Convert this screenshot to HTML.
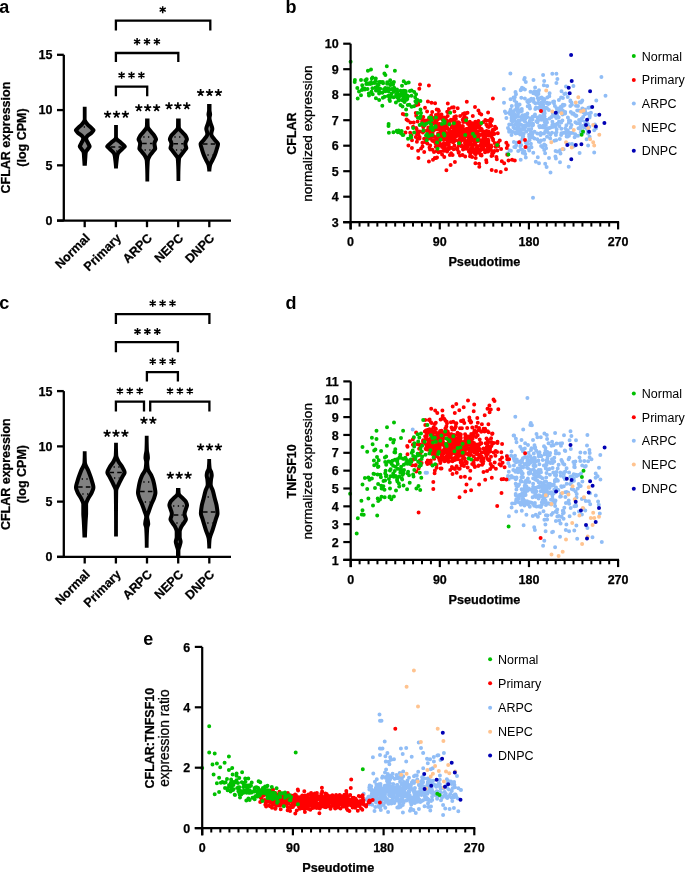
<!DOCTYPE html>
<html><head><meta charset="utf-8"><style>html,body{margin:0;padding:0;background:#fff;}svg{display:block;will-change:transform;}</style></head>
<body><svg width="685" height="872" viewBox="0 0 685 872" font-family="'Liberation Sans', sans-serif">
<rect width="685" height="872" fill="#fff"/>
<text x="-0.80" y="13.00" font-size="18" font-weight="bold" text-anchor="start" fill="#000">a</text>
<text x="285.40" y="12.90" font-size="18" font-weight="bold" text-anchor="start" fill="#000">b</text>
<text x="-0.70" y="308.60" font-size="18" font-weight="bold" text-anchor="start" fill="#000">c</text>
<text x="285.60" y="308.90" font-size="18" font-weight="bold" text-anchor="start" fill="#000">d</text>
<text x="143.20" y="644.90" font-size="18" font-weight="bold" text-anchor="start" fill="#000">e</text>
<line x1="63.80" y1="54.80" x2="63.80" y2="220.60" stroke="#000" stroke-width="2.3" stroke-linecap="butt"/>
<line x1="57.00" y1="220.60" x2="63.80" y2="220.60" stroke="#000" stroke-width="2.3" stroke-linecap="butt"/>
<text x="52.50" y="225.00" font-size="12.5" font-weight="bold" text-anchor="end" fill="#000" stroke="#000" stroke-width="0.25">0</text>
<line x1="57.00" y1="165.33" x2="63.80" y2="165.33" stroke="#000" stroke-width="2.3" stroke-linecap="butt"/>
<text x="52.50" y="169.73" font-size="12.5" font-weight="bold" text-anchor="end" fill="#000" stroke="#000" stroke-width="0.25">5</text>
<line x1="57.00" y1="110.07" x2="63.80" y2="110.07" stroke="#000" stroke-width="2.3" stroke-linecap="butt"/>
<text x="52.50" y="114.47" font-size="12.5" font-weight="bold" text-anchor="end" fill="#000" stroke="#000" stroke-width="0.25">10</text>
<line x1="57.00" y1="54.80" x2="63.80" y2="54.80" stroke="#000" stroke-width="2.3" stroke-linecap="butt"/>
<text x="52.50" y="59.20" font-size="12.5" font-weight="bold" text-anchor="end" fill="#000" stroke="#000" stroke-width="0.25">15</text>
<line x1="57.00" y1="220.60" x2="231.00" y2="220.60" stroke="#000" stroke-width="2.3" stroke-linecap="butt"/>
<line x1="84.70" y1="220.60" x2="84.70" y2="227.20" stroke="#000" stroke-width="2.3" stroke-linecap="butt"/>
<text x="90.60" y="238.80" font-size="12.5" font-weight="bold" text-anchor="end" fill="#000" transform="rotate(-45 90.60000000000001 238.79999999999998)" stroke="#000" stroke-width="0.25">Normal</text>
<line x1="115.90" y1="220.60" x2="115.90" y2="227.20" stroke="#000" stroke-width="2.3" stroke-linecap="butt"/>
<text x="121.80" y="238.80" font-size="12.5" font-weight="bold" text-anchor="end" fill="#000" transform="rotate(-45 121.80000000000001 238.79999999999998)" stroke="#000" stroke-width="0.25">Primary</text>
<line x1="147.00" y1="220.60" x2="147.00" y2="227.20" stroke="#000" stroke-width="2.3" stroke-linecap="butt"/>
<text x="152.90" y="238.80" font-size="12.5" font-weight="bold" text-anchor="end" fill="#000" transform="rotate(-45 152.9 238.79999999999998)" stroke="#000" stroke-width="0.25">ARPC</text>
<line x1="178.20" y1="220.60" x2="178.20" y2="227.20" stroke="#000" stroke-width="2.3" stroke-linecap="butt"/>
<text x="184.10" y="238.80" font-size="12.5" font-weight="bold" text-anchor="end" fill="#000" transform="rotate(-45 184.1 238.79999999999998)" stroke="#000" stroke-width="0.25">NEPC</text>
<line x1="209.30" y1="220.60" x2="209.30" y2="227.20" stroke="#000" stroke-width="2.3" stroke-linecap="butt"/>
<text x="215.20" y="238.80" font-size="12.5" font-weight="bold" text-anchor="end" fill="#000" transform="rotate(-45 215.20000000000002 238.79999999999998)" stroke="#000" stroke-width="0.25">DNPC</text>
<text x="10.20" y="137.60" font-size="12.5" font-weight="bold" text-anchor="middle" fill="#000" transform="rotate(-90 10.2 137.6)" stroke="#000" stroke-width="0.25">CFLAR expression</text>
<text x="26.20" y="137.60" font-size="12.5" font-weight="bold" text-anchor="middle" fill="#000" transform="rotate(-90 26.2 137.6)" stroke="#000" stroke-width="0.25">(log CPM)</text>
<path d="M115.90,30.40V20.60H210.30V30.40" stroke="#000" stroke-width="2.3" fill="none" stroke-linejoin="miter" stroke-linecap="butt"/>
<path d="M115.90,62.00V53.00H178.30V62.00" stroke="#000" stroke-width="2.3" fill="none" stroke-linejoin="miter" stroke-linecap="butt"/>
<path d="M115.90,96.20V86.60H147.20V96.20" stroke="#000" stroke-width="2.3" fill="none" stroke-linejoin="miter" stroke-linecap="butt"/>
<path d="M162.70,6.15V13.25M159.63,7.92L165.77,11.47M159.63,11.47L165.77,7.92" stroke="#000" stroke-width="1.5" fill="none"/>
<path d="M137.10,38.05V45.15M134.03,39.83L140.17,43.38M134.03,43.38L140.17,39.83M147.00,38.05V45.15M143.93,39.83L150.07,43.38M143.93,43.38L150.07,39.83M156.90,38.05V45.15M153.83,39.83L159.97,43.38M153.83,43.38L159.97,39.83" stroke="#000" stroke-width="1.5" fill="none"/>
<path d="M121.60,71.75V78.85M118.53,73.52L124.67,77.08M118.53,77.08L124.67,73.52M131.50,71.75V78.85M128.43,73.52L134.57,77.08M128.43,77.08L134.57,73.52M141.40,71.75V78.85M138.33,73.52L144.47,77.08M138.33,77.08L144.47,73.52" stroke="#000" stroke-width="1.5" fill="none"/>
<path d="M107.60,114.50L107.60,110.80M107.60,114.50L111.12,113.36M107.60,114.50L109.77,117.49M107.60,114.50L105.43,117.49M107.60,114.50L104.08,113.36M116.50,114.50L116.50,110.80M116.50,114.50L120.02,113.36M116.50,114.50L118.67,117.49M116.50,114.50L114.33,117.49M116.50,114.50L112.98,113.36M125.40,114.50L125.40,110.80M125.40,114.50L128.92,113.36M125.40,114.50L127.57,117.49M125.40,114.50L123.23,117.49M125.40,114.50L121.88,113.36" stroke="#000" stroke-width="1.7" fill="none" stroke-linecap="butt"/>
<path d="M138.80,107.90L138.80,104.20M138.80,107.90L142.32,106.76M138.80,107.90L140.97,110.89M138.80,107.90L136.63,110.89M138.80,107.90L135.28,106.76M147.70,107.90L147.70,104.20M147.70,107.90L151.22,106.76M147.70,107.90L149.87,110.89M147.70,107.90L145.53,110.89M147.70,107.90L144.18,106.76M156.60,107.90L156.60,104.20M156.60,107.90L160.12,106.76M156.60,107.90L158.77,110.89M156.60,107.90L154.43,110.89M156.60,107.90L153.08,106.76" stroke="#000" stroke-width="1.7" fill="none" stroke-linecap="butt"/>
<path d="M169.00,106.00L169.00,102.30M169.00,106.00L172.52,104.86M169.00,106.00L171.17,108.99M169.00,106.00L166.83,108.99M169.00,106.00L165.48,104.86M177.90,106.00L177.90,102.30M177.90,106.00L181.42,104.86M177.90,106.00L180.07,108.99M177.90,106.00L175.73,108.99M177.90,106.00L174.38,104.86M186.80,106.00L186.80,102.30M186.80,106.00L190.32,104.86M186.80,106.00L188.97,108.99M186.80,106.00L184.63,108.99M186.80,106.00L183.28,104.86" stroke="#000" stroke-width="1.7" fill="none" stroke-linecap="butt"/>
<path d="M200.60,92.80L200.60,89.10M200.60,92.80L204.12,91.66M200.60,92.80L202.77,95.79M200.60,92.80L198.43,95.79M200.60,92.80L197.08,91.66M209.50,92.80L209.50,89.10M209.50,92.80L213.02,91.66M209.50,92.80L211.67,95.79M209.50,92.80L207.33,95.79M209.50,92.80L205.98,91.66M218.40,92.80L218.40,89.10M218.40,92.80L221.92,91.66M218.40,92.80L220.57,95.79M218.40,92.80L216.23,95.79M218.40,92.80L214.88,91.66" stroke="#000" stroke-width="1.7" fill="none" stroke-linecap="butt"/>
<path d="M86.60,106.80L86.60,107.05L86.60,107.30L86.60,107.55L86.60,107.80L86.60,108.05L86.60,108.30L86.60,108.55L86.60,108.80L86.60,109.05L86.60,109.30L86.60,109.55L86.60,109.80L86.60,110.05L86.60,110.30L86.60,110.55L86.60,110.80L86.60,111.05L86.60,111.30L86.60,111.55L86.60,111.80L86.60,112.05L86.60,112.30L86.60,112.55L86.60,112.80L86.60,113.05L86.60,113.30L86.60,113.55L86.60,113.80L86.60,114.05L86.60,114.30L86.60,114.55L86.60,114.80L86.60,115.05L86.60,115.30L86.60,115.55L86.60,115.80L86.60,116.05L86.60,116.30L86.60,116.55L86.60,116.80L86.60,117.05L86.60,117.30L86.60,117.55L86.60,117.80L86.60,118.05L86.60,118.30L86.60,118.55L86.60,118.80L86.60,119.05L86.62,119.30L86.67,119.55L86.74,119.80L86.84,120.05L86.96,120.30L87.09,120.55L87.24,120.80L87.41,121.05L87.58,121.30L87.77,121.55L87.96,121.80L88.15,122.05L88.35,122.30L88.55,122.55L88.75,122.80L88.94,123.05L89.15,123.30L89.38,123.55L89.64,123.80L89.91,124.05L90.20,124.30L90.50,124.55L90.80,124.80L91.11,125.05L91.41,125.30L91.70,125.55L91.99,125.80L92.26,126.05L92.51,126.30L92.74,126.55L92.98,126.80L93.22,127.05L93.48,127.30L93.73,127.55L93.98,127.80L94.23,128.05L94.47,128.30L94.69,128.55L94.89,128.80L95.08,129.05L95.23,129.30L95.36,129.55L95.44,129.80L95.49,130.05L95.50,130.30L95.47,130.55L95.41,130.80L95.32,131.05L95.21,131.30L95.07,131.55L94.92,131.80L94.75,132.05L94.57,132.30L94.38,132.55L94.18,132.80L93.97,133.05L93.76,133.30L93.56,133.55L93.36,133.80L93.16,134.05L92.94,134.30L92.67,134.55L92.38,134.80L92.06,135.05L91.71,135.30L91.35,135.55L90.99,135.80L90.62,136.05L90.26,136.30L89.90,136.55L89.57,136.80L89.25,137.05L88.97,137.30L88.72,137.55L88.51,137.80L88.35,138.05L88.25,138.30L88.20,138.55L88.21,138.80L88.25,139.05L88.32,139.30L88.40,139.55L88.51,139.80L88.63,140.05L88.77,140.30L88.91,140.55L89.06,140.80L89.20,141.05L89.35,141.30L89.48,141.55L89.61,141.80L89.72,142.05L89.84,142.30L89.96,142.55L90.09,142.80L90.22,143.05L90.36,143.30L90.49,143.55L90.63,143.80L90.76,144.05L90.90,144.30L91.02,144.55L91.14,144.80L91.25,145.05L91.34,145.30L91.43,145.55L91.50,145.80L91.55,146.05L91.58,146.30L91.60,146.55L91.59,146.80L91.54,147.05L91.46,147.30L91.35,147.55L91.22,147.80L91.07,148.05L90.91,148.30L90.73,148.55L90.55,148.80L90.36,149.05L90.18,149.30L90.00,149.55L89.83,149.80L89.67,150.05L89.50,150.30L89.31,150.55L89.11,150.80L88.90,151.05L88.69,151.30L88.49,151.55L88.29,151.80L88.12,152.05L87.96,152.30L87.84,152.55L87.74,152.80L87.69,153.05L87.66,153.30L87.62,153.55L87.59,153.80L87.57,154.05L87.54,154.30L87.52,154.55L87.50,154.80L87.48,155.05L87.46,155.30L87.45,155.55L87.43,155.80L87.42,156.05L87.40,156.30L87.39,156.55L87.37,156.80L87.36,157.05L87.35,157.30L87.33,157.55L87.31,157.80L87.30,158.05L87.28,158.30L87.26,158.55L87.24,158.80L87.22,159.05L87.21,159.30L87.19,159.55L87.17,159.80L87.16,160.05L87.14,160.30L87.12,160.55L87.10,160.80L87.09,161.05L87.07,161.30L87.05,161.55L87.04,161.80L87.02,162.05L87.00,162.30L86.99,162.55L86.97,162.80L86.96,163.05L86.94,163.30L86.93,163.55L86.91,163.80L86.90,164.05L86.88,164.30L86.87,164.55L86.85,164.80L86.84,165.05L86.82,165.30L86.81,165.55L86.80,165.70L82.60,165.70L82.59,165.55L82.58,165.30L82.56,165.05L82.55,164.80L82.53,164.55L82.52,164.30L82.50,164.05L82.49,163.80L82.47,163.55L82.46,163.30L82.44,163.05L82.43,162.80L82.41,162.55L82.40,162.30L82.38,162.05L82.36,161.80L82.35,161.55L82.33,161.30L82.31,161.05L82.30,160.80L82.28,160.55L82.26,160.30L82.24,160.05L82.23,159.80L82.21,159.55L82.19,159.30L82.18,159.05L82.16,158.80L82.14,158.55L82.12,158.30L82.10,158.05L82.09,157.80L82.07,157.55L82.05,157.30L82.04,157.05L82.03,156.80L82.01,156.55L82.00,156.30L81.98,156.05L81.97,155.80L81.95,155.55L81.94,155.30L81.92,155.05L81.90,154.80L81.88,154.55L81.86,154.30L81.83,154.05L81.81,153.80L81.78,153.55L81.74,153.30L81.71,153.05L81.66,152.80L81.56,152.55L81.44,152.30L81.28,152.05L81.11,151.80L80.91,151.55L80.71,151.30L80.50,151.05L80.29,150.80L80.09,150.55L79.90,150.30L79.73,150.05L79.57,149.80L79.40,149.55L79.22,149.30L79.04,149.05L78.85,148.80L78.67,148.55L78.49,148.30L78.33,148.05L78.18,147.80L78.05,147.55L77.94,147.30L77.86,147.05L77.81,146.80L77.80,146.55L77.82,146.30L77.85,146.05L77.90,145.80L77.97,145.55L78.06,145.30L78.15,145.05L78.26,144.80L78.38,144.55L78.50,144.30L78.64,144.05L78.77,143.80L78.91,143.55L79.04,143.30L79.18,143.05L79.31,142.80L79.44,142.55L79.56,142.30L79.68,142.05L79.79,141.80L79.92,141.55L80.05,141.30L80.20,141.05L80.34,140.80L80.49,140.55L80.63,140.30L80.77,140.05L80.89,139.80L81.00,139.55L81.08,139.30L81.15,139.05L81.19,138.80L81.20,138.55L81.15,138.30L81.05,138.05L80.89,137.80L80.68,137.55L80.43,137.30L80.15,137.05L79.83,136.80L79.50,136.55L79.14,136.30L78.78,136.05L78.41,135.80L78.05,135.55L77.69,135.30L77.34,135.05L77.02,134.80L76.73,134.55L76.46,134.30L76.24,134.05L76.04,133.80L75.84,133.55L75.64,133.30L75.43,133.05L75.22,132.80L75.02,132.55L74.83,132.30L74.65,132.05L74.48,131.80L74.33,131.55L74.19,131.30L74.08,131.05L73.99,130.80L73.93,130.55L73.90,130.30L73.91,130.05L73.96,129.80L74.04,129.55L74.17,129.30L74.32,129.05L74.51,128.80L74.71,128.55L74.93,128.30L75.17,128.05L75.42,127.80L75.67,127.55L75.92,127.30L76.18,127.05L76.42,126.80L76.66,126.55L76.89,126.30L77.14,126.05L77.41,125.80L77.70,125.55L77.99,125.30L78.29,125.05L78.60,124.80L78.90,124.55L79.20,124.30L79.49,124.05L79.76,123.80L80.02,123.55L80.25,123.30L80.46,123.05L80.65,122.80L80.85,122.55L81.05,122.30L81.25,122.05L81.44,121.80L81.63,121.55L81.82,121.30L81.99,121.05L82.16,120.80L82.31,120.55L82.44,120.30L82.56,120.05L82.66,119.80L82.73,119.55L82.78,119.30L82.80,119.05L82.80,118.80L82.80,118.55L82.80,118.30L82.80,118.05L82.80,117.80L82.80,117.55L82.80,117.30L82.80,117.05L82.80,116.80L82.80,116.55L82.80,116.30L82.80,116.05L82.80,115.80L82.80,115.55L82.80,115.30L82.80,115.05L82.80,114.80L82.80,114.55L82.80,114.30L82.80,114.05L82.80,113.80L82.80,113.55L82.80,113.30L82.80,113.05L82.80,112.80L82.80,112.55L82.80,112.30L82.80,112.05L82.80,111.80L82.80,111.55L82.80,111.30L82.80,111.05L82.80,110.80L82.80,110.55L82.80,110.30L82.80,110.05L82.80,109.80L82.80,109.55L82.80,109.30L82.80,109.05L82.80,108.80L82.80,108.55L82.80,108.30L82.80,108.05L82.80,107.80L82.80,107.55L82.80,107.30L82.80,107.05L82.80,106.80Z" fill="#000"/>
<path d="M84.84,124.30L85.03,124.55L85.23,124.80L85.43,125.05L85.62,125.30L85.82,125.55L86.03,125.80L86.24,126.05L86.48,126.30L86.73,126.55L86.99,126.80L87.27,127.05L87.56,127.30L87.85,127.55L88.16,127.80L88.46,128.05L88.76,128.30L89.06,128.55L89.34,128.80L89.61,129.05L89.84,129.30L90.07,129.55L90.32,129.80L90.57,130.05L90.82,130.30L90.85,130.55L90.64,130.80L90.44,131.05L90.23,131.30L90.03,131.55L89.72,131.80L89.38,132.05L89.02,132.30L88.66,132.55L88.29,132.80L87.93,133.05L87.57,133.30L87.24,133.55L86.92,133.80L86.61,134.05L86.32,134.30L86.06,134.55L85.82,134.80L85.60,135.05L85.39,135.30L85.21,135.55L85.05,135.80L84.89,136.05L84.76,136.30L84.64,136.30L84.51,136.05L84.35,135.80L84.19,135.55L84.01,135.30L83.80,135.05L83.58,134.80L83.34,134.55L83.08,134.30L82.79,134.05L82.48,133.80L82.16,133.55L81.83,133.30L81.47,133.05L81.11,132.80L80.74,132.55L80.38,132.30L80.02,132.05L79.68,131.80L79.37,131.55L79.17,131.30L78.96,131.05L78.76,130.80L78.55,130.55L78.58,130.30L78.83,130.05L79.08,129.80L79.33,129.55L79.56,129.30L79.79,129.05L80.06,128.80L80.34,128.55L80.64,128.30L80.94,128.05L81.24,127.80L81.55,127.55L81.84,127.30L82.13,127.05L82.41,126.80L82.67,126.55L82.92,126.30L83.16,126.05L83.37,125.80L83.58,125.55L83.78,125.30L83.97,125.05L84.17,124.80L84.37,124.55L84.56,124.30Z" fill="#818181"/>
<path d="M84.80,141.30L84.91,141.55L85.04,141.80L85.17,142.05L85.30,142.30L85.45,142.55L85.59,142.80L85.74,143.05L85.88,143.30L86.01,143.55L86.12,143.80L86.24,144.05L86.36,144.30L86.49,144.55L86.62,144.80L86.75,145.05L86.89,145.30L87.03,145.55L87.17,145.80L87.30,146.05L87.42,146.30L87.24,146.55L87.05,146.80L86.87,147.05L86.69,147.30L86.52,147.55L86.36,147.80L86.19,148.05L85.99,148.30L85.78,148.55L85.57,148.80L85.37,149.05L85.17,149.30L84.99,149.55L84.81,149.80L84.59,149.80L84.41,149.55L84.23,149.30L84.03,149.05L83.83,148.80L83.62,148.55L83.41,148.30L83.21,148.05L83.04,147.80L82.88,147.55L82.71,147.30L82.53,147.05L82.35,146.80L82.16,146.55L81.98,146.30L82.10,146.05L82.23,145.80L82.37,145.55L82.51,145.30L82.65,145.05L82.78,144.80L82.91,144.55L83.04,144.30L83.16,144.05L83.28,143.80L83.39,143.55L83.52,143.30L83.66,143.05L83.81,142.80L83.95,142.55L84.10,142.30L84.23,142.05L84.36,141.80L84.49,141.55L84.60,141.30Z" fill="#818181"/>
<line x1="82.19" y1="127" x2="87.21" y2="127" stroke="#000" stroke-width="1.3" stroke-dasharray="1.3 3.4" stroke-dashoffset="-1.5"/>
<path d="M117.90,125.00L117.90,125.25L117.90,125.50L117.90,125.75L117.90,126.00L117.90,126.25L117.90,126.50L117.90,126.75L117.90,127.00L117.90,127.25L117.90,127.50L117.90,127.75L117.90,128.00L117.90,128.25L117.90,128.50L117.90,128.75L117.90,129.00L117.90,129.25L117.90,129.50L117.90,129.75L117.90,130.00L117.90,130.25L117.90,130.50L117.90,130.75L117.90,131.00L117.90,131.25L117.90,131.50L117.90,131.75L117.90,132.00L117.90,132.25L117.90,132.50L117.90,132.75L117.90,133.00L117.90,133.25L117.90,133.50L117.90,133.75L117.90,134.00L117.90,134.25L117.90,134.50L117.90,134.75L117.90,135.00L117.90,135.25L117.90,135.50L117.90,135.75L117.90,136.00L117.90,136.25L117.90,136.50L117.90,136.75L117.90,137.00L117.93,137.25L118.02,137.50L118.17,137.75L118.36,138.00L118.60,138.25L118.87,138.50L119.16,138.75L119.48,139.00L119.81,139.25L120.15,139.50L120.49,139.75L120.83,140.00L121.16,140.25L121.46,140.50L121.75,140.75L122.00,141.00L122.24,141.25L122.50,141.50L122.76,141.75L123.04,142.00L123.32,142.25L123.60,142.50L123.89,142.75L124.17,143.00L124.46,143.25L124.73,143.50L125.00,143.75L125.26,144.00L125.51,144.25L125.74,144.50L125.96,144.75L126.15,145.00L126.33,145.25L126.48,145.50L126.60,145.75L126.70,146.00L126.77,146.25L126.80,146.50L126.79,146.75L126.73,147.00L126.62,147.25L126.47,147.50L126.28,147.75L126.06,148.00L125.82,148.25L125.56,148.50L125.29,148.75L125.01,149.00L124.74,149.25L124.48,149.50L124.23,149.75L124.00,150.00L123.78,150.25L123.54,150.50L123.29,150.75L123.03,151.00L122.76,151.25L122.48,151.50L122.21,151.75L121.93,152.00L121.65,152.25L121.38,152.50L121.12,152.75L120.87,153.00L120.63,153.25L120.40,153.50L120.19,153.75L120.00,154.00L119.84,154.25L119.70,154.50L119.58,154.75L119.50,155.00L119.43,155.25L119.37,155.50L119.32,155.75L119.26,156.00L119.21,156.25L119.17,156.50L119.12,156.75L119.08,157.00L119.04,157.25L119.01,157.50L118.97,157.75L118.94,158.00L118.91,158.25L118.88,158.50L118.85,158.75L118.82,159.00L118.79,159.25L118.76,159.50L118.73,159.75L118.70,160.00L118.67,160.25L118.64,160.50L118.61,160.75L118.58,161.00L118.55,161.25L118.52,161.50L118.49,161.75L118.47,162.00L118.44,162.25L118.41,162.50L118.38,162.75L118.36,163.00L118.33,163.25L118.30,163.50L118.28,163.75L118.25,164.00L118.23,164.25L118.21,164.50L118.18,164.75L118.16,165.00L118.14,165.25L118.12,165.50L118.09,165.75L118.07,166.00L118.05,166.25L118.03,166.50L118.02,166.75L118.00,167.00L117.98,167.25L117.96,167.50L117.95,167.75L117.93,168.00L117.92,168.25L117.91,168.50L117.90,168.60L114.10,168.60L114.09,168.50L114.08,168.25L114.07,168.00L114.05,167.75L114.04,167.50L114.02,167.25L114.00,167.00L113.98,166.75L113.97,166.50L113.95,166.25L113.93,166.00L113.91,165.75L113.88,165.50L113.86,165.25L113.84,165.00L113.82,164.75L113.79,164.50L113.77,164.25L113.75,164.00L113.72,163.75L113.70,163.50L113.67,163.25L113.64,163.00L113.62,162.75L113.59,162.50L113.56,162.25L113.53,162.00L113.51,161.75L113.48,161.50L113.45,161.25L113.42,161.00L113.39,160.75L113.36,160.50L113.33,160.25L113.30,160.00L113.27,159.75L113.24,159.50L113.21,159.25L113.18,159.00L113.15,158.75L113.12,158.50L113.09,158.25L113.06,158.00L113.03,157.75L112.99,157.50L112.96,157.25L112.92,157.00L112.88,156.75L112.83,156.50L112.79,156.25L112.74,156.00L112.68,155.75L112.63,155.50L112.57,155.25L112.50,155.00L112.42,154.75L112.30,154.50L112.16,154.25L112.00,154.00L111.81,153.75L111.60,153.50L111.37,153.25L111.13,153.00L110.88,152.75L110.62,152.50L110.35,152.25L110.07,152.00L109.79,151.75L109.52,151.50L109.24,151.25L108.97,151.00L108.71,150.75L108.46,150.50L108.22,150.25L108.00,150.00L107.77,149.75L107.52,149.50L107.26,149.25L106.99,149.00L106.71,148.75L106.44,148.50L106.18,148.25L105.94,148.00L105.72,147.75L105.53,147.50L105.38,147.25L105.27,147.00L105.21,146.75L105.20,146.50L105.23,146.25L105.30,146.00L105.40,145.75L105.52,145.50L105.67,145.25L105.85,145.00L106.04,144.75L106.26,144.50L106.49,144.25L106.74,144.00L107.00,143.75L107.27,143.50L107.54,143.25L107.83,143.00L108.11,142.75L108.40,142.50L108.68,142.25L108.96,142.00L109.24,141.75L109.50,141.50L109.76,141.25L110.00,141.00L110.25,140.75L110.54,140.50L110.84,140.25L111.17,140.00L111.51,139.75L111.85,139.50L112.19,139.25L112.52,139.00L112.84,138.75L113.13,138.50L113.40,138.25L113.64,138.00L113.83,137.75L113.98,137.50L114.07,137.25L114.10,137.00L114.10,136.75L114.10,136.50L114.10,136.25L114.10,136.00L114.10,135.75L114.10,135.50L114.10,135.25L114.10,135.00L114.10,134.75L114.10,134.50L114.10,134.25L114.10,134.00L114.10,133.75L114.10,133.50L114.10,133.25L114.10,133.00L114.10,132.75L114.10,132.50L114.10,132.25L114.10,132.00L114.10,131.75L114.10,131.50L114.10,131.25L114.10,131.00L114.10,130.75L114.10,130.50L114.10,130.25L114.10,130.00L114.10,129.75L114.10,129.50L114.10,129.25L114.10,129.00L114.10,128.75L114.10,128.50L114.10,128.25L114.10,128.00L114.10,127.75L114.10,127.50L114.10,127.25L114.10,127.00L114.10,126.75L114.10,126.50L114.10,126.25L114.10,126.00L114.10,125.75L114.10,125.50L114.10,125.25L114.10,125.00Z" fill="#000"/>
<path d="M116.22,141.50L116.52,141.75L116.83,142.00L117.15,142.25L117.48,142.50L117.82,142.75L118.16,143.00L118.50,143.25L118.82,143.50L119.10,143.75L119.34,144.00L119.59,144.25L119.85,144.50L120.12,144.75L120.39,145.00L120.67,145.25L120.96,145.50L121.24,145.75L121.53,146.00L121.81,146.25L121.83,146.50L121.57,146.75L121.32,147.00L121.10,147.25L120.87,147.50L120.63,147.75L120.38,148.00L120.11,148.25L119.84,148.50L119.56,148.75L119.28,149.00L119.01,149.25L118.74,149.50L118.48,149.75L118.22,150.00L117.96,150.25L117.72,150.50L117.50,150.75L117.28,151.00L117.07,151.25L116.88,151.50L116.70,151.75L116.53,152.00L116.37,152.25L116.23,152.50L116.10,152.75L115.90,152.75L115.77,152.50L115.63,152.25L115.47,152.00L115.30,151.75L115.12,151.50L114.93,151.25L114.72,151.00L114.50,150.75L114.28,150.50L114.04,150.25L113.78,150.00L113.52,149.75L113.26,149.50L112.99,149.25L112.72,149.00L112.44,148.75L112.16,148.50L111.89,148.25L111.62,148.00L111.37,147.75L111.13,147.50L110.90,147.25L110.68,147.00L110.43,146.75L110.17,146.50L110.19,146.25L110.47,146.00L110.76,145.75L111.04,145.50L111.33,145.25L111.61,145.00L111.88,144.75L112.15,144.50L112.41,144.25L112.66,144.00L112.90,143.75L113.18,143.50L113.50,143.25L113.84,143.00L114.18,142.75L114.52,142.50L114.85,142.25L115.17,142.00L115.48,141.75L115.78,141.50Z" fill="#818181"/>
<line x1="110.68" y1="147" x2="121.32" y2="147" stroke="#000" stroke-width="1.4" stroke-dasharray="4.6 3.2"/>
<line x1="115.17" y1="142" x2="116.83" y2="142" stroke="#000" stroke-width="1.3" stroke-dasharray="1.3 3.4" stroke-dashoffset="-1.5"/>
<line x1="114.72" y1="151" x2="117.28" y2="151" stroke="#000" stroke-width="1.3" stroke-dasharray="1.3 3.4" stroke-dashoffset="-1.5"/>
<path d="M149.50,118.40L149.50,118.65L149.50,118.90L149.50,119.15L149.50,119.40L149.50,119.65L149.51,119.90L149.51,120.15L149.51,120.40L149.52,120.65L149.52,120.90L149.52,121.15L149.53,121.40L149.53,121.65L149.54,121.90L149.55,122.15L149.55,122.40L149.56,122.65L149.57,122.90L149.57,123.15L149.58,123.40L149.59,123.65L149.60,123.90L149.61,124.15L149.62,124.40L149.63,124.65L149.64,124.90L149.66,125.15L149.67,125.40L149.68,125.65L149.69,125.90L149.71,126.15L149.77,126.40L149.85,126.65L149.95,126.90L150.09,127.15L150.24,127.40L150.41,127.65L150.59,127.90L150.79,128.15L150.99,128.40L151.20,128.65L151.42,128.90L151.63,129.15L151.84,129.40L152.04,129.65L152.23,129.90L152.41,130.15L152.60,130.40L152.80,130.65L153.01,130.90L153.22,131.15L153.44,131.40L153.66,131.65L153.88,131.90L154.11,132.15L154.33,132.40L154.56,132.65L154.78,132.90L154.99,133.15L155.20,133.40L155.40,133.65L155.59,133.90L155.78,134.15L155.95,134.40L156.10,134.65L156.25,134.90L156.38,135.15L156.51,135.40L156.64,135.65L156.78,135.90L156.91,136.15L157.04,136.40L157.17,136.65L157.29,136.90L157.41,137.15L157.52,137.40L157.62,137.65L157.72,137.90L157.80,138.15L157.87,138.40L157.92,138.65L157.97,138.90L157.99,139.15L158.00,139.40L157.98,139.65L157.94,139.90L157.87,140.15L157.78,140.40L157.67,140.65L157.54,140.90L157.41,141.15L157.28,141.40L157.14,141.65L157.01,141.90L156.88,142.15L156.77,142.40L156.67,142.65L156.59,142.90L156.53,143.15L156.50,143.40L156.50,143.65L156.51,143.90L156.53,144.15L156.56,144.40L156.59,144.65L156.63,144.90L156.67,145.15L156.72,145.40L156.77,145.65L156.82,145.90L156.87,146.15L156.92,146.40L156.97,146.65L157.02,146.90L157.06,147.15L157.10,147.40L157.14,147.65L157.16,147.90L157.18,148.15L157.20,148.40L157.20,148.65L157.17,148.90L157.12,149.15L157.03,149.40L156.92,149.65L156.78,149.90L156.62,150.15L156.45,150.40L156.26,150.65L156.05,150.90L155.84,151.15L155.63,151.40L155.41,151.65L155.19,151.90L154.97,152.15L154.76,152.40L154.56,152.65L154.37,152.90L154.19,153.15L154.01,153.40L153.81,153.65L153.61,153.90L153.41,154.15L153.20,154.40L152.99,154.65L152.78,154.90L152.58,155.15L152.37,155.40L152.18,155.65L151.99,155.90L151.81,156.15L151.65,156.40L151.49,156.65L151.35,156.90L151.22,157.15L151.10,157.40L150.97,157.65L150.85,157.90L150.72,158.15L150.60,158.40L150.49,158.65L150.38,158.90L150.27,159.15L150.17,159.40L150.09,159.65L150.01,159.90L149.94,160.15L149.88,160.40L149.84,160.65L149.81,160.90L149.79,161.15L149.77,161.40L149.76,161.65L149.74,161.90L149.73,162.15L149.71,162.40L149.70,162.65L149.68,162.90L149.67,163.15L149.65,163.40L149.64,163.65L149.62,163.90L149.61,164.15L149.60,164.40L149.58,164.65L149.57,164.90L149.56,165.15L149.55,165.40L149.53,165.65L149.52,165.90L149.51,166.15L149.50,166.40L149.49,166.65L149.48,166.90L149.47,167.15L149.46,167.40L149.45,167.65L149.44,167.90L149.43,168.15L149.42,168.40L149.41,168.65L149.40,168.90L149.39,169.15L149.38,169.40L149.38,169.65L149.37,169.90L149.36,170.15L149.35,170.40L149.34,170.65L149.34,170.90L149.33,171.15L149.32,171.40L149.32,171.65L149.31,171.90L149.30,172.15L149.30,172.40L149.29,172.65L149.29,172.90L149.28,173.15L149.28,173.40L149.27,173.65L149.27,173.90L149.26,174.15L149.26,174.40L149.25,174.65L149.25,174.90L149.25,175.15L149.24,175.40L149.24,175.65L149.24,175.90L149.23,176.15L149.23,176.40L149.23,176.65L149.22,176.90L149.22,177.15L149.22,177.40L149.22,177.65L149.21,177.90L149.21,178.15L149.21,178.40L149.21,178.65L149.21,178.90L149.21,179.15L149.20,179.40L149.20,179.65L149.20,179.90L149.20,180.15L149.20,180.40L149.20,180.65L149.20,180.90L149.20,181.15L149.20,181.40L149.20,181.50L145.40,181.50L145.40,181.40L145.40,181.15L145.40,180.90L145.40,180.65L145.40,180.40L145.40,180.15L145.40,179.90L145.40,179.65L145.40,179.40L145.39,179.15L145.39,178.90L145.39,178.65L145.39,178.40L145.39,178.15L145.39,177.90L145.38,177.65L145.38,177.40L145.38,177.15L145.38,176.90L145.37,176.65L145.37,176.40L145.37,176.15L145.36,175.90L145.36,175.65L145.36,175.40L145.35,175.15L145.35,174.90L145.35,174.65L145.34,174.40L145.34,174.15L145.33,173.90L145.33,173.65L145.32,173.40L145.32,173.15L145.31,172.90L145.31,172.65L145.30,172.40L145.30,172.15L145.29,171.90L145.28,171.65L145.28,171.40L145.27,171.15L145.26,170.90L145.26,170.65L145.25,170.40L145.24,170.15L145.23,169.90L145.22,169.65L145.22,169.40L145.21,169.15L145.20,168.90L145.19,168.65L145.18,168.40L145.17,168.15L145.16,167.90L145.15,167.65L145.14,167.40L145.13,167.15L145.12,166.90L145.11,166.65L145.10,166.40L145.09,166.15L145.08,165.90L145.07,165.65L145.05,165.40L145.04,165.15L145.03,164.90L145.02,164.65L145.00,164.40L144.99,164.15L144.98,163.90L144.96,163.65L144.95,163.40L144.93,163.15L144.92,162.90L144.90,162.65L144.89,162.40L144.87,162.15L144.86,161.90L144.84,161.65L144.83,161.40L144.81,161.15L144.79,160.90L144.76,160.65L144.72,160.40L144.66,160.15L144.59,159.90L144.51,159.65L144.43,159.40L144.33,159.15L144.22,158.90L144.11,158.65L144.00,158.40L143.88,158.15L143.75,157.90L143.63,157.65L143.50,157.40L143.38,157.15L143.25,156.90L143.11,156.65L142.95,156.40L142.79,156.15L142.61,155.90L142.42,155.65L142.23,155.40L142.02,155.15L141.82,154.90L141.61,154.65L141.40,154.40L141.19,154.15L140.99,153.90L140.79,153.65L140.59,153.40L140.41,153.15L140.23,152.90L140.04,152.65L139.84,152.40L139.63,152.15L139.41,151.90L139.19,151.65L138.97,151.40L138.76,151.15L138.55,150.90L138.34,150.65L138.15,150.40L137.98,150.15L137.82,149.90L137.68,149.65L137.57,149.40L137.48,149.15L137.43,148.90L137.40,148.65L137.40,148.40L137.42,148.15L137.44,147.90L137.46,147.65L137.50,147.40L137.54,147.15L137.58,146.90L137.63,146.65L137.68,146.40L137.73,146.15L137.78,145.90L137.83,145.65L137.88,145.40L137.93,145.15L137.97,144.90L138.01,144.65L138.04,144.40L138.07,144.15L138.09,143.90L138.10,143.65L138.10,143.40L138.07,143.15L138.01,142.90L137.93,142.65L137.83,142.40L137.72,142.15L137.59,141.90L137.46,141.65L137.32,141.40L137.19,141.15L137.06,140.90L136.93,140.65L136.82,140.40L136.73,140.15L136.66,139.90L136.62,139.65L136.60,139.40L136.61,139.15L136.63,138.90L136.68,138.65L136.73,138.40L136.80,138.15L136.88,137.90L136.98,137.65L137.08,137.40L137.19,137.15L137.31,136.90L137.43,136.65L137.56,136.40L137.69,136.15L137.82,135.90L137.96,135.65L138.09,135.40L138.22,135.15L138.35,134.90L138.50,134.65L138.65,134.40L138.82,134.15L139.01,133.90L139.20,133.65L139.40,133.40L139.61,133.15L139.82,132.90L140.04,132.65L140.27,132.40L140.49,132.15L140.72,131.90L140.94,131.65L141.16,131.40L141.38,131.15L141.59,130.90L141.80,130.65L142.00,130.40L142.19,130.15L142.37,129.90L142.56,129.65L142.76,129.40L142.97,129.15L143.18,128.90L143.40,128.65L143.61,128.40L143.81,128.15L144.01,127.90L144.19,127.65L144.36,127.40L144.51,127.15L144.65,126.90L144.75,126.65L144.83,126.40L144.89,126.15L144.91,125.90L144.92,125.65L144.93,125.40L144.94,125.15L144.96,124.90L144.97,124.65L144.98,124.40L144.99,124.15L145.00,123.90L145.01,123.65L145.02,123.40L145.03,123.15L145.03,122.90L145.04,122.65L145.05,122.40L145.05,122.15L145.06,121.90L145.07,121.65L145.07,121.40L145.08,121.15L145.08,120.90L145.08,120.65L145.09,120.40L145.09,120.15L145.09,119.90L145.10,119.65L145.10,119.40L145.10,119.15L145.10,118.90L145.10,118.65L145.10,118.40Z" fill="#000"/>
<path d="M147.47,130.40L147.67,130.65L147.87,130.90L148.08,131.15L148.29,131.40L148.51,131.65L148.71,131.90L148.91,132.15L149.10,132.40L149.29,132.65L149.48,132.90L149.68,133.15L149.88,133.40L150.10,133.65L150.31,133.90L150.53,134.15L150.76,134.40L150.98,134.65L151.20,134.90L151.43,135.15L151.65,135.40L151.87,135.65L152.08,135.90L152.28,136.15L152.47,136.40L152.64,136.65L152.78,136.90L152.91,137.15L153.05,137.40L153.18,137.65L153.31,137.90L153.45,138.15L153.57,138.40L153.70,138.65L153.81,138.90L153.92,139.15L153.81,139.40L153.68,139.65L153.54,139.90L153.41,140.15L153.28,140.40L153.17,140.65L153.06,140.90L152.96,141.15L152.87,141.40L152.79,141.65L152.71,141.90L152.66,142.15L152.60,142.40L152.56,142.65L152.53,142.90L152.51,143.15L152.50,143.40L152.50,143.65L152.51,143.90L152.52,144.15L152.54,144.40L152.56,144.65L152.59,144.90L152.62,145.15L152.66,145.40L152.70,145.65L152.74,145.90L152.79,146.15L152.84,146.40L152.89,146.65L152.94,146.90L152.99,147.15L153.04,147.40L153.09,147.65L153.13,147.90L153.13,148.15L152.93,148.40L152.72,148.65L152.50,148.90L152.28,149.15L152.07,149.40L151.85,149.65L151.64,149.90L151.44,150.15L151.25,150.40L151.06,150.65L150.88,150.90L150.69,151.15L150.49,151.40L150.28,151.65L150.08,151.90L149.87,152.15L149.66,152.40L149.45,152.65L149.25,152.90L149.06,153.15L148.87,153.40L148.68,153.65L148.51,153.90L148.34,154.15L148.18,154.40L148.03,154.65L147.89,154.90L147.75,155.15L147.63,155.40L147.50,155.65L147.38,155.90L147.22,155.90L147.10,155.65L146.97,155.40L146.85,155.15L146.71,154.90L146.57,154.65L146.42,154.40L146.26,154.15L146.09,153.90L145.92,153.65L145.73,153.40L145.54,153.15L145.35,152.90L145.15,152.65L144.94,152.40L144.73,152.15L144.52,151.90L144.32,151.65L144.11,151.40L143.91,151.15L143.72,150.90L143.54,150.65L143.35,150.40L143.16,150.15L142.96,149.90L142.75,149.65L142.53,149.40L142.32,149.15L142.10,148.90L141.88,148.65L141.67,148.40L141.47,148.15L141.47,147.90L141.51,147.65L141.56,147.40L141.61,147.15L141.66,146.90L141.71,146.65L141.76,146.40L141.81,146.15L141.86,145.90L141.90,145.65L141.94,145.40L141.98,145.15L142.01,144.90L142.04,144.65L142.06,144.40L142.08,144.15L142.09,143.90L142.10,143.65L142.10,143.40L142.09,143.15L142.07,142.90L142.04,142.65L142.00,142.40L141.94,142.15L141.89,141.90L141.81,141.65L141.73,141.40L141.64,141.15L141.54,140.90L141.43,140.65L141.32,140.40L141.19,140.15L141.06,139.90L140.92,139.65L140.79,139.40L140.68,139.15L140.79,138.90L140.90,138.65L141.03,138.40L141.15,138.15L141.29,137.90L141.42,137.65L141.55,137.40L141.69,137.15L141.82,136.90L141.96,136.65L142.13,136.40L142.32,136.15L142.52,135.90L142.73,135.65L142.95,135.40L143.17,135.15L143.40,134.90L143.62,134.65L143.84,134.40L144.07,134.15L144.29,133.90L144.50,133.65L144.72,133.40L144.92,133.15L145.12,132.90L145.31,132.65L145.50,132.40L145.69,132.15L145.89,131.90L146.09,131.65L146.31,131.40L146.52,131.15L146.73,130.90L146.93,130.65L147.13,130.40Z" fill="#818181"/>
<line x1="142.10" y1="143.5" x2="152.50" y2="143.5" stroke="#000" stroke-width="1.4" stroke-dasharray="4.6 3.2"/>
<line x1="141.77" y1="137" x2="152.83" y2="137" stroke="#000" stroke-width="1.3" stroke-dasharray="1.3 3.4" stroke-dashoffset="-1.5"/>
<line x1="143.04" y1="150" x2="151.56" y2="150" stroke="#000" stroke-width="1.3" stroke-dasharray="1.3 3.4" stroke-dashoffset="-1.5"/>
<path d="M180.70,118.50L180.70,118.75L180.70,119.00L180.70,119.25L180.70,119.50L180.70,119.75L180.70,120.00L180.70,120.25L180.70,120.50L180.71,120.75L180.71,121.00L180.71,121.25L180.71,121.50L180.71,121.75L180.71,122.00L180.72,122.25L180.72,122.50L180.72,122.75L180.72,123.00L180.73,123.25L180.73,123.50L180.73,123.75L180.74,124.00L180.74,124.25L180.75,124.50L180.75,124.75L180.76,125.00L180.76,125.25L180.77,125.50L180.77,125.75L180.78,126.00L180.78,126.25L180.79,126.50L180.79,126.75L180.80,127.00L180.83,127.25L180.90,127.50L181.01,127.75L181.15,128.00L181.31,128.25L181.51,128.50L181.72,128.75L181.95,129.00L182.20,129.25L182.45,129.50L182.70,129.75L182.96,130.00L183.21,130.25L183.45,130.50L183.68,130.75L183.90,131.00L184.11,131.25L184.34,131.50L184.57,131.75L184.82,132.00L185.06,132.25L185.32,132.50L185.57,132.75L185.81,133.00L186.06,133.25L186.29,133.50L186.52,133.75L186.73,134.00L186.93,134.25L187.11,134.50L187.26,134.75L187.40,135.00L187.52,135.25L187.65,135.50L187.77,135.75L187.89,136.00L188.01,136.25L188.13,136.50L188.24,136.75L188.34,137.00L188.44,137.25L188.53,137.50L188.62,137.75L188.69,138.00L188.76,138.25L188.81,138.50L188.85,138.75L188.88,139.00L188.90,139.25L188.90,139.50L188.87,139.75L188.82,140.00L188.75,140.25L188.67,140.50L188.56,140.75L188.45,141.00L188.33,141.25L188.20,141.50L188.07,141.75L187.95,142.00L187.83,142.25L187.72,142.50L187.62,142.75L187.53,143.00L187.46,143.25L187.42,143.50L187.40,143.75L187.41,144.00L187.43,144.25L187.46,144.50L187.51,144.75L187.56,145.00L187.63,145.25L187.70,145.50L187.77,145.75L187.85,146.00L187.93,146.25L188.00,146.50L188.07,146.75L188.14,147.00L188.19,147.25L188.24,147.50L188.27,147.75L188.29,148.00L188.30,148.25L188.27,148.50L188.21,148.75L188.12,149.00L188.00,149.25L187.85,149.50L187.68,149.75L187.50,150.00L187.31,150.25L187.10,150.50L186.89,150.75L186.68,151.00L186.47,151.25L186.27,151.50L186.08,151.75L185.90,152.00L185.73,152.25L185.55,152.50L185.36,152.75L185.17,153.00L184.98,153.25L184.79,153.50L184.59,153.75L184.40,154.00L184.20,154.25L184.01,154.50L183.82,154.75L183.63,155.00L183.44,155.25L183.25,155.50L183.07,155.75L182.90,156.00L182.72,156.25L182.53,156.50L182.33,156.75L182.12,157.00L181.92,157.25L181.72,157.50L181.54,157.75L181.38,158.00L181.23,158.25L181.12,158.50L181.04,158.75L181.00,159.00L180.98,159.25L180.96,159.50L180.94,159.75L180.92,160.00L180.91,160.25L180.89,160.50L180.87,160.75L180.85,161.00L180.84,161.25L180.82,161.50L180.80,161.75L180.79,162.00L180.77,162.25L180.76,162.50L180.74,162.75L180.73,163.00L180.71,163.25L180.70,163.50L180.69,163.75L180.67,164.00L180.66,164.25L180.65,164.50L180.63,164.75L180.62,165.00L180.61,165.25L180.60,165.50L180.59,165.75L180.58,166.00L180.56,166.25L180.55,166.50L180.54,166.75L180.53,167.00L180.52,167.25L180.51,167.50L180.51,167.75L180.50,168.00L180.49,168.25L180.48,168.50L180.47,168.75L180.46,169.00L180.45,169.25L180.45,169.50L180.44,169.75L180.43,170.00L180.43,170.25L180.42,170.50L180.41,170.75L180.41,171.00L180.40,171.25L180.39,171.50L180.39,171.75L180.38,172.00L180.38,172.25L180.37,172.50L180.37,172.75L180.36,173.00L180.36,173.25L180.36,173.50L180.35,173.75L180.35,174.00L180.34,174.25L180.34,174.50L180.34,174.75L180.33,175.00L180.33,175.25L180.33,175.50L180.32,175.75L180.32,176.00L180.32,176.25L180.32,176.50L180.32,176.75L180.31,177.00L180.31,177.25L180.31,177.50L180.31,177.75L180.31,178.00L180.31,178.25L180.30,178.50L180.30,178.75L180.30,179.00L180.30,179.25L180.30,179.50L180.30,179.75L180.30,180.00L180.30,180.25L180.30,180.50L180.30,180.75L180.30,180.90L176.50,180.90L176.50,180.75L176.50,180.50L176.50,180.25L176.50,180.00L176.50,179.75L176.50,179.50L176.50,179.25L176.50,179.00L176.50,178.75L176.50,178.50L176.49,178.25L176.49,178.00L176.49,177.75L176.49,177.50L176.49,177.25L176.49,177.00L176.48,176.75L176.48,176.50L176.48,176.25L176.48,176.00L176.48,175.75L176.47,175.50L176.47,175.25L176.47,175.00L176.46,174.75L176.46,174.50L176.46,174.25L176.45,174.00L176.45,173.75L176.44,173.50L176.44,173.25L176.44,173.00L176.43,172.75L176.43,172.50L176.42,172.25L176.42,172.00L176.41,171.75L176.41,171.50L176.40,171.25L176.39,171.00L176.39,170.75L176.38,170.50L176.37,170.25L176.37,170.00L176.36,169.75L176.35,169.50L176.35,169.25L176.34,169.00L176.33,168.75L176.32,168.50L176.31,168.25L176.30,168.00L176.29,167.75L176.29,167.50L176.28,167.25L176.27,167.00L176.26,166.75L176.25,166.50L176.24,166.25L176.22,166.00L176.21,165.75L176.20,165.50L176.19,165.25L176.18,165.00L176.17,164.75L176.15,164.50L176.14,164.25L176.13,164.00L176.11,163.75L176.10,163.50L176.09,163.25L176.07,163.00L176.06,162.75L176.04,162.50L176.03,162.25L176.01,162.00L176.00,161.75L175.98,161.50L175.96,161.25L175.95,161.00L175.93,160.75L175.91,160.50L175.89,160.25L175.88,160.00L175.86,159.75L175.84,159.50L175.82,159.25L175.80,159.00L175.76,158.75L175.68,158.50L175.57,158.25L175.42,158.00L175.26,157.75L175.08,157.50L174.88,157.25L174.68,157.00L174.47,156.75L174.27,156.50L174.08,156.25L173.90,156.00L173.73,155.75L173.55,155.50L173.36,155.25L173.17,155.00L172.98,154.75L172.79,154.50L172.60,154.25L172.40,154.00L172.21,153.75L172.01,153.50L171.82,153.25L171.63,153.00L171.44,152.75L171.25,152.50L171.07,152.25L170.90,152.00L170.72,151.75L170.53,151.50L170.33,151.25L170.12,151.00L169.91,150.75L169.70,150.50L169.49,150.25L169.30,150.00L169.12,149.75L168.95,149.50L168.80,149.25L168.68,149.00L168.59,148.75L168.53,148.50L168.50,148.25L168.51,148.00L168.53,147.75L168.56,147.50L168.61,147.25L168.66,147.00L168.73,146.75L168.80,146.50L168.87,146.25L168.95,146.00L169.03,145.75L169.10,145.50L169.17,145.25L169.24,145.00L169.29,144.75L169.34,144.50L169.37,144.25L169.39,144.00L169.40,143.75L169.38,143.50L169.34,143.25L169.27,143.00L169.18,142.75L169.08,142.50L168.97,142.25L168.85,142.00L168.73,141.75L168.60,141.50L168.47,141.25L168.35,141.00L168.24,140.75L168.13,140.50L168.05,140.25L167.98,140.00L167.93,139.75L167.90,139.50L167.90,139.25L167.92,139.00L167.95,138.75L167.99,138.50L168.04,138.25L168.11,138.00L168.18,137.75L168.27,137.50L168.36,137.25L168.46,137.00L168.56,136.75L168.67,136.50L168.79,136.25L168.91,136.00L169.03,135.75L169.15,135.50L169.28,135.25L169.40,135.00L169.54,134.75L169.69,134.50L169.87,134.25L170.07,134.00L170.28,133.75L170.51,133.50L170.74,133.25L170.99,133.00L171.23,132.75L171.48,132.50L171.74,132.25L171.98,132.00L172.23,131.75L172.46,131.50L172.69,131.25L172.90,131.00L173.12,130.75L173.35,130.50L173.59,130.25L173.84,130.00L174.10,129.75L174.35,129.50L174.60,129.25L174.85,129.00L175.08,128.75L175.29,128.50L175.49,128.25L175.65,128.00L175.79,127.75L175.90,127.50L175.97,127.25L176.00,127.00L176.01,126.75L176.01,126.50L176.02,126.25L176.02,126.00L176.03,125.75L176.03,125.50L176.04,125.25L176.04,125.00L176.05,124.75L176.05,124.50L176.06,124.25L176.06,124.00L176.07,123.75L176.07,123.50L176.07,123.25L176.08,123.00L176.08,122.75L176.08,122.50L176.08,122.25L176.09,122.00L176.09,121.75L176.09,121.50L176.09,121.25L176.09,121.00L176.09,120.75L176.10,120.50L176.10,120.25L176.10,120.00L176.10,119.75L176.10,119.50L176.10,119.25L176.10,119.00L176.10,118.75L176.10,118.50Z" fill="#000"/>
<path d="M178.60,131.25L178.82,131.50L179.05,131.75L179.29,132.00L179.54,132.25L179.80,132.50L180.05,132.75L180.31,133.00L180.55,133.25L180.78,133.50L180.99,133.75L181.21,134.00L181.43,134.25L181.67,134.50L181.91,134.75L182.16,135.00L182.41,135.25L182.66,135.50L182.91,135.75L183.15,136.00L183.39,136.25L183.61,136.50L183.80,136.75L183.93,137.00L184.05,137.25L184.17,137.50L184.30,137.75L184.41,138.00L184.53,138.25L184.63,138.50L184.73,138.75L184.82,139.00L184.85,139.25L184.73,139.50L184.60,139.75L184.48,140.00L184.35,140.25L184.23,140.50L184.12,140.75L184.01,141.00L183.91,141.25L183.82,141.50L183.73,141.75L183.66,142.00L183.59,142.25L183.54,142.50L183.49,142.75L183.45,143.00L183.43,143.25L183.41,143.50L183.40,143.75L183.41,144.00L183.41,144.25L183.43,144.50L183.46,144.75L183.49,145.00L183.53,145.25L183.58,145.50L183.63,145.75L183.69,146.00L183.76,146.25L183.83,146.50L183.90,146.75L183.97,147.00L184.05,147.25L184.13,147.50L184.18,147.75L183.98,148.00L183.77,148.25L183.56,148.50L183.35,148.75L183.15,149.00L182.96,149.25L182.77,149.50L182.59,149.75L182.42,150.00L182.24,150.25L182.05,150.50L181.86,150.75L181.67,151.00L181.47,151.25L181.28,151.50L181.08,151.75L180.89,152.00L180.69,152.25L180.50,152.50L180.31,152.75L180.13,153.00L179.95,153.25L179.77,153.50L179.59,153.75L179.40,154.00L179.20,154.25L179.00,154.50L178.80,154.75L178.60,155.00L178.20,155.00L178.00,154.75L177.80,154.50L177.60,154.25L177.40,154.00L177.21,153.75L177.03,153.50L176.85,153.25L176.67,153.00L176.49,152.75L176.30,152.50L176.11,152.25L175.91,152.00L175.72,151.75L175.52,151.50L175.33,151.25L175.13,151.00L174.94,150.75L174.75,150.50L174.56,150.25L174.38,150.00L174.21,149.75L174.03,149.50L173.84,149.25L173.65,149.00L173.45,148.75L173.24,148.50L173.03,148.25L172.82,148.00L172.62,147.75L172.67,147.50L172.75,147.25L172.83,147.00L172.90,146.75L172.97,146.50L173.04,146.25L173.11,146.00L173.17,145.75L173.22,145.50L173.27,145.25L173.31,145.00L173.34,144.75L173.37,144.50L173.39,144.25L173.39,144.00L173.40,143.75L173.39,143.50L173.37,143.25L173.35,143.00L173.31,142.75L173.26,142.50L173.21,142.25L173.14,142.00L173.07,141.75L172.98,141.50L172.89,141.25L172.79,141.00L172.68,140.75L172.57,140.50L172.45,140.25L172.32,140.00L172.20,139.75L172.07,139.50L171.95,139.25L171.98,139.00L172.07,138.75L172.17,138.50L172.27,138.25L172.39,138.00L172.50,137.75L172.63,137.50L172.75,137.25L172.87,137.00L173.00,136.75L173.19,136.50L173.41,136.25L173.65,136.00L173.89,135.75L174.14,135.50L174.39,135.25L174.64,135.00L174.89,134.75L175.13,134.50L175.37,134.25L175.59,134.00L175.81,133.75L176.02,133.50L176.25,133.25L176.49,133.00L176.75,132.75L177.00,132.50L177.26,132.25L177.51,132.00L177.75,131.75L177.98,131.50L178.20,131.25Z" fill="#818181"/>
<line x1="173.40" y1="143.8" x2="183.40" y2="143.8" stroke="#000" stroke-width="1.4" stroke-dasharray="4.6 3.2"/>
<line x1="172.87" y1="137" x2="183.93" y2="137" stroke="#000" stroke-width="1.3" stroke-dasharray="1.3 3.4" stroke-dashoffset="-1.5"/>
<line x1="174.38" y1="150" x2="182.42" y2="150" stroke="#000" stroke-width="1.3" stroke-dasharray="1.3 3.4" stroke-dashoffset="-1.5"/>
<path d="M211.50,104.10L211.50,104.35L211.50,104.60L211.50,104.85L211.50,105.10L211.50,105.35L211.50,105.60L211.50,105.85L211.50,106.10L211.50,106.35L211.50,106.60L211.50,106.85L211.50,107.10L211.50,107.35L211.50,107.60L211.50,107.85L211.50,108.10L211.50,108.35L211.50,108.60L211.50,108.85L211.50,109.10L211.50,109.35L211.50,109.60L211.50,109.85L211.50,110.10L211.51,110.35L211.53,110.60L211.55,110.85L211.59,111.10L211.62,111.35L211.67,111.60L211.71,111.85L211.76,112.10L211.81,112.35L211.86,112.60L211.91,112.85L211.95,113.10L211.99,113.35L212.03,113.60L212.06,113.85L212.08,114.10L212.09,114.35L212.10,114.60L212.09,114.85L212.06,115.10L212.03,115.35L211.97,115.60L211.92,115.85L211.85,116.10L211.79,116.35L211.72,116.60L211.66,116.85L211.60,117.10L211.56,117.35L211.52,117.60L211.50,117.85L211.50,118.10L211.51,118.35L211.53,118.60L211.56,118.85L211.60,119.10L211.64,119.35L211.69,119.60L211.75,119.85L211.81,120.10L211.87,120.35L211.94,120.60L212.00,120.85L212.07,121.10L212.14,121.35L212.20,121.60L212.26,121.85L212.32,122.10L212.39,122.35L212.46,122.60L212.53,122.85L212.61,123.10L212.70,123.35L212.79,123.60L212.88,123.85L212.97,124.10L213.07,124.35L213.16,124.60L213.26,124.85L213.35,125.10L213.45,125.35L213.54,125.60L213.63,125.85L213.72,126.10L213.80,126.35L213.88,126.60L213.96,126.85L214.02,127.10L214.09,127.35L214.14,127.60L214.19,127.85L214.23,128.10L214.26,128.35L214.29,128.60L214.30,128.85L214.30,129.10L214.29,129.35L214.26,129.60L214.22,129.85L214.18,130.10L214.12,130.35L214.06,130.60L213.99,130.85L213.92,131.10L213.84,131.35L213.77,131.60L213.70,131.85L213.62,132.10L213.55,132.35L213.49,132.60L213.43,132.85L213.39,133.10L213.35,133.35L213.32,133.60L213.30,133.85L213.30,134.10L213.34,134.35L213.40,134.60L213.50,134.85L213.62,135.10L213.76,135.35L213.93,135.60L214.11,135.85L214.30,136.10L214.50,136.35L214.71,136.60L214.91,136.85L215.12,137.10L215.32,137.35L215.52,137.60L215.70,137.85L215.87,138.10L216.05,138.35L216.24,138.60L216.44,138.85L216.65,139.10L216.88,139.35L217.10,139.60L217.33,139.85L217.57,140.10L217.80,140.35L218.03,140.60L218.26,140.85L218.48,141.10L218.70,141.35L218.90,141.60L219.09,141.85L219.27,142.10L219.44,142.35L219.59,142.60L219.71,142.85L219.82,143.10L219.90,143.35L219.96,143.60L219.99,143.85L220.00,144.10L219.99,144.35L219.98,144.60L219.95,144.85L219.92,145.10L219.88,145.35L219.84,145.60L219.79,145.85L219.74,146.10L219.68,146.35L219.61,146.60L219.55,146.85L219.48,147.10L219.40,147.35L219.33,147.60L219.25,147.85L219.18,148.10L219.10,148.35L219.02,148.60L218.94,148.85L218.86,149.10L218.79,149.35L218.71,149.60L218.64,149.85L218.57,150.10L218.50,150.35L218.43,150.60L218.36,150.85L218.29,151.10L218.21,151.35L218.13,151.60L218.06,151.85L217.98,152.10L217.90,152.35L217.82,152.60L217.74,152.85L217.65,153.10L217.57,153.35L217.48,153.60L217.39,153.85L217.31,154.10L217.22,154.35L217.13,154.60L217.04,154.85L216.94,155.10L216.85,155.35L216.75,155.60L216.66,155.85L216.56,156.10L216.46,156.35L216.36,156.60L216.25,156.85L216.14,157.10L216.03,157.35L215.92,157.60L215.80,157.85L215.68,158.10L215.57,158.35L215.45,158.60L215.33,158.85L215.21,159.10L215.09,159.35L214.96,159.60L214.84,159.85L214.72,160.10L214.60,160.35L214.49,160.60L214.37,160.85L214.25,161.10L214.13,161.35L214.01,161.60L213.88,161.85L213.74,162.10L213.60,162.35L213.47,162.60L213.33,162.85L213.19,163.10L213.05,163.35L212.92,163.60L212.79,163.85L212.66,164.10L212.54,164.35L212.42,164.60L212.31,164.85L212.22,165.10L212.12,165.35L212.04,165.60L211.98,165.85L211.92,166.10L211.87,166.35L211.83,166.60L211.79,166.85L211.74,167.10L211.70,167.35L211.66,167.60L211.62,167.85L211.59,168.10L211.55,168.35L211.52,168.60L211.48,168.85L211.45,169.10L211.43,169.35L211.40,169.60L211.38,169.85L211.36,170.10L211.34,170.35L211.33,170.60L211.32,170.85L211.31,171.10L211.30,171.35L211.30,171.60L207.30,171.60L207.30,171.35L207.29,171.10L207.28,170.85L207.27,170.60L207.26,170.35L207.24,170.10L207.22,169.85L207.20,169.60L207.17,169.35L207.15,169.10L207.12,168.85L207.08,168.60L207.05,168.35L207.01,168.10L206.98,167.85L206.94,167.60L206.90,167.35L206.86,167.10L206.81,166.85L206.77,166.60L206.73,166.35L206.68,166.10L206.62,165.85L206.56,165.60L206.48,165.35L206.38,165.10L206.29,164.85L206.18,164.60L206.06,164.35L205.94,164.10L205.81,163.85L205.68,163.60L205.55,163.35L205.41,163.10L205.27,162.85L205.13,162.60L205.00,162.35L204.86,162.10L204.72,161.85L204.59,161.60L204.47,161.35L204.35,161.10L204.23,160.85L204.11,160.60L204.00,160.35L203.88,160.10L203.76,159.85L203.64,159.60L203.51,159.35L203.39,159.10L203.27,158.85L203.15,158.60L203.03,158.35L202.92,158.10L202.80,157.85L202.68,157.60L202.57,157.35L202.46,157.10L202.35,156.85L202.24,156.60L202.14,156.35L202.04,156.10L201.94,155.85L201.85,155.60L201.75,155.35L201.66,155.10L201.56,154.85L201.47,154.60L201.38,154.35L201.29,154.10L201.21,153.85L201.12,153.60L201.03,153.35L200.95,153.10L200.86,152.85L200.78,152.60L200.70,152.35L200.62,152.10L200.54,151.85L200.47,151.60L200.39,151.35L200.31,151.10L200.24,150.85L200.17,150.60L200.10,150.35L200.03,150.10L199.96,149.85L199.89,149.60L199.81,149.35L199.74,149.10L199.66,148.85L199.58,148.60L199.50,148.35L199.42,148.10L199.35,147.85L199.27,147.60L199.20,147.35L199.12,147.10L199.05,146.85L198.99,146.60L198.92,146.35L198.86,146.10L198.81,145.85L198.76,145.60L198.72,145.35L198.68,145.10L198.65,144.85L198.62,144.60L198.61,144.35L198.60,144.10L198.61,143.85L198.64,143.60L198.70,143.35L198.78,143.10L198.89,142.85L199.01,142.60L199.16,142.35L199.33,142.10L199.51,141.85L199.70,141.60L199.90,141.35L200.12,141.10L200.34,140.85L200.57,140.60L200.80,140.35L201.03,140.10L201.27,139.85L201.50,139.60L201.72,139.35L201.95,139.10L202.16,138.85L202.36,138.60L202.55,138.35L202.73,138.10L202.90,137.85L203.08,137.60L203.28,137.35L203.48,137.10L203.69,136.85L203.89,136.60L204.10,136.35L204.30,136.10L204.49,135.85L204.67,135.60L204.84,135.35L204.98,135.10L205.10,134.85L205.20,134.60L205.26,134.35L205.30,134.10L205.30,133.85L205.28,133.60L205.25,133.35L205.21,133.10L205.17,132.85L205.11,132.60L205.05,132.35L204.98,132.10L204.90,131.85L204.83,131.60L204.76,131.35L204.68,131.10L204.61,130.85L204.54,130.60L204.48,130.35L204.42,130.10L204.38,129.85L204.34,129.60L204.31,129.35L204.30,129.10L204.30,128.85L204.31,128.60L204.34,128.35L204.37,128.10L204.41,127.85L204.46,127.60L204.51,127.35L204.58,127.10L204.64,126.85L204.72,126.60L204.80,126.35L204.88,126.10L204.97,125.85L205.06,125.60L205.15,125.35L205.25,125.10L205.34,124.85L205.44,124.60L205.53,124.35L205.63,124.10L205.72,123.85L205.81,123.60L205.90,123.35L205.99,123.10L206.07,122.85L206.14,122.60L206.21,122.35L206.28,122.10L206.34,121.85L206.40,121.60L206.46,121.35L206.53,121.10L206.60,120.85L206.66,120.60L206.73,120.35L206.79,120.10L206.85,119.85L206.91,119.60L206.96,119.35L207.00,119.10L207.04,118.85L207.07,118.60L207.09,118.35L207.10,118.10L207.10,117.85L207.08,117.60L207.04,117.35L207.00,117.10L206.94,116.85L206.88,116.60L206.81,116.35L206.75,116.10L206.68,115.85L206.63,115.60L206.57,115.35L206.54,115.10L206.51,114.85L206.50,114.60L206.51,114.35L206.52,114.10L206.54,113.85L206.57,113.60L206.61,113.35L206.65,113.10L206.69,112.85L206.74,112.60L206.79,112.35L206.84,112.10L206.89,111.85L206.93,111.60L206.98,111.35L207.01,111.10L207.05,110.85L207.07,110.60L207.09,110.35L207.10,110.10L207.10,109.85L207.10,109.60L207.10,109.35L207.10,109.10L207.10,108.85L207.10,108.60L207.10,108.35L207.10,108.10L207.10,107.85L207.10,107.60L207.10,107.35L207.10,107.10L207.10,106.85L207.10,106.60L207.10,106.35L207.10,106.10L207.10,105.85L207.10,105.60L207.10,105.35L207.10,105.10L207.10,104.85L207.10,104.60L207.10,104.35L207.10,104.10Z" fill="#000"/>
<path d="M209.36,125.85L209.45,126.10L209.55,126.35L209.64,126.60L209.74,126.85L209.83,127.10L209.92,127.35L210.00,127.60L210.08,127.85L210.15,128.10L210.21,128.35L210.26,128.60L210.29,128.85L210.29,129.10L210.25,129.35L210.19,129.60L210.12,129.85L210.05,130.10L209.97,130.35L209.90,130.60L209.82,130.85L209.75,131.10L209.68,131.35L209.62,131.60L209.56,131.85L209.51,132.10L209.46,132.35L209.42,132.60L209.38,132.85L209.22,132.85L209.18,132.60L209.14,132.35L209.09,132.10L209.04,131.85L208.98,131.60L208.92,131.35L208.85,131.10L208.78,130.85L208.70,130.60L208.63,130.35L208.55,130.10L208.48,129.85L208.41,129.60L208.35,129.35L208.31,129.10L208.31,128.85L208.34,128.60L208.39,128.35L208.45,128.10L208.52,127.85L208.60,127.60L208.68,127.35L208.77,127.10L208.86,126.85L208.96,126.60L209.05,126.35L209.15,126.10L209.24,125.85Z" fill="#818181"/>
<path d="M209.37,134.85L209.41,135.10L209.46,135.35L209.53,135.60L209.60,135.85L209.69,136.10L209.79,136.35L209.90,136.60L210.02,136.85L210.15,137.10L210.30,137.35L210.46,137.60L210.62,137.85L210.80,138.10L210.98,138.35L211.18,138.60L211.38,138.85L211.58,139.10L211.79,139.35L212.00,139.60L212.20,139.85L212.39,140.10L212.56,140.35L212.74,140.60L212.92,140.85L213.11,141.10L213.32,141.35L213.53,141.60L213.75,141.85L213.97,142.10L214.20,142.35L214.43,142.60L214.66,142.85L214.90,143.10L215.13,143.35L215.35,143.60L215.57,143.85L215.78,144.10L215.97,144.35L215.95,144.60L215.91,144.85L215.86,145.10L215.80,145.35L215.74,145.60L215.67,145.85L215.60,146.10L215.53,146.35L215.45,146.60L215.38,146.85L215.30,147.10L215.22,147.35L215.14,147.60L215.06,147.85L214.99,148.10L214.91,148.35L214.84,148.60L214.77,148.85L214.70,149.10L214.63,149.35L214.56,149.60L214.49,149.85L214.41,150.10L214.33,150.35L214.26,150.60L214.18,150.85L214.10,151.10L214.02,151.35L213.94,151.60L213.85,151.85L213.77,152.10L213.68,152.35L213.59,152.60L213.51,152.85L213.42,153.10L213.33,153.35L213.23,153.60L213.14,153.85L213.05,154.10L212.95,154.35L212.85,154.60L212.75,154.85L212.65,155.10L212.54,155.35L212.43,155.60L212.32,155.85L212.21,156.10L212.09,156.35L211.97,156.60L211.85,156.85L211.73,157.10L211.61,157.35L211.49,157.60L211.37,157.85L211.25,158.10L211.13,158.35L211.01,158.60L210.89,158.85L210.77,159.10L210.66,159.35L210.54,159.60L210.41,159.85L210.28,160.10L210.14,160.35L210.00,160.60L209.86,160.85L209.72,161.10L209.59,161.35L209.45,161.60L209.15,161.60L209.01,161.35L208.88,161.10L208.74,160.85L208.60,160.60L208.46,160.35L208.32,160.10L208.19,159.85L208.06,159.60L207.94,159.35L207.83,159.10L207.71,158.85L207.59,158.60L207.47,158.35L207.35,158.10L207.23,157.85L207.11,157.60L206.99,157.35L206.87,157.10L206.75,156.85L206.63,156.60L206.51,156.35L206.39,156.10L206.28,155.85L206.17,155.60L206.06,155.35L205.95,155.10L205.85,154.85L205.75,154.60L205.65,154.35L205.55,154.10L205.46,153.85L205.37,153.60L205.27,153.35L205.18,153.10L205.09,152.85L205.01,152.60L204.92,152.35L204.83,152.10L204.75,151.85L204.66,151.60L204.58,151.35L204.50,151.10L204.42,150.85L204.34,150.60L204.27,150.35L204.19,150.10L204.11,149.85L204.04,149.60L203.97,149.35L203.90,149.10L203.83,148.85L203.76,148.60L203.69,148.35L203.61,148.10L203.54,147.85L203.46,147.60L203.38,147.35L203.30,147.10L203.22,146.85L203.15,146.60L203.07,146.35L203.00,146.10L202.93,145.85L202.86,145.60L202.80,145.35L202.74,145.10L202.69,144.85L202.65,144.60L202.63,144.35L202.82,144.10L203.03,143.85L203.25,143.60L203.47,143.35L203.70,143.10L203.94,142.85L204.17,142.60L204.40,142.35L204.63,142.10L204.85,141.85L205.07,141.60L205.28,141.35L205.49,141.10L205.68,140.85L205.86,140.60L206.04,140.35L206.21,140.10L206.40,139.85L206.60,139.60L206.81,139.35L207.02,139.10L207.22,138.85L207.42,138.60L207.62,138.35L207.80,138.10L207.98,137.85L208.14,137.60L208.30,137.35L208.45,137.10L208.58,136.85L208.70,136.60L208.81,136.35L208.91,136.10L209.00,135.85L209.07,135.60L209.14,135.35L209.19,135.10L209.23,134.85Z" fill="#818181"/>
<line x1="202.90" y1="144" x2="215.70" y2="144" stroke="#000" stroke-width="1.4" stroke-dasharray="4.6 3.2"/>
<line x1="205.91" y1="155" x2="212.69" y2="155" stroke="#000" stroke-width="1.3" stroke-dasharray="1.3 3.4" stroke-dashoffset="-1.5"/>
<line x1="63.80" y1="391.10" x2="63.80" y2="556.90" stroke="#000" stroke-width="2.3" stroke-linecap="butt"/>
<line x1="57.00" y1="556.90" x2="63.80" y2="556.90" stroke="#000" stroke-width="2.3" stroke-linecap="butt"/>
<text x="52.50" y="561.30" font-size="12.5" font-weight="bold" text-anchor="end" fill="#000" stroke="#000" stroke-width="0.25">0</text>
<line x1="57.00" y1="501.63" x2="63.80" y2="501.63" stroke="#000" stroke-width="2.3" stroke-linecap="butt"/>
<text x="52.50" y="506.03" font-size="12.5" font-weight="bold" text-anchor="end" fill="#000" stroke="#000" stroke-width="0.25">5</text>
<line x1="57.00" y1="446.37" x2="63.80" y2="446.37" stroke="#000" stroke-width="2.3" stroke-linecap="butt"/>
<text x="52.50" y="450.77" font-size="12.5" font-weight="bold" text-anchor="end" fill="#000" stroke="#000" stroke-width="0.25">10</text>
<line x1="57.00" y1="391.10" x2="63.80" y2="391.10" stroke="#000" stroke-width="2.3" stroke-linecap="butt"/>
<text x="52.50" y="395.50" font-size="12.5" font-weight="bold" text-anchor="end" fill="#000" stroke="#000" stroke-width="0.25">15</text>
<line x1="57.00" y1="556.90" x2="231.00" y2="556.90" stroke="#000" stroke-width="2.3" stroke-linecap="butt"/>
<line x1="84.70" y1="556.90" x2="84.70" y2="563.50" stroke="#000" stroke-width="2.3" stroke-linecap="butt"/>
<text x="90.60" y="575.10" font-size="12.5" font-weight="bold" text-anchor="end" fill="#000" transform="rotate(-45 90.60000000000001 575.1)" stroke="#000" stroke-width="0.25">Normal</text>
<line x1="115.90" y1="556.90" x2="115.90" y2="563.50" stroke="#000" stroke-width="2.3" stroke-linecap="butt"/>
<text x="121.80" y="575.10" font-size="12.5" font-weight="bold" text-anchor="end" fill="#000" transform="rotate(-45 121.80000000000001 575.1)" stroke="#000" stroke-width="0.25">Primary</text>
<line x1="147.00" y1="556.90" x2="147.00" y2="563.50" stroke="#000" stroke-width="2.3" stroke-linecap="butt"/>
<text x="152.90" y="575.10" font-size="12.5" font-weight="bold" text-anchor="end" fill="#000" transform="rotate(-45 152.9 575.1)" stroke="#000" stroke-width="0.25">ARPC</text>
<line x1="178.20" y1="556.90" x2="178.20" y2="563.50" stroke="#000" stroke-width="2.3" stroke-linecap="butt"/>
<text x="184.10" y="575.10" font-size="12.5" font-weight="bold" text-anchor="end" fill="#000" transform="rotate(-45 184.1 575.1)" stroke="#000" stroke-width="0.25">NEPC</text>
<line x1="209.30" y1="556.90" x2="209.30" y2="563.50" stroke="#000" stroke-width="2.3" stroke-linecap="butt"/>
<text x="215.20" y="575.10" font-size="12.5" font-weight="bold" text-anchor="end" fill="#000" transform="rotate(-45 215.20000000000002 575.1)" stroke="#000" stroke-width="0.25">DNPC</text>
<text x="10.20" y="474.20" font-size="12.5" font-weight="bold" text-anchor="middle" fill="#000" transform="rotate(-90 10.2 474.2)" stroke="#000" stroke-width="0.25">CFLAR expression</text>
<text x="26.20" y="474.20" font-size="12.5" font-weight="bold" text-anchor="middle" fill="#000" transform="rotate(-90 26.2 474.2)" stroke="#000" stroke-width="0.25">(log CPM)</text>
<path d="M115.90,324.00V314.20H209.40V324.00" stroke="#000" stroke-width="2.3" fill="none" stroke-linejoin="miter" stroke-linecap="butt"/>
<path d="M115.90,352.20V342.20H177.90V352.20" stroke="#000" stroke-width="2.3" fill="none" stroke-linejoin="miter" stroke-linecap="butt"/>
<path d="M146.90,381.60V372.20H177.90V381.60" stroke="#000" stroke-width="2.3" fill="none" stroke-linejoin="miter" stroke-linecap="butt"/>
<path d="M115.90,411.40V401.60H144.00V411.40" stroke="#000" stroke-width="2.3" fill="none" stroke-linejoin="miter" stroke-linecap="butt"/>
<path d="M150.20,411.40V401.60H209.40V411.40" stroke="#000" stroke-width="2.3" fill="none" stroke-linejoin="miter" stroke-linecap="butt"/>
<path d="M152.70,299.75V306.85M149.63,301.53L155.77,305.07M149.63,305.07L155.77,301.53M162.60,299.75V306.85M159.53,301.53L165.67,305.07M159.53,305.07L165.67,301.53M172.50,299.75V306.85M169.43,301.53L175.57,305.07M169.43,305.07L175.57,301.53" stroke="#000" stroke-width="1.5" fill="none"/>
<path d="M137.50,327.95V335.05M134.43,329.73L140.57,333.27M134.43,333.27L140.57,329.73M147.40,327.95V335.05M144.33,329.73L150.47,333.27M144.33,333.27L150.47,329.73M157.30,327.95V335.05M154.23,329.73L160.37,333.27M154.23,333.27L160.37,329.73" stroke="#000" stroke-width="1.5" fill="none"/>
<path d="M152.70,357.85V364.95M149.63,359.62L155.77,363.17M149.63,363.17L155.77,359.62M162.60,357.85V364.95M159.53,359.62L165.67,363.17M159.53,363.17L165.67,359.62M172.50,357.85V364.95M169.43,359.62L175.57,363.17M169.43,363.17L175.57,359.62" stroke="#000" stroke-width="1.5" fill="none"/>
<path d="M119.90,387.45V394.55M116.83,389.23L122.97,392.77M116.83,392.77L122.97,389.23M129.80,387.45V394.55M126.73,389.23L132.87,392.77M126.73,392.77L132.87,389.23M139.70,387.45V394.55M136.63,389.23L142.77,392.77M136.63,392.77L142.77,389.23" stroke="#000" stroke-width="1.5" fill="none"/>
<path d="M170.00,387.45V394.55M166.93,389.23L173.07,392.77M166.93,392.77L173.07,389.23M179.90,387.45V394.55M176.83,389.23L182.97,392.77M176.83,392.77L182.97,389.23M189.80,387.45V394.55M186.73,389.23L192.87,392.77M186.73,392.77L192.87,389.23" stroke="#000" stroke-width="1.5" fill="none"/>
<path d="M143.95,420.50L143.95,416.80M143.95,420.50L147.47,419.36M143.95,420.50L146.12,423.49M143.95,420.50L141.78,423.49M143.95,420.50L140.43,419.36M152.85,420.50L152.85,416.80M152.85,420.50L156.37,419.36M152.85,420.50L155.02,423.49M152.85,420.50L150.68,423.49M152.85,420.50L149.33,419.36" stroke="#000" stroke-width="1.7" fill="none" stroke-linecap="butt"/>
<path d="M107.10,433.50L107.10,429.80M107.10,433.50L110.62,432.36M107.10,433.50L109.27,436.49M107.10,433.50L104.93,436.49M107.10,433.50L103.58,432.36M116.00,433.50L116.00,429.80M116.00,433.50L119.52,432.36M116.00,433.50L118.17,436.49M116.00,433.50L113.83,436.49M116.00,433.50L112.48,432.36M124.90,433.50L124.90,429.80M124.90,433.50L128.42,432.36M124.90,433.50L127.07,436.49M124.90,433.50L122.73,436.49M124.90,433.50L121.38,432.36" stroke="#000" stroke-width="1.7" fill="none" stroke-linecap="butt"/>
<path d="M170.30,475.50L170.30,471.80M170.30,475.50L173.82,474.36M170.30,475.50L172.47,478.49M170.30,475.50L168.13,478.49M170.30,475.50L166.78,474.36M179.20,475.50L179.20,471.80M179.20,475.50L182.72,474.36M179.20,475.50L181.37,478.49M179.20,475.50L177.03,478.49M179.20,475.50L175.68,474.36M188.10,475.50L188.10,471.80M188.10,475.50L191.62,474.36M188.10,475.50L190.27,478.49M188.10,475.50L185.93,478.49M188.10,475.50L184.58,474.36" stroke="#000" stroke-width="1.7" fill="none" stroke-linecap="butt"/>
<path d="M200.60,447.30L200.60,443.60M200.60,447.30L204.12,446.16M200.60,447.30L202.77,450.29M200.60,447.30L198.43,450.29M200.60,447.30L197.08,446.16M209.50,447.30L209.50,443.60M209.50,447.30L213.02,446.16M209.50,447.30L211.67,450.29M209.50,447.30L207.33,450.29M209.50,447.30L205.98,446.16M218.40,447.30L218.40,443.60M218.40,447.30L221.92,446.16M218.40,447.30L220.57,450.29M218.40,447.30L216.23,450.29M218.40,447.30L214.88,446.16" stroke="#000" stroke-width="1.7" fill="none" stroke-linecap="butt"/>
<path d="M86.60,451.20L86.60,451.45L86.60,451.70L86.60,451.95L86.60,452.20L86.60,452.45L86.61,452.70L86.61,452.95L86.61,453.20L86.61,453.45L86.62,453.70L86.62,453.95L86.62,454.20L86.63,454.45L86.63,454.70L86.64,454.95L86.64,455.20L86.65,455.45L86.65,455.70L86.66,455.95L86.67,456.20L86.67,456.45L86.68,456.70L86.69,456.95L86.69,457.20L86.70,457.45L86.71,457.70L86.72,457.95L86.73,458.20L86.74,458.45L86.75,458.70L86.76,458.95L86.77,459.20L86.78,459.45L86.79,459.70L86.80,459.95L86.81,460.20L86.82,460.45L86.83,460.70L86.85,460.95L86.86,461.20L86.87,461.45L86.88,461.70L86.90,461.95L86.91,462.20L86.94,462.45L86.98,462.70L87.03,462.95L87.09,463.20L87.16,463.45L87.23,463.70L87.32,463.95L87.41,464.20L87.51,464.45L87.61,464.70L87.72,464.95L87.83,465.20L87.95,465.45L88.07,465.70L88.20,465.95L88.33,466.20L88.46,466.45L88.59,466.70L88.72,466.95L88.86,467.20L88.99,467.45L89.12,467.70L89.25,467.95L89.38,468.20L89.51,468.45L89.63,468.70L89.75,468.95L89.87,469.20L89.98,469.45L90.08,469.70L90.18,469.95L90.28,470.20L90.37,470.45L90.47,470.70L90.56,470.95L90.66,471.20L90.75,471.45L90.85,471.70L90.94,471.95L91.04,472.20L91.13,472.45L91.23,472.70L91.32,472.95L91.42,473.20L91.51,473.45L91.60,473.70L91.70,473.95L91.79,474.20L91.88,474.45L91.97,474.70L92.06,474.95L92.15,475.20L92.24,475.45L92.33,475.70L92.42,475.95L92.51,476.20L92.59,476.45L92.68,476.70L92.76,476.95L92.85,477.20L92.93,477.45L93.01,477.70L93.09,477.95L93.17,478.20L93.25,478.45L93.32,478.70L93.40,478.95L93.47,479.20L93.55,479.45L93.62,479.70L93.69,479.95L93.76,480.20L93.83,480.45L93.90,480.70L93.98,480.95L94.05,481.20L94.13,481.45L94.20,481.70L94.28,481.95L94.36,482.20L94.44,482.45L94.51,482.70L94.59,482.95L94.66,483.20L94.73,483.45L94.80,483.70L94.87,483.95L94.94,484.20L95.00,484.45L95.06,484.70L95.11,484.95L95.16,485.20L95.21,485.45L95.25,485.70L95.29,485.95L95.33,486.20L95.35,486.45L95.37,486.70L95.39,486.95L95.40,487.20L95.40,487.45L95.39,487.70L95.37,487.95L95.34,488.20L95.31,488.45L95.26,488.70L95.20,488.95L95.14,489.20L95.07,489.45L94.99,489.70L94.91,489.95L94.82,490.20L94.73,490.45L94.64,490.70L94.54,490.95L94.44,491.20L94.34,491.45L94.23,491.70L94.13,491.95L94.02,492.20L93.92,492.45L93.82,492.70L93.72,492.95L93.62,493.20L93.51,493.45L93.39,493.70L93.27,493.95L93.14,494.20L93.00,494.45L92.86,494.70L92.71,494.95L92.56,495.20L92.41,495.45L92.25,495.70L92.09,495.95L91.93,496.20L91.77,496.45L91.60,496.70L91.44,496.95L91.28,497.20L91.12,497.45L90.96,497.70L90.80,497.95L90.65,498.20L90.50,498.45L90.36,498.70L90.22,498.95L90.08,499.20L89.96,499.45L89.84,499.70L89.72,499.95L89.61,500.20L89.50,500.45L89.38,500.70L89.26,500.95L89.14,501.20L89.02,501.45L88.90,501.70L88.79,501.95L88.68,502.20L88.57,502.45L88.48,502.70L88.39,502.95L88.31,503.20L88.24,503.45L88.18,503.70L88.14,503.95L88.11,504.20L88.10,504.45L88.10,504.70L88.10,504.95L88.10,505.20L88.10,505.45L88.10,505.70L88.10,505.95L88.10,506.20L88.10,506.45L88.10,506.70L88.10,506.95L88.10,507.20L88.10,507.45L88.10,507.70L88.10,507.95L88.10,508.20L88.10,508.45L88.10,508.70L88.10,508.95L88.10,509.20L88.10,509.45L88.10,509.70L88.10,509.95L88.10,510.20L88.10,510.45L88.10,510.70L88.10,510.95L88.10,511.20L88.10,511.45L88.10,511.70L88.10,511.95L88.10,512.20L88.10,512.45L88.10,512.70L88.10,512.95L88.10,513.20L88.10,513.45L88.10,513.70L88.10,513.95L88.09,514.20L88.08,514.45L88.07,514.70L88.06,514.95L88.05,515.20L88.04,515.45L88.02,515.70L88.00,515.95L87.99,516.20L87.97,516.45L87.95,516.70L87.93,516.95L87.91,517.20L87.89,517.45L87.87,517.70L87.85,517.95L87.83,518.20L87.81,518.45L87.79,518.70L87.77,518.95L87.75,519.20L87.73,519.45L87.72,519.70L87.70,519.95L87.69,520.20L87.68,520.45L87.66,520.70L87.65,520.95L87.63,521.20L87.62,521.45L87.61,521.70L87.59,521.95L87.58,522.20L87.57,522.45L87.55,522.70L87.54,522.95L87.53,523.20L87.51,523.45L87.50,523.70L87.49,523.95L87.48,524.20L87.46,524.45L87.45,524.70L87.44,524.95L87.43,525.20L87.41,525.45L87.40,525.70L87.39,525.95L87.38,526.20L87.36,526.45L87.35,526.70L87.34,526.95L87.33,527.20L87.32,527.45L87.30,527.70L87.29,527.95L87.28,528.20L87.27,528.45L87.26,528.70L87.25,528.95L87.24,529.20L87.22,529.45L87.21,529.70L87.20,529.95L87.19,530.20L87.18,530.45L87.17,530.70L87.16,530.95L87.15,531.20L87.14,531.45L87.13,531.70L87.12,531.95L87.11,532.20L87.10,532.45L87.09,532.70L87.08,532.95L87.07,533.20L87.06,533.45L87.05,533.70L87.04,533.95L87.03,534.20L87.02,534.45L87.01,534.70L87.00,534.95L86.99,535.20L86.98,535.45L86.97,535.70L86.96,535.95L86.95,536.20L86.94,536.45L86.93,536.70L86.92,536.95L86.91,537.20L86.91,537.45L86.90,537.60L82.50,537.60L82.49,537.45L82.49,537.20L82.48,536.95L82.47,536.70L82.46,536.45L82.45,536.20L82.44,535.95L82.43,535.70L82.42,535.45L82.41,535.20L82.40,534.95L82.39,534.70L82.38,534.45L82.37,534.20L82.36,533.95L82.35,533.70L82.34,533.45L82.33,533.20L82.32,532.95L82.31,532.70L82.30,532.45L82.29,532.20L82.28,531.95L82.27,531.70L82.26,531.45L82.25,531.20L82.24,530.95L82.23,530.70L82.22,530.45L82.21,530.20L82.20,529.95L82.19,529.70L82.18,529.45L82.16,529.20L82.15,528.95L82.14,528.70L82.13,528.45L82.12,528.20L82.11,527.95L82.10,527.70L82.08,527.45L82.07,527.20L82.06,526.95L82.05,526.70L82.04,526.45L82.02,526.20L82.01,525.95L82.00,525.70L81.99,525.45L81.97,525.20L81.96,524.95L81.95,524.70L81.94,524.45L81.92,524.20L81.91,523.95L81.90,523.70L81.89,523.45L81.87,523.20L81.86,522.95L81.85,522.70L81.83,522.45L81.82,522.20L81.81,521.95L81.79,521.70L81.78,521.45L81.77,521.20L81.75,520.95L81.74,520.70L81.72,520.45L81.71,520.20L81.70,519.95L81.68,519.70L81.67,519.45L81.65,519.20L81.63,518.95L81.61,518.70L81.59,518.45L81.57,518.20L81.55,517.95L81.53,517.70L81.51,517.45L81.49,517.20L81.47,516.95L81.45,516.70L81.43,516.45L81.41,516.20L81.40,515.95L81.38,515.70L81.36,515.45L81.35,515.20L81.34,514.95L81.33,514.70L81.32,514.45L81.31,514.20L81.30,513.95L81.30,513.70L81.30,513.45L81.30,513.20L81.30,512.95L81.30,512.70L81.30,512.45L81.30,512.20L81.30,511.95L81.30,511.70L81.30,511.45L81.30,511.20L81.30,510.95L81.30,510.70L81.30,510.45L81.30,510.20L81.30,509.95L81.30,509.70L81.30,509.45L81.30,509.20L81.30,508.95L81.30,508.70L81.30,508.45L81.30,508.20L81.30,507.95L81.30,507.70L81.30,507.45L81.30,507.20L81.30,506.95L81.30,506.70L81.30,506.45L81.30,506.20L81.30,505.95L81.30,505.70L81.30,505.45L81.30,505.20L81.30,504.95L81.30,504.70L81.30,504.45L81.29,504.20L81.26,503.95L81.22,503.70L81.16,503.45L81.09,503.20L81.01,502.95L80.92,502.70L80.83,502.45L80.72,502.20L80.61,501.95L80.50,501.70L80.38,501.45L80.26,501.20L80.14,500.95L80.02,500.70L79.90,500.45L79.79,500.20L79.68,499.95L79.56,499.70L79.44,499.45L79.32,499.20L79.18,498.95L79.04,498.70L78.90,498.45L78.75,498.20L78.60,497.95L78.44,497.70L78.28,497.45L78.12,497.20L77.96,496.95L77.80,496.70L77.63,496.45L77.47,496.20L77.31,495.95L77.15,495.70L76.99,495.45L76.84,495.20L76.69,494.95L76.54,494.70L76.40,494.45L76.26,494.20L76.13,493.95L76.01,493.70L75.89,493.45L75.78,493.20L75.68,492.95L75.58,492.70L75.48,492.45L75.38,492.20L75.27,491.95L75.17,491.70L75.06,491.45L74.96,491.20L74.86,490.95L74.76,490.70L74.67,490.45L74.58,490.20L74.49,489.95L74.41,489.70L74.33,489.45L74.26,489.20L74.20,488.95L74.14,488.70L74.09,488.45L74.06,488.20L74.03,487.95L74.01,487.70L74.00,487.45L74.00,487.20L74.01,486.95L74.03,486.70L74.05,486.45L74.07,486.20L74.11,485.95L74.15,485.70L74.19,485.45L74.24,485.20L74.29,484.95L74.34,484.70L74.40,484.45L74.46,484.20L74.53,483.95L74.60,483.70L74.67,483.45L74.74,483.20L74.81,482.95L74.89,482.70L74.96,482.45L75.04,482.20L75.12,481.95L75.20,481.70L75.27,481.45L75.35,481.20L75.42,480.95L75.50,480.70L75.57,480.45L75.64,480.20L75.71,479.95L75.78,479.70L75.85,479.45L75.93,479.20L76.00,478.95L76.08,478.70L76.15,478.45L76.23,478.20L76.31,477.95L76.39,477.70L76.47,477.45L76.55,477.20L76.64,476.95L76.72,476.70L76.81,476.45L76.89,476.20L76.98,475.95L77.07,475.70L77.16,475.45L77.25,475.20L77.34,474.95L77.43,474.70L77.52,474.45L77.61,474.20L77.70,473.95L77.80,473.70L77.89,473.45L77.98,473.20L78.08,472.95L78.17,472.70L78.27,472.45L78.36,472.20L78.46,471.95L78.55,471.70L78.65,471.45L78.74,471.20L78.84,470.95L78.93,470.70L79.03,470.45L79.12,470.20L79.22,469.95L79.32,469.70L79.42,469.45L79.53,469.20L79.65,468.95L79.77,468.70L79.89,468.45L80.02,468.20L80.15,467.95L80.28,467.70L80.41,467.45L80.54,467.20L80.68,466.95L80.81,466.70L80.94,466.45L81.07,466.20L81.20,465.95L81.33,465.70L81.45,465.45L81.57,465.20L81.68,464.95L81.79,464.70L81.89,464.45L81.99,464.20L82.08,463.95L82.17,463.70L82.24,463.45L82.31,463.20L82.37,462.95L82.42,462.70L82.46,462.45L82.49,462.20L82.50,461.95L82.52,461.70L82.53,461.45L82.54,461.20L82.55,460.95L82.57,460.70L82.58,460.45L82.59,460.20L82.60,459.95L82.61,459.70L82.62,459.45L82.63,459.20L82.64,458.95L82.65,458.70L82.66,458.45L82.67,458.20L82.68,457.95L82.69,457.70L82.70,457.45L82.71,457.20L82.71,456.95L82.72,456.70L82.73,456.45L82.73,456.20L82.74,455.95L82.75,455.70L82.75,455.45L82.76,455.20L82.76,454.95L82.77,454.70L82.77,454.45L82.78,454.20L82.78,453.95L82.78,453.70L82.79,453.45L82.79,453.20L82.79,452.95L82.79,452.70L82.80,452.45L82.80,452.20L82.80,451.95L82.80,451.70L82.80,451.45L82.80,451.20Z" fill="#000"/>
<path d="M84.86,468.20L84.99,468.45L85.13,468.70L85.26,468.95L85.39,469.20L85.52,469.45L85.65,469.70L85.78,469.95L85.91,470.20L86.03,470.45L86.15,470.70L86.27,470.95L86.37,471.20L86.47,471.45L86.57,471.70L86.66,471.95L86.76,472.20L86.85,472.45L86.95,472.70L87.04,472.95L87.14,473.20L87.24,473.45L87.33,473.70L87.43,473.95L87.52,474.20L87.61,474.45L87.71,474.70L87.80,474.95L87.90,475.20L87.99,475.45L88.08,475.70L88.17,475.95L88.26,476.20L88.35,476.45L88.44,476.70L88.53,476.95L88.62,477.20L88.71,477.45L88.79,477.70L88.88,477.95L88.96,478.20L89.05,478.45L89.13,478.70L89.21,478.95L89.29,479.20L89.37,479.45L89.45,479.70L89.52,479.95L89.60,480.20L89.67,480.45L89.74,480.70L89.81,480.95L89.88,481.20L89.95,481.45L90.03,481.70L90.10,481.95L90.18,482.20L90.25,482.45L90.33,482.70L90.41,482.95L90.48,483.20L90.56,483.45L90.64,483.70L90.71,483.95L90.79,484.20L90.86,484.45L90.93,484.70L91.00,484.95L91.06,485.20L91.13,485.45L91.18,485.70L91.24,485.95L91.28,486.20L91.32,486.45L91.36,486.70L91.38,486.95L91.40,487.20L91.40,487.45L91.38,487.70L91.33,487.95L91.27,488.20L91.19,488.45L91.11,488.70L91.02,488.95L90.93,489.20L90.83,489.45L90.73,489.70L90.63,489.95L90.52,490.20L90.42,490.45L90.32,490.70L90.21,490.95L90.11,491.20L90.01,491.45L89.91,491.70L89.80,491.95L89.67,492.20L89.54,492.45L89.40,492.70L89.25,492.95L89.10,493.20L88.94,493.45L88.78,493.70L88.62,493.95L88.46,494.20L88.30,494.45L88.13,494.70L87.97,494.95L87.81,495.20L87.65,495.45L87.50,495.70L87.34,495.95L87.19,496.20L87.04,496.45L86.89,496.70L86.75,496.95L86.62,497.20L86.49,497.45L86.36,497.70L86.24,497.95L86.12,498.20L86.01,498.45L85.90,498.70L85.78,498.95L85.66,499.20L85.54,499.45L85.42,499.70L85.31,499.95L85.19,500.20L85.08,500.45L84.97,500.70L84.87,500.95L84.77,501.20L84.63,501.20L84.53,500.95L84.43,500.70L84.32,500.45L84.21,500.20L84.09,499.95L83.98,499.70L83.86,499.45L83.74,499.20L83.62,498.95L83.50,498.70L83.39,498.45L83.28,498.20L83.16,497.95L83.04,497.70L82.91,497.45L82.78,497.20L82.65,496.95L82.51,496.70L82.36,496.45L82.21,496.20L82.06,495.95L81.90,495.70L81.75,495.45L81.59,495.20L81.43,494.95L81.27,494.70L81.10,494.45L80.94,494.20L80.78,493.95L80.62,493.70L80.46,493.45L80.30,493.20L80.15,492.95L80.00,492.70L79.86,492.45L79.73,492.20L79.60,491.95L79.49,491.70L79.39,491.45L79.29,491.20L79.19,490.95L79.08,490.70L78.98,490.45L78.88,490.20L78.77,489.95L78.67,489.70L78.57,489.45L78.47,489.20L78.38,488.95L78.29,488.70L78.21,488.45L78.13,488.20L78.07,487.95L78.02,487.70L78.00,487.45L78.00,487.20L78.02,486.95L78.04,486.70L78.08,486.45L78.12,486.20L78.16,485.95L78.22,485.70L78.27,485.45L78.34,485.20L78.40,484.95L78.47,484.70L78.54,484.45L78.61,484.20L78.69,483.95L78.76,483.70L78.84,483.45L78.92,483.20L78.99,482.95L79.07,482.70L79.15,482.45L79.22,482.20L79.30,481.95L79.37,481.70L79.45,481.45L79.52,481.20L79.59,480.95L79.66,480.70L79.73,480.45L79.80,480.20L79.88,479.95L79.95,479.70L80.03,479.45L80.11,479.20L80.19,478.95L80.27,478.70L80.35,478.45L80.44,478.20L80.52,477.95L80.61,477.70L80.69,477.45L80.78,477.20L80.87,476.95L80.96,476.70L81.05,476.45L81.14,476.20L81.23,475.95L81.32,475.70L81.41,475.45L81.50,475.20L81.60,474.95L81.69,474.70L81.79,474.45L81.88,474.20L81.97,473.95L82.07,473.70L82.16,473.45L82.26,473.20L82.36,472.95L82.45,472.70L82.55,472.45L82.64,472.20L82.74,471.95L82.83,471.70L82.93,471.45L83.03,471.20L83.13,470.95L83.25,470.70L83.37,470.45L83.49,470.20L83.62,469.95L83.75,469.70L83.88,469.45L84.01,469.20L84.14,468.95L84.27,468.70L84.41,468.45L84.54,468.20Z" fill="#818181"/>
<line x1="78.02" y1="487" x2="91.38" y2="487" stroke="#000" stroke-width="1.4" stroke-dasharray="4.6 3.2"/>
<line x1="80.17" y1="479" x2="89.23" y2="479" stroke="#000" stroke-width="1.3" stroke-dasharray="1.3 3.4" stroke-dashoffset="-1.5"/>
<line x1="80.81" y1="494" x2="88.59" y2="494" stroke="#000" stroke-width="1.3" stroke-dasharray="1.3 3.4" stroke-dashoffset="-1.5"/>
<path d="M117.90,442.70L117.90,442.95L117.90,443.20L117.90,443.45L117.90,443.70L117.90,443.95L117.90,444.20L117.91,444.45L117.91,444.70L117.91,444.95L117.91,445.20L117.91,445.45L117.92,445.70L117.92,445.95L117.92,446.20L117.93,446.45L117.93,446.70L117.93,446.95L117.94,447.20L117.94,447.45L117.95,447.70L117.95,447.95L117.96,448.20L117.96,448.45L117.97,448.70L117.97,448.95L117.98,449.20L117.98,449.45L117.99,449.70L118.00,449.95L118.01,450.20L118.01,450.45L118.02,450.70L118.03,450.95L118.04,451.20L118.05,451.45L118.05,451.70L118.06,451.95L118.07,452.20L118.08,452.45L118.09,452.70L118.10,452.95L118.11,453.20L118.13,453.45L118.14,453.70L118.15,453.95L118.16,454.20L118.17,454.45L118.18,454.70L118.20,454.95L118.21,455.20L118.24,455.45L118.28,455.70L118.33,455.95L118.40,456.20L118.47,456.45L118.54,456.70L118.63,456.95L118.72,457.20L118.82,457.45L118.93,457.70L119.04,457.95L119.15,458.20L119.26,458.45L119.38,458.70L119.50,458.95L119.62,459.20L119.74,459.45L119.86,459.70L119.98,459.95L120.10,460.20L120.23,460.45L120.37,460.70L120.52,460.95L120.68,461.20L120.84,461.45L121.01,461.70L121.19,461.95L121.37,462.20L121.56,462.45L121.74,462.70L121.93,462.95L122.12,463.20L122.31,463.45L122.50,463.70L122.69,463.95L122.87,464.20L123.05,464.45L123.22,464.70L123.39,464.95L123.55,465.20L123.70,465.45L123.84,465.70L123.97,465.95L124.10,466.20L124.23,466.45L124.36,466.70L124.50,466.95L124.63,467.20L124.77,467.45L124.91,467.70L125.04,467.95L125.17,468.20L125.31,468.45L125.44,468.70L125.56,468.95L125.68,469.20L125.80,469.45L125.91,469.70L126.02,469.95L126.12,470.20L126.21,470.45L126.29,470.70L126.37,470.95L126.43,471.20L126.49,471.45L126.53,471.70L126.57,471.95L126.59,472.20L126.60,472.45L126.59,472.70L126.57,472.95L126.52,473.20L126.46,473.45L126.38,473.70L126.29,473.95L126.18,474.20L126.07,474.45L125.94,474.70L125.81,474.95L125.66,475.20L125.51,475.45L125.36,475.70L125.21,475.95L125.05,476.20L124.89,476.45L124.74,476.70L124.58,476.95L124.43,477.20L124.29,477.45L124.15,477.70L124.02,477.95L123.90,478.20L123.78,478.45L123.65,478.70L123.53,478.95L123.40,479.20L123.27,479.45L123.14,479.70L123.01,479.95L122.88,480.20L122.75,480.45L122.62,480.70L122.49,480.95L122.36,481.20L122.23,481.45L122.10,481.70L121.97,481.95L121.84,482.20L121.71,482.45L121.59,482.70L121.46,482.95L121.34,483.20L121.22,483.45L121.09,483.70L120.98,483.95L120.86,484.20L120.74,484.45L120.63,484.70L120.52,484.95L120.41,485.20L120.30,485.45L120.18,485.70L120.06,485.95L119.93,486.20L119.81,486.45L119.68,486.70L119.55,486.95L119.43,487.20L119.30,487.45L119.18,487.70L119.06,487.95L118.95,488.20L118.84,488.45L118.73,488.70L118.64,488.95L118.55,489.20L118.47,489.45L118.40,489.70L118.33,489.95L118.28,490.20L118.24,490.45L118.22,490.70L118.20,490.95L118.20,491.20L118.19,491.45L118.19,491.70L118.18,491.95L118.18,492.20L118.18,492.45L118.17,492.70L118.17,492.95L118.16,493.20L118.16,493.45L118.16,493.70L118.15,493.95L118.15,494.20L118.14,494.45L118.14,494.70L118.14,494.95L118.13,495.20L118.13,495.45L118.13,495.70L118.12,495.95L118.12,496.20L118.12,496.45L118.11,496.70L118.11,496.95L118.11,497.20L118.10,497.45L118.10,497.70L118.10,497.95L118.09,498.20L118.09,498.45L118.09,498.70L118.08,498.95L118.08,499.20L118.08,499.45L118.07,499.70L118.07,499.95L118.07,500.20L118.06,500.45L118.06,500.70L118.06,500.95L118.06,501.20L118.05,501.45L118.05,501.70L118.05,501.95L118.05,502.20L118.04,502.45L118.04,502.70L118.04,502.95L118.03,503.20L118.03,503.45L118.03,503.70L118.03,503.95L118.02,504.20L118.02,504.45L118.02,504.70L118.02,504.95L118.02,505.20L118.01,505.45L118.01,505.70L118.01,505.95L118.01,506.20L118.00,506.45L118.00,506.70L118.00,506.95L118.00,507.20L118.00,507.45L117.99,507.70L117.99,507.95L117.99,508.20L117.99,508.45L117.99,508.70L117.98,508.95L117.98,509.20L117.98,509.45L117.98,509.70L117.98,509.95L117.97,510.20L117.97,510.45L117.97,510.70L117.97,510.95L117.97,511.20L117.97,511.45L117.96,511.70L117.96,511.95L117.96,512.20L117.96,512.45L117.96,512.70L117.96,512.95L117.96,513.20L117.95,513.45L117.95,513.70L117.95,513.95L117.95,514.20L117.95,514.45L117.95,514.70L117.95,514.95L117.94,515.20L117.94,515.45L117.94,515.70L117.94,515.95L117.94,516.20L117.94,516.45L117.94,516.70L117.94,516.95L117.94,517.20L117.93,517.45L117.93,517.70L117.93,517.95L117.93,518.20L117.93,518.45L117.93,518.70L117.93,518.95L117.93,519.20L117.93,519.45L117.93,519.70L117.92,519.95L117.92,520.20L117.92,520.45L117.92,520.70L117.92,520.95L117.92,521.20L117.92,521.45L117.92,521.70L117.92,521.95L117.92,522.20L117.92,522.45L117.92,522.70L117.92,522.95L117.91,523.20L117.91,523.45L117.91,523.70L117.91,523.95L117.91,524.20L117.91,524.45L117.91,524.70L117.91,524.95L117.91,525.20L117.91,525.45L117.91,525.70L117.91,525.95L117.91,526.20L117.91,526.45L117.91,526.70L117.91,526.95L117.91,527.20L117.91,527.45L117.91,527.70L117.91,527.95L117.91,528.20L117.90,528.45L117.90,528.70L117.90,528.95L117.90,529.20L117.90,529.45L117.90,529.70L117.90,529.95L117.90,530.20L117.90,530.45L117.90,530.70L117.90,530.95L117.90,531.20L117.90,531.45L117.90,531.70L117.90,531.95L117.90,532.20L117.90,532.45L117.90,532.70L117.90,532.95L117.90,533.20L117.90,533.45L117.90,533.70L117.90,533.95L117.90,534.20L117.90,534.45L117.90,534.70L117.90,534.95L117.90,535.20L117.90,535.45L117.90,535.70L117.90,535.95L117.90,536.20L117.90,536.45L117.90,536.60L114.10,536.60L114.10,536.45L114.10,536.20L114.10,535.95L114.10,535.70L114.10,535.45L114.10,535.20L114.10,534.95L114.10,534.70L114.10,534.45L114.10,534.20L114.10,533.95L114.10,533.70L114.10,533.45L114.10,533.20L114.10,532.95L114.10,532.70L114.10,532.45L114.10,532.20L114.10,531.95L114.10,531.70L114.10,531.45L114.10,531.20L114.10,530.95L114.10,530.70L114.10,530.45L114.10,530.20L114.10,529.95L114.10,529.70L114.10,529.45L114.10,529.20L114.10,528.95L114.10,528.70L114.10,528.45L114.09,528.20L114.09,527.95L114.09,527.70L114.09,527.45L114.09,527.20L114.09,526.95L114.09,526.70L114.09,526.45L114.09,526.20L114.09,525.95L114.09,525.70L114.09,525.45L114.09,525.20L114.09,524.95L114.09,524.70L114.09,524.45L114.09,524.20L114.09,523.95L114.09,523.70L114.09,523.45L114.09,523.20L114.08,522.95L114.08,522.70L114.08,522.45L114.08,522.20L114.08,521.95L114.08,521.70L114.08,521.45L114.08,521.20L114.08,520.95L114.08,520.70L114.08,520.45L114.08,520.20L114.08,519.95L114.07,519.70L114.07,519.45L114.07,519.20L114.07,518.95L114.07,518.70L114.07,518.45L114.07,518.20L114.07,517.95L114.07,517.70L114.07,517.45L114.06,517.20L114.06,516.95L114.06,516.70L114.06,516.45L114.06,516.20L114.06,515.95L114.06,515.70L114.06,515.45L114.06,515.20L114.05,514.95L114.05,514.70L114.05,514.45L114.05,514.20L114.05,513.95L114.05,513.70L114.05,513.45L114.04,513.20L114.04,512.95L114.04,512.70L114.04,512.45L114.04,512.20L114.04,511.95L114.04,511.70L114.03,511.45L114.03,511.20L114.03,510.95L114.03,510.70L114.03,510.45L114.03,510.20L114.02,509.95L114.02,509.70L114.02,509.45L114.02,509.20L114.02,508.95L114.01,508.70L114.01,508.45L114.01,508.20L114.01,507.95L114.01,507.70L114.00,507.45L114.00,507.20L114.00,506.95L114.00,506.70L114.00,506.45L113.99,506.20L113.99,505.95L113.99,505.70L113.99,505.45L113.98,505.20L113.98,504.95L113.98,504.70L113.98,504.45L113.98,504.20L113.97,503.95L113.97,503.70L113.97,503.45L113.97,503.20L113.96,502.95L113.96,502.70L113.96,502.45L113.95,502.20L113.95,501.95L113.95,501.70L113.95,501.45L113.94,501.20L113.94,500.95L113.94,500.70L113.94,500.45L113.93,500.20L113.93,499.95L113.93,499.70L113.92,499.45L113.92,499.20L113.92,498.95L113.91,498.70L113.91,498.45L113.91,498.20L113.90,497.95L113.90,497.70L113.90,497.45L113.89,497.20L113.89,496.95L113.89,496.70L113.88,496.45L113.88,496.20L113.88,495.95L113.87,495.70L113.87,495.45L113.87,495.20L113.86,494.95L113.86,494.70L113.86,494.45L113.85,494.20L113.85,493.95L113.84,493.70L113.84,493.45L113.84,493.20L113.83,492.95L113.83,492.70L113.82,492.45L113.82,492.20L113.82,491.95L113.81,491.70L113.81,491.45L113.80,491.20L113.80,490.95L113.78,490.70L113.76,490.45L113.72,490.20L113.67,489.95L113.60,489.70L113.53,489.45L113.45,489.20L113.36,488.95L113.27,488.70L113.16,488.45L113.05,488.20L112.94,487.95L112.82,487.70L112.70,487.45L112.57,487.20L112.45,486.95L112.32,486.70L112.19,486.45L112.07,486.20L111.94,485.95L111.82,485.70L111.70,485.45L111.59,485.20L111.48,484.95L111.37,484.70L111.26,484.45L111.14,484.20L111.02,483.95L110.91,483.70L110.78,483.45L110.66,483.20L110.54,482.95L110.41,482.70L110.29,482.45L110.16,482.20L110.03,481.95L109.90,481.70L109.77,481.45L109.64,481.20L109.51,480.95L109.38,480.70L109.25,480.45L109.12,480.20L108.99,479.95L108.86,479.70L108.73,479.45L108.60,479.20L108.47,478.95L108.35,478.70L108.22,478.45L108.10,478.20L107.98,477.95L107.85,477.70L107.71,477.45L107.57,477.20L107.42,476.95L107.26,476.70L107.11,476.45L106.95,476.20L106.79,475.95L106.64,475.70L106.49,475.45L106.34,475.20L106.19,474.95L106.06,474.70L105.93,474.45L105.82,474.20L105.71,473.95L105.62,473.70L105.54,473.45L105.48,473.20L105.43,472.95L105.41,472.70L105.40,472.45L105.41,472.20L105.43,471.95L105.47,471.70L105.51,471.45L105.57,471.20L105.63,470.95L105.71,470.70L105.79,470.45L105.88,470.20L105.98,469.95L106.09,469.70L106.20,469.45L106.32,469.20L106.44,468.95L106.56,468.70L106.69,468.45L106.83,468.20L106.96,467.95L107.09,467.70L107.23,467.45L107.37,467.20L107.50,466.95L107.64,466.70L107.77,466.45L107.90,466.20L108.03,465.95L108.16,465.70L108.30,465.45L108.45,465.20L108.61,464.95L108.78,464.70L108.95,464.45L109.13,464.20L109.31,463.95L109.50,463.70L109.69,463.45L109.88,463.20L110.07,462.95L110.26,462.70L110.44,462.45L110.63,462.20L110.81,461.95L110.99,461.70L111.16,461.45L111.32,461.20L111.48,460.95L111.63,460.70L111.77,460.45L111.90,460.20L112.02,459.95L112.14,459.70L112.26,459.45L112.38,459.20L112.50,458.95L112.62,458.70L112.74,458.45L112.85,458.20L112.96,457.95L113.07,457.70L113.18,457.45L113.28,457.20L113.37,456.95L113.46,456.70L113.53,456.45L113.60,456.20L113.67,455.95L113.72,455.70L113.76,455.45L113.79,455.20L113.80,454.95L113.82,454.70L113.83,454.45L113.84,454.20L113.85,453.95L113.86,453.70L113.87,453.45L113.89,453.20L113.90,452.95L113.91,452.70L113.92,452.45L113.93,452.20L113.94,451.95L113.95,451.70L113.95,451.45L113.96,451.20L113.97,450.95L113.98,450.70L113.99,450.45L113.99,450.20L114.00,449.95L114.01,449.70L114.02,449.45L114.02,449.20L114.03,448.95L114.03,448.70L114.04,448.45L114.04,448.20L114.05,447.95L114.05,447.70L114.06,447.45L114.06,447.20L114.07,446.95L114.07,446.70L114.07,446.45L114.08,446.20L114.08,445.95L114.08,445.70L114.09,445.45L114.09,445.20L114.09,444.95L114.09,444.70L114.09,444.45L114.10,444.20L114.10,443.95L114.10,443.70L114.10,443.45L114.10,443.20L114.10,442.95L114.10,442.70Z" fill="#000"/>
<path d="M116.14,461.20L116.26,461.45L116.38,461.70L116.50,461.95L116.63,462.20L116.76,462.45L116.90,462.70L117.05,462.95L117.21,463.20L117.37,463.45L117.53,463.70L117.71,463.95L117.88,464.20L118.06,464.45L118.25,464.70L118.43,464.95L118.62,465.20L118.81,465.45L119.00,465.70L119.19,465.95L119.38,466.20L119.56,466.45L119.74,466.70L119.91,466.95L120.08,467.20L120.23,467.45L120.38,467.70L120.50,467.95L120.63,468.20L120.77,468.45L120.90,468.70L121.03,468.95L121.17,469.20L121.31,469.45L121.44,469.70L121.58,469.95L121.71,470.20L121.84,470.45L121.97,470.70L122.09,470.95L122.20,471.20L122.31,471.45L122.41,471.70L122.49,471.95L122.56,472.20L122.58,472.45L122.47,472.70L122.34,472.95L122.20,473.20L122.05,473.45L121.90,473.70L121.74,473.95L121.58,474.20L121.43,474.45L121.27,474.70L121.12,474.95L120.97,475.20L120.82,475.45L120.69,475.70L120.56,475.95L120.43,476.20L120.31,476.45L120.18,476.70L120.06,476.95L119.93,477.20L119.80,477.45L119.68,477.70L119.55,477.95L119.42,478.20L119.29,478.45L119.16,478.70L119.02,478.95L118.89,479.20L118.76,479.45L118.63,479.70L118.50,479.95L118.37,480.20L118.24,480.45L118.12,480.70L117.99,480.95L117.87,481.20L117.74,481.45L117.62,481.70L117.50,481.95L117.38,482.20L117.26,482.45L117.15,482.70L117.03,482.95L116.92,483.20L116.81,483.45L116.70,483.70L116.58,483.95L116.46,484.20L116.34,484.45L116.21,484.70L116.08,484.95L115.92,484.95L115.79,484.70L115.66,484.45L115.54,484.20L115.42,483.95L115.30,483.70L115.19,483.45L115.08,483.20L114.97,482.95L114.85,482.70L114.74,482.45L114.62,482.20L114.50,481.95L114.38,481.70L114.26,481.45L114.13,481.20L114.01,480.95L113.88,480.70L113.76,480.45L113.63,480.20L113.50,479.95L113.37,479.70L113.24,479.45L113.11,479.20L112.98,478.95L112.84,478.70L112.71,478.45L112.58,478.20L112.45,477.95L112.32,477.70L112.20,477.45L112.07,477.20L111.94,476.95L111.82,476.70L111.69,476.45L111.57,476.20L111.44,475.95L111.31,475.70L111.18,475.45L111.03,475.20L110.88,474.95L110.73,474.70L110.57,474.45L110.42,474.20L110.26,473.95L110.10,473.70L109.95,473.45L109.80,473.20L109.66,472.95L109.53,472.70L109.42,472.45L109.44,472.20L109.51,471.95L109.59,471.70L109.69,471.45L109.80,471.20L109.91,470.95L110.03,470.70L110.16,470.45L110.29,470.20L110.42,469.95L110.56,469.70L110.69,469.45L110.83,469.20L110.97,468.95L111.10,468.70L111.23,468.45L111.37,468.20L111.50,467.95L111.62,467.70L111.77,467.45L111.92,467.20L112.09,466.95L112.26,466.70L112.44,466.45L112.62,466.20L112.81,465.95L113.00,465.70L113.19,465.45L113.38,465.20L113.57,464.95L113.75,464.70L113.94,464.45L114.12,464.20L114.29,463.95L114.47,463.70L114.63,463.45L114.79,463.20L114.95,462.95L115.10,462.70L115.24,462.45L115.37,462.20L115.50,461.95L115.62,461.70L115.74,461.45L115.86,461.20Z" fill="#818181"/>
<line x1="109.44" y1="472.5" x2="122.56" y2="472.5" stroke="#000" stroke-width="1.4" stroke-dasharray="4.6 3.2"/>
<line x1="112.05" y1="467" x2="119.95" y2="467" stroke="#000" stroke-width="1.3" stroke-dasharray="1.3 3.4" stroke-dashoffset="-1.5"/>
<line x1="112.48" y1="478" x2="119.52" y2="478" stroke="#000" stroke-width="1.3" stroke-dasharray="1.3 3.4" stroke-dashoffset="-1.5"/>
<path d="M148.60,435.70L148.60,435.95L148.60,436.20L148.60,436.45L148.60,436.70L148.60,436.95L148.60,437.20L148.60,437.45L148.61,437.70L148.61,437.95L148.61,438.20L148.61,438.45L148.61,438.70L148.62,438.95L148.62,439.20L148.62,439.45L148.62,439.70L148.63,439.95L148.63,440.20L148.63,440.45L148.64,440.70L148.64,440.95L148.64,441.20L148.65,441.45L148.65,441.70L148.66,441.95L148.66,442.20L148.67,442.45L148.67,442.70L148.68,442.95L148.68,443.20L148.69,443.45L148.69,443.70L148.70,443.95L148.71,444.20L148.71,444.45L148.72,444.70L148.72,444.95L148.73,445.20L148.74,445.45L148.75,445.70L148.75,445.95L148.76,446.20L148.77,446.45L148.78,446.70L148.79,446.95L148.79,447.20L148.80,447.45L148.81,447.70L148.82,447.95L148.83,448.20L148.84,448.45L148.85,448.70L148.86,448.95L148.87,449.20L148.88,449.45L148.89,449.70L148.90,449.95L148.91,450.20L148.93,450.45L148.96,450.70L148.99,450.95L149.03,451.20L149.07,451.45L149.11,451.70L149.16,451.95L149.21,452.20L149.26,452.45L149.31,452.70L149.36,452.95L149.41,453.20L149.46,453.45L149.51,453.70L149.56,453.95L149.60,454.20L149.64,454.45L149.67,454.70L149.70,454.95L149.72,455.20L149.74,455.45L149.77,455.70L149.79,455.95L149.81,456.20L149.83,456.45L149.85,456.70L149.87,456.95L149.88,457.20L149.89,457.45L149.90,457.70L149.90,457.95L149.89,458.20L149.88,458.45L149.84,458.70L149.80,458.95L149.75,459.20L149.69,459.45L149.63,459.70L149.56,459.95L149.50,460.20L149.43,460.45L149.37,460.70L149.32,460.95L149.27,461.20L149.24,461.45L149.21,461.70L149.20,461.95L149.20,462.20L149.20,462.45L149.21,462.70L149.22,462.95L149.22,463.20L149.24,463.45L149.25,463.70L149.26,463.95L149.28,464.20L149.30,464.45L149.32,464.70L149.34,464.95L149.36,465.20L149.39,465.45L149.41,465.70L149.44,465.95L149.47,466.20L149.50,466.45L149.53,466.70L149.56,466.95L149.59,467.20L149.62,467.45L149.66,467.70L149.69,467.95L149.73,468.20L149.79,468.45L149.86,468.70L149.94,468.95L150.03,469.20L150.14,469.45L150.26,469.70L150.38,469.95L150.51,470.20L150.65,470.45L150.80,470.70L150.95,470.95L151.11,471.20L151.27,471.45L151.43,471.70L151.59,471.95L151.76,472.20L151.92,472.45L152.08,472.70L152.24,472.95L152.40,473.20L152.55,473.45L152.69,473.70L152.83,473.95L152.96,474.20L153.09,474.45L153.20,474.70L153.31,474.95L153.42,475.20L153.52,475.45L153.63,475.70L153.74,475.95L153.84,476.20L153.94,476.45L154.05,476.70L154.15,476.95L154.25,477.20L154.34,477.45L154.44,477.70L154.53,477.95L154.62,478.20L154.71,478.45L154.80,478.70L154.88,478.95L154.96,479.20L155.04,479.45L155.11,479.70L155.19,479.95L155.25,480.20L155.32,480.45L155.39,480.70L155.45,480.95L155.52,481.20L155.58,481.45L155.64,481.70L155.70,481.95L155.76,482.20L155.82,482.45L155.88,482.70L155.94,482.95L155.99,483.20L156.04,483.45L156.10,483.70L156.15,483.95L156.20,484.20L156.25,484.45L156.30,484.70L156.35,484.95L156.39,485.20L156.44,485.45L156.48,485.70L156.53,485.95L156.57,486.20L156.61,486.45L156.65,486.70L156.69,486.95L156.73,487.20L156.77,487.45L156.81,487.70L156.86,487.95L156.90,488.20L156.94,488.45L156.98,488.70L157.03,488.95L157.07,489.20L157.11,489.45L157.14,489.70L157.18,489.95L157.22,490.20L157.25,490.45L157.28,490.70L157.31,490.95L157.33,491.20L157.35,491.45L157.37,491.70L157.38,491.95L157.39,492.20L157.40,492.45L157.40,492.70L157.39,492.95L157.38,493.20L157.35,493.45L157.32,493.70L157.29,493.95L157.24,494.20L157.19,494.45L157.14,494.70L157.08,494.95L157.02,495.20L156.96,495.45L156.89,495.70L156.82,495.95L156.74,496.20L156.67,496.45L156.59,496.70L156.52,496.95L156.44,497.20L156.36,497.45L156.29,497.70L156.21,497.95L156.14,498.20L156.06,498.45L155.98,498.70L155.89,498.95L155.79,499.20L155.70,499.45L155.60,499.70L155.49,499.95L155.38,500.20L155.27,500.45L155.16,500.70L155.05,500.95L154.93,501.20L154.81,501.45L154.69,501.70L154.57,501.95L154.45,502.20L154.34,502.45L154.22,502.70L154.10,502.95L153.98,503.20L153.87,503.45L153.75,503.70L153.64,503.95L153.53,504.20L153.42,504.45L153.32,504.70L153.22,504.95L153.12,505.20L153.03,505.45L152.93,505.70L152.83,505.95L152.74,506.20L152.64,506.45L152.55,506.70L152.46,506.95L152.37,507.20L152.27,507.45L152.18,507.70L152.09,507.95L152.00,508.20L151.91,508.45L151.82,508.70L151.73,508.95L151.65,509.20L151.56,509.45L151.47,509.70L151.38,509.95L151.30,510.20L151.21,510.45L151.13,510.70L151.05,510.95L150.96,511.20L150.88,511.45L150.80,511.70L150.72,511.95L150.63,512.20L150.54,512.45L150.45,512.70L150.36,512.95L150.26,513.20L150.16,513.45L150.06,513.70L149.96,513.95L149.86,514.20L149.77,514.45L149.67,514.70L149.59,514.95L149.51,515.20L149.44,515.45L149.37,515.70L149.31,515.95L149.27,516.20L149.23,516.45L149.21,516.70L149.20,516.95L149.20,517.20L149.22,517.45L149.24,517.70L149.28,517.95L149.32,518.20L149.37,518.45L149.42,518.70L149.48,518.95L149.53,519.20L149.59,519.45L149.65,519.70L149.71,519.95L149.76,520.20L149.81,520.45L149.86,520.70L149.89,520.95L149.93,521.20L149.96,521.45L149.99,521.70L150.03,521.95L150.06,522.20L150.09,522.45L150.12,522.70L150.15,522.95L150.17,523.20L150.18,523.45L150.19,523.70L150.20,523.95L150.19,524.20L150.17,524.45L150.13,524.70L150.07,524.95L150.00,525.20L149.92,525.45L149.84,525.70L149.75,525.95L149.66,526.20L149.57,526.45L149.49,526.70L149.41,526.95L149.34,527.20L149.28,527.45L149.23,527.70L149.20,527.95L149.19,528.20L149.17,528.45L149.16,528.70L149.14,528.95L149.12,529.20L149.11,529.45L149.09,529.70L149.08,529.95L149.07,530.20L149.05,530.45L149.04,530.70L149.02,530.95L149.01,531.20L149.00,531.45L148.98,531.70L148.97,531.95L148.96,532.20L148.95,532.45L148.94,532.70L148.92,532.95L148.91,533.20L148.90,533.45L148.89,533.70L148.88,533.95L148.87,534.20L148.86,534.45L148.85,534.70L148.84,534.95L148.83,535.20L148.82,535.45L148.81,535.70L148.80,535.95L148.79,536.20L148.78,536.45L148.78,536.70L148.77,536.95L148.76,537.20L148.75,537.45L148.74,537.70L148.74,537.95L148.73,538.20L148.72,538.45L148.72,538.70L148.71,538.95L148.70,539.20L148.70,539.45L148.69,539.70L148.69,539.95L148.68,540.20L148.67,540.45L148.67,540.70L148.66,540.95L148.66,541.20L148.66,541.45L148.65,541.70L148.65,541.95L148.64,542.20L148.64,542.45L148.64,542.70L148.63,542.95L148.63,543.20L148.63,543.45L148.62,543.70L148.62,543.95L148.62,544.20L148.61,544.45L148.61,544.70L148.61,544.95L148.61,545.20L148.61,545.45L148.61,545.70L148.60,545.95L148.60,546.20L148.60,546.45L148.60,546.70L148.60,546.95L148.60,547.20L148.60,547.45L148.60,547.70L148.60,547.80L144.80,547.80L144.80,547.70L144.80,547.45L144.80,547.20L144.80,546.95L144.80,546.70L144.80,546.45L144.80,546.20L144.80,545.95L144.79,545.70L144.79,545.45L144.79,545.20L144.79,544.95L144.79,544.70L144.79,544.45L144.78,544.20L144.78,543.95L144.78,543.70L144.77,543.45L144.77,543.20L144.77,542.95L144.76,542.70L144.76,542.45L144.76,542.20L144.75,541.95L144.75,541.70L144.74,541.45L144.74,541.20L144.74,540.95L144.73,540.70L144.73,540.45L144.72,540.20L144.71,539.95L144.71,539.70L144.70,539.45L144.70,539.20L144.69,538.95L144.68,538.70L144.68,538.45L144.67,538.20L144.66,537.95L144.66,537.70L144.65,537.45L144.64,537.20L144.63,536.95L144.62,536.70L144.62,536.45L144.61,536.20L144.60,535.95L144.59,535.70L144.58,535.45L144.57,535.20L144.56,534.95L144.55,534.70L144.54,534.45L144.53,534.20L144.52,533.95L144.51,533.70L144.50,533.45L144.49,533.20L144.48,532.95L144.46,532.70L144.45,532.45L144.44,532.20L144.43,531.95L144.42,531.70L144.40,531.45L144.39,531.20L144.38,530.95L144.36,530.70L144.35,530.45L144.33,530.20L144.32,529.95L144.31,529.70L144.29,529.45L144.28,529.20L144.26,528.95L144.24,528.70L144.23,528.45L144.21,528.20L144.20,527.95L144.17,527.70L144.12,527.45L144.06,527.20L143.99,526.95L143.91,526.70L143.83,526.45L143.74,526.20L143.65,525.95L143.56,525.70L143.48,525.45L143.40,525.20L143.33,524.95L143.27,524.70L143.23,524.45L143.21,524.20L143.20,523.95L143.21,523.70L143.22,523.45L143.23,523.20L143.25,522.95L143.28,522.70L143.31,522.45L143.34,522.20L143.37,521.95L143.41,521.70L143.44,521.45L143.47,521.20L143.51,520.95L143.54,520.70L143.59,520.45L143.64,520.20L143.69,519.95L143.75,519.70L143.81,519.45L143.87,519.20L143.92,518.95L143.98,518.70L144.03,518.45L144.08,518.20L144.12,517.95L144.16,517.70L144.18,517.45L144.20,517.20L144.20,516.95L144.19,516.70L144.17,516.45L144.13,516.20L144.09,515.95L144.03,515.70L143.96,515.45L143.89,515.20L143.81,514.95L143.73,514.70L143.63,514.45L143.54,514.20L143.44,513.95L143.34,513.70L143.24,513.45L143.14,513.20L143.04,512.95L142.95,512.70L142.86,512.45L142.77,512.20L142.68,511.95L142.60,511.70L142.52,511.45L142.44,511.20L142.35,510.95L142.27,510.70L142.19,510.45L142.10,510.20L142.02,509.95L141.93,509.70L141.84,509.45L141.75,509.20L141.67,508.95L141.58,508.70L141.49,508.45L141.40,508.20L141.31,507.95L141.22,507.70L141.13,507.45L141.03,507.20L140.94,506.95L140.85,506.70L140.76,506.45L140.66,506.20L140.57,505.95L140.47,505.70L140.37,505.45L140.28,505.20L140.18,504.95L140.08,504.70L139.98,504.45L139.87,504.20L139.76,503.95L139.65,503.70L139.53,503.45L139.42,503.20L139.30,502.95L139.18,502.70L139.06,502.45L138.95,502.20L138.83,501.95L138.71,501.70L138.59,501.45L138.47,501.20L138.35,500.95L138.24,500.70L138.13,500.45L138.02,500.20L137.91,499.95L137.80,499.70L137.70,499.45L137.61,499.20L137.51,498.95L137.42,498.70L137.34,498.45L137.26,498.20L137.19,497.95L137.11,497.70L137.04,497.45L136.96,497.20L136.88,496.95L136.81,496.70L136.73,496.45L136.66,496.20L136.58,495.95L136.51,495.70L136.44,495.45L136.38,495.20L136.32,494.95L136.26,494.70L136.21,494.45L136.16,494.20L136.11,493.95L136.08,493.70L136.05,493.45L136.02,493.20L136.01,492.95L136.00,492.70L136.00,492.45L136.01,492.20L136.02,491.95L136.03,491.70L136.05,491.45L136.07,491.20L136.09,490.95L136.12,490.70L136.15,490.45L136.18,490.20L136.22,489.95L136.26,489.70L136.29,489.45L136.33,489.20L136.37,488.95L136.42,488.70L136.46,488.45L136.50,488.20L136.54,487.95L136.59,487.70L136.63,487.45L136.67,487.20L136.71,486.95L136.75,486.70L136.79,486.45L136.83,486.20L136.87,485.95L136.92,485.70L136.96,485.45L137.01,485.20L137.05,484.95L137.10,484.70L137.15,484.45L137.20,484.20L137.25,483.95L137.30,483.70L137.36,483.45L137.41,483.20L137.46,482.95L137.52,482.70L137.58,482.45L137.64,482.20L137.70,481.95L137.76,481.70L137.82,481.45L137.88,481.20L137.95,480.95L138.01,480.70L138.08,480.45L138.15,480.20L138.21,479.95L138.29,479.70L138.36,479.45L138.44,479.20L138.52,478.95L138.60,478.70L138.69,478.45L138.78,478.20L138.87,477.95L138.96,477.70L139.06,477.45L139.15,477.20L139.25,476.95L139.35,476.70L139.46,476.45L139.56,476.20L139.66,475.95L139.77,475.70L139.88,475.45L139.98,475.20L140.09,474.95L140.20,474.70L140.31,474.45L140.44,474.20L140.57,473.95L140.71,473.70L140.85,473.45L141.00,473.20L141.16,472.95L141.32,472.70L141.48,472.45L141.64,472.20L141.81,471.95L141.97,471.70L142.13,471.45L142.29,471.20L142.45,470.95L142.60,470.70L142.75,470.45L142.89,470.20L143.02,469.95L143.14,469.70L143.26,469.45L143.37,469.20L143.46,468.95L143.54,468.70L143.61,468.45L143.67,468.20L143.71,467.95L143.74,467.70L143.78,467.45L143.81,467.20L143.84,466.95L143.87,466.70L143.90,466.45L143.93,466.20L143.96,465.95L143.99,465.70L144.01,465.45L144.04,465.20L144.06,464.95L144.08,464.70L144.10,464.45L144.12,464.20L144.14,463.95L144.15,463.70L144.16,463.45L144.18,463.20L144.18,462.95L144.19,462.70L144.20,462.45L144.20,462.20L144.20,461.95L144.19,461.70L144.16,461.45L144.13,461.20L144.08,460.95L144.03,460.70L143.97,460.45L143.90,460.20L143.84,459.95L143.77,459.70L143.71,459.45L143.65,459.20L143.60,458.95L143.56,458.70L143.52,458.45L143.51,458.20L143.50,457.95L143.50,457.70L143.51,457.45L143.52,457.20L143.53,456.95L143.55,456.70L143.57,456.45L143.59,456.20L143.61,455.95L143.63,455.70L143.66,455.45L143.68,455.20L143.70,454.95L143.73,454.70L143.76,454.45L143.80,454.20L143.84,453.95L143.89,453.70L143.94,453.45L143.99,453.20L144.04,452.95L144.09,452.70L144.14,452.45L144.19,452.20L144.24,451.95L144.29,451.70L144.33,451.45L144.37,451.20L144.41,450.95L144.44,450.70L144.47,450.45L144.49,450.20L144.50,449.95L144.51,449.70L144.52,449.45L144.53,449.20L144.54,448.95L144.55,448.70L144.56,448.45L144.57,448.20L144.58,447.95L144.59,447.70L144.60,447.45L144.61,447.20L144.61,446.95L144.62,446.70L144.63,446.45L144.64,446.20L144.65,445.95L144.65,445.70L144.66,445.45L144.67,445.20L144.68,444.95L144.68,444.70L144.69,444.45L144.69,444.20L144.70,443.95L144.71,443.70L144.71,443.45L144.72,443.20L144.72,442.95L144.73,442.70L144.73,442.45L144.74,442.20L144.74,441.95L144.75,441.70L144.75,441.45L144.76,441.20L144.76,440.95L144.76,440.70L144.77,440.45L144.77,440.20L144.77,439.95L144.78,439.70L144.78,439.45L144.78,439.20L144.78,438.95L144.79,438.70L144.79,438.45L144.79,438.20L144.79,437.95L144.79,437.70L144.80,437.45L144.80,437.20L144.80,436.95L144.80,436.70L144.80,436.45L144.80,436.20L144.80,435.95L144.80,435.70Z" fill="#000"/>
<path d="M146.78,471.70L146.92,471.95L147.05,472.20L147.19,472.45L147.34,472.70L147.49,472.95L147.64,473.20L147.80,473.45L147.96,473.70L148.12,473.95L148.29,474.20L148.45,474.45L148.61,474.70L148.77,474.95L148.93,475.20L149.08,475.45L149.23,475.70L149.37,475.95L149.49,476.20L149.60,476.45L149.71,476.70L149.82,476.95L149.92,477.20L150.03,477.45L150.13,477.70L150.24,477.95L150.34,478.20L150.44,478.45L150.54,478.70L150.64,478.95L150.73,479.20L150.82,479.45L150.91,479.70L151.00,479.95L151.08,480.20L151.16,480.45L151.24,480.70L151.31,480.95L151.38,481.20L151.45,481.45L151.52,481.70L151.58,481.95L151.65,482.20L151.71,482.45L151.77,482.70L151.83,482.95L151.89,483.20L151.95,483.45L152.01,483.70L152.06,483.95L152.12,484.20L152.17,484.45L152.22,484.70L152.27,484.95L152.32,485.20L152.37,485.45L152.42,485.70L152.46,485.95L152.51,486.20L152.55,486.45L152.60,486.70L152.64,486.95L152.68,487.20L152.72,487.45L152.76,487.70L152.80,487.95L152.84,488.20L152.88,488.45L152.93,488.70L152.97,488.95L153.01,489.20L153.05,489.45L153.10,489.70L153.14,489.95L153.18,490.20L153.21,490.45L153.25,490.70L153.28,490.95L153.31,491.20L153.34,491.45L153.36,491.70L153.38,491.95L153.39,492.20L153.40,492.45L153.40,492.70L153.38,492.95L153.35,493.20L153.31,493.45L153.27,493.70L153.21,493.95L153.15,494.20L153.08,494.45L153.01,494.70L152.94,494.95L152.87,495.20L152.79,495.45L152.72,495.70L152.64,495.95L152.56,496.20L152.49,496.45L152.41,496.70L152.34,496.95L152.26,497.20L152.18,497.45L152.09,497.70L151.99,497.95L151.89,498.20L151.78,498.45L151.68,498.70L151.56,498.95L151.45,499.20L151.33,499.45L151.22,499.70L151.10,499.95L150.98,500.20L150.86,500.45L150.74,500.70L150.62,500.95L150.50,501.20L150.38,501.45L150.27,501.70L150.15,501.95L150.04,502.20L149.93,502.45L149.82,502.70L149.71,502.95L149.61,503.20L149.51,503.45L149.41,503.70L149.32,503.95L149.22,504.20L149.13,504.45L149.03,504.70L148.94,504.95L148.84,505.20L148.75,505.45L148.66,505.70L148.57,505.95L148.47,506.20L148.38,506.45L148.29,506.70L148.20,506.95L148.11,507.20L148.02,507.45L147.93,507.70L147.85,507.95L147.76,508.20L147.67,508.45L147.59,508.70L147.50,508.95L147.41,509.20L147.33,509.45L147.25,509.70L147.16,509.95L147.08,510.20L147.00,510.45L146.92,510.70L146.83,510.95L146.57,510.95L146.48,510.70L146.40,510.45L146.32,510.20L146.24,509.95L146.15,509.70L146.07,509.45L145.99,509.20L145.90,508.95L145.81,508.70L145.73,508.45L145.64,508.20L145.55,507.95L145.47,507.70L145.38,507.45L145.29,507.20L145.20,506.95L145.11,506.70L145.02,506.45L144.93,506.20L144.83,505.95L144.74,505.70L144.65,505.45L144.56,505.20L144.46,504.95L144.37,504.70L144.27,504.45L144.18,504.20L144.08,503.95L143.99,503.70L143.89,503.45L143.79,503.20L143.69,502.95L143.58,502.70L143.47,502.45L143.36,502.20L143.25,501.95L143.13,501.70L143.02,501.45L142.90,501.20L142.78,500.95L142.66,500.70L142.54,500.45L142.42,500.20L142.30,499.95L142.18,499.70L142.07,499.45L141.95,499.20L141.84,498.95L141.72,498.70L141.62,498.45L141.51,498.20L141.41,497.95L141.31,497.70L141.22,497.45L141.14,497.20L141.06,496.95L140.99,496.70L140.91,496.45L140.84,496.20L140.76,495.95L140.68,495.70L140.61,495.45L140.53,495.20L140.46,494.95L140.39,494.70L140.32,494.45L140.25,494.20L140.19,493.95L140.13,493.70L140.09,493.45L140.05,493.20L140.02,492.95L140.00,492.70L140.00,492.45L140.01,492.20L140.02,491.95L140.04,491.70L140.06,491.45L140.09,491.20L140.12,490.95L140.15,490.70L140.19,490.45L140.22,490.20L140.26,489.95L140.30,489.70L140.35,489.45L140.39,489.20L140.43,488.95L140.47,488.70L140.52,488.45L140.56,488.20L140.60,487.95L140.64,487.70L140.68,487.45L140.72,487.20L140.76,486.95L140.80,486.70L140.85,486.45L140.89,486.20L140.94,485.95L140.98,485.70L141.03,485.45L141.08,485.20L141.13,484.95L141.18,484.70L141.23,484.45L141.28,484.20L141.34,483.95L141.39,483.70L141.45,483.45L141.51,483.20L141.57,482.95L141.63,482.70L141.69,482.45L141.75,482.20L141.82,481.95L141.88,481.70L141.95,481.45L142.02,481.20L142.09,480.95L142.16,480.70L142.24,480.45L142.32,480.20L142.40,479.95L142.49,479.70L142.58,479.45L142.67,479.20L142.76,478.95L142.86,478.70L142.96,478.45L143.06,478.20L143.16,477.95L143.27,477.70L143.37,477.45L143.48,477.20L143.58,476.95L143.69,476.70L143.80,476.45L143.91,476.20L144.03,475.95L144.17,475.70L144.32,475.45L144.47,475.20L144.63,474.95L144.79,474.70L144.95,474.45L145.11,474.20L145.28,473.95L145.44,473.70L145.60,473.45L145.76,473.20L145.91,472.95L146.06,472.70L146.21,472.45L146.35,472.20L146.48,471.95L146.62,471.70Z" fill="#818181"/>
<line x1="140.06" y1="491.5" x2="153.34" y2="491.5" stroke="#000" stroke-width="1.4" stroke-dasharray="4.6 3.2"/>
<line x1="141.81" y1="482" x2="151.59" y2="482" stroke="#000" stroke-width="1.3" stroke-dasharray="1.3 3.4" stroke-dashoffset="-1.5"/>
<line x1="143.27" y1="502" x2="150.13" y2="502" stroke="#000" stroke-width="1.3" stroke-dasharray="1.3 3.4" stroke-dashoffset="-1.5"/>
<path d="M180.40,488.10L180.40,488.35L180.40,488.60L180.40,488.85L180.41,489.10L180.41,489.35L180.42,489.60L180.43,489.85L180.43,490.10L180.44,490.35L180.45,490.60L180.46,490.85L180.48,491.10L180.49,491.35L180.50,491.60L180.52,491.85L180.53,492.10L180.55,492.35L180.57,492.60L180.59,492.85L180.61,493.10L180.68,493.35L180.79,493.60L180.93,493.85L181.12,494.10L181.33,494.35L181.57,494.60L181.83,494.85L182.11,495.10L182.39,495.35L182.69,495.60L182.98,495.85L183.27,496.10L183.55,496.35L183.81,496.60L184.06,496.85L184.29,497.10L184.52,497.35L184.76,497.60L185.01,497.85L185.26,498.10L185.52,498.35L185.77,498.60L186.02,498.85L186.26,499.10L186.50,499.35L186.73,499.60L186.94,499.85L187.14,500.10L187.33,500.35L187.49,500.60L187.63,500.85L187.75,501.10L187.86,501.35L187.97,501.60L188.08,501.85L188.19,502.10L188.29,502.35L188.39,502.60L188.49,502.85L188.58,503.10L188.66,503.35L188.73,503.60L188.80,503.85L188.86,504.10L188.91,504.35L188.95,504.60L188.98,504.85L189.00,505.10L189.00,505.35L188.99,505.60L188.97,505.85L188.93,506.10L188.88,506.35L188.83,506.60L188.76,506.85L188.69,507.10L188.61,507.35L188.53,507.60L188.44,507.85L188.35,508.10L188.26,508.35L188.17,508.60L188.08,508.85L187.99,509.10L187.90,509.35L187.82,509.60L187.74,509.85L187.67,510.10L187.60,510.35L187.51,510.60L187.43,510.85L187.34,511.10L187.25,511.35L187.15,511.60L187.06,511.85L186.98,512.10L186.90,512.35L186.82,512.60L186.76,512.85L186.70,513.10L186.65,513.35L186.62,513.60L186.60,513.85L186.60,514.10L186.62,514.35L186.64,514.60L186.69,514.85L186.74,515.10L186.80,515.35L186.87,515.60L186.95,515.85L187.04,516.10L187.12,516.35L187.21,516.60L187.30,516.85L187.39,517.10L187.48,517.35L187.56,517.60L187.64,517.85L187.71,518.10L187.77,518.35L187.82,518.60L187.86,518.85L187.89,519.10L187.90,519.35L187.89,519.60L187.86,519.85L187.81,520.10L187.74,520.35L187.66,520.60L187.56,520.85L187.44,521.10L187.32,521.35L187.18,521.60L187.04,521.85L186.88,522.10L186.73,522.35L186.57,522.60L186.41,522.85L186.25,523.10L186.09,523.35L185.93,523.60L185.79,523.85L185.64,524.10L185.49,524.35L185.33,524.60L185.15,524.85L184.97,525.10L184.78,525.35L184.59,525.60L184.40,525.85L184.21,526.10L184.02,526.35L183.84,526.60L183.66,526.85L183.50,527.10L183.34,527.35L183.20,527.60L183.07,527.85L182.96,528.10L182.84,528.35L182.73,528.60L182.62,528.85L182.51,529.10L182.40,529.35L182.29,529.60L182.19,529.85L182.09,530.10L182.01,530.35L181.93,530.60L181.86,530.85L181.80,531.10L181.75,531.35L181.72,531.60L181.70,531.85L181.70,532.10L181.70,532.35L181.70,532.60L181.70,532.85L181.70,533.10L181.70,533.35L181.70,533.60L181.70,533.85L181.70,534.10L181.70,534.35L181.70,534.60L181.70,534.85L181.70,535.10L181.70,535.35L181.70,535.60L181.70,535.85L181.70,536.10L181.70,536.35L181.70,536.60L181.70,536.85L181.70,537.10L181.71,537.35L181.74,537.60L181.77,537.85L181.82,538.10L181.87,538.35L181.93,538.60L182.00,538.85L182.07,539.10L182.14,539.35L182.21,539.60L182.28,539.85L182.34,540.10L182.40,540.35L182.46,540.60L182.51,540.85L182.55,541.10L182.58,541.35L182.60,541.60L182.60,541.85L182.59,542.10L182.57,542.35L182.54,542.60L182.51,542.85L182.46,543.10L182.41,543.35L182.35,543.60L182.29,543.85L182.22,544.10L182.15,544.35L182.08,544.60L182.01,544.85L181.94,545.10L181.87,545.35L181.80,545.60L181.74,545.85L181.68,546.10L181.61,546.35L181.54,546.60L181.46,546.85L181.38,547.10L181.30,547.35L181.21,547.60L181.13,547.85L181.04,548.10L180.95,548.35L180.87,548.60L180.79,548.85L180.72,549.10L180.65,549.35L180.58,549.60L180.53,549.85L180.48,550.10L180.44,550.35L180.42,550.60L180.40,550.85L180.40,551.10L180.40,551.35L180.40,551.60L180.40,551.85L180.40,552.10L180.40,552.35L180.40,552.60L180.40,552.85L180.40,553.10L180.40,553.35L180.40,553.60L180.40,553.85L180.40,554.10L180.40,554.35L180.40,554.60L180.40,554.85L180.40,555.10L180.40,555.35L180.40,555.60L180.40,555.85L180.40,556.00L176.00,556.00L176.00,555.85L176.00,555.60L176.00,555.35L176.00,555.10L176.00,554.85L176.00,554.60L176.00,554.35L176.00,554.10L176.00,553.85L176.00,553.60L176.00,553.35L176.00,553.10L176.00,552.85L176.00,552.60L176.00,552.35L176.00,552.10L176.00,551.85L176.00,551.60L176.00,551.35L176.00,551.10L176.00,550.85L175.98,550.60L175.96,550.35L175.92,550.10L175.87,549.85L175.82,549.60L175.75,549.35L175.68,549.10L175.61,548.85L175.53,548.60L175.45,548.35L175.36,548.10L175.27,547.85L175.19,547.60L175.10,547.35L175.02,547.10L174.94,546.85L174.86,546.60L174.79,546.35L174.72,546.10L174.66,545.85L174.60,545.60L174.53,545.35L174.46,545.10L174.39,544.85L174.32,544.60L174.25,544.35L174.18,544.10L174.11,543.85L174.05,543.60L173.99,543.35L173.94,543.10L173.89,542.85L173.86,542.60L173.83,542.35L173.81,542.10L173.80,541.85L173.80,541.60L173.82,541.35L173.85,541.10L173.89,540.85L173.94,540.60L174.00,540.35L174.06,540.10L174.12,539.85L174.19,539.60L174.26,539.35L174.33,539.10L174.40,538.85L174.47,538.60L174.53,538.35L174.58,538.10L174.63,537.85L174.66,537.60L174.69,537.35L174.70,537.10L174.70,536.85L174.70,536.60L174.70,536.35L174.70,536.10L174.70,535.85L174.70,535.60L174.70,535.35L174.70,535.10L174.70,534.85L174.70,534.60L174.70,534.35L174.70,534.10L174.70,533.85L174.70,533.60L174.70,533.35L174.70,533.10L174.70,532.85L174.70,532.60L174.70,532.35L174.70,532.10L174.70,531.85L174.68,531.60L174.65,531.35L174.60,531.10L174.54,530.85L174.47,530.60L174.39,530.35L174.31,530.10L174.21,529.85L174.11,529.60L174.00,529.35L173.89,529.10L173.78,528.85L173.67,528.60L173.56,528.35L173.44,528.10L173.33,527.85L173.20,527.60L173.06,527.35L172.90,527.10L172.74,526.85L172.56,526.60L172.38,526.35L172.19,526.10L172.00,525.85L171.81,525.60L171.62,525.35L171.43,525.10L171.25,524.85L171.07,524.60L170.91,524.35L170.76,524.10L170.61,523.85L170.47,523.60L170.31,523.35L170.15,523.10L169.99,522.85L169.83,522.60L169.67,522.35L169.52,522.10L169.36,521.85L169.22,521.60L169.08,521.35L168.96,521.10L168.84,520.85L168.74,520.60L168.66,520.35L168.59,520.10L168.54,519.85L168.51,519.60L168.50,519.35L168.51,519.10L168.54,518.85L168.58,518.60L168.63,518.35L168.69,518.10L168.76,517.85L168.84,517.60L168.92,517.35L169.01,517.10L169.10,516.85L169.19,516.60L169.28,516.35L169.36,516.10L169.45,515.85L169.53,515.60L169.60,515.35L169.66,515.10L169.71,514.85L169.76,514.60L169.78,514.35L169.80,514.10L169.80,513.85L169.78,513.60L169.75,513.35L169.70,513.10L169.64,512.85L169.58,512.60L169.50,512.35L169.42,512.10L169.34,511.85L169.25,511.60L169.15,511.35L169.06,511.10L168.97,510.85L168.89,510.60L168.80,510.35L168.73,510.10L168.66,509.85L168.58,509.60L168.50,509.35L168.41,509.10L168.32,508.85L168.23,508.60L168.14,508.35L168.05,508.10L167.96,507.85L167.87,507.60L167.79,507.35L167.71,507.10L167.64,506.85L167.57,506.60L167.52,506.35L167.47,506.10L167.43,505.85L167.41,505.60L167.40,505.35L167.40,505.10L167.42,504.85L167.45,504.60L167.49,504.35L167.54,504.10L167.60,503.85L167.67,503.60L167.74,503.35L167.82,503.10L167.91,502.85L168.01,502.60L168.11,502.35L168.21,502.10L168.32,501.85L168.43,501.60L168.54,501.35L168.65,501.10L168.77,500.85L168.91,500.60L169.07,500.35L169.26,500.10L169.46,499.85L169.67,499.60L169.90,499.35L170.14,499.10L170.38,498.85L170.63,498.60L170.88,498.35L171.14,498.10L171.39,497.85L171.64,497.60L171.88,497.35L172.11,497.10L172.34,496.85L172.59,496.60L172.85,496.35L173.13,496.10L173.42,495.85L173.71,495.60L174.01,495.35L174.29,495.10L174.57,494.85L174.83,494.60L175.07,494.35L175.28,494.10L175.47,493.85L175.61,493.60L175.72,493.35L175.79,493.10L175.81,492.85L175.83,492.60L175.85,492.35L175.87,492.10L175.88,491.85L175.90,491.60L175.91,491.35L175.92,491.10L175.94,490.85L175.95,490.60L175.96,490.35L175.97,490.10L175.97,489.85L175.98,489.60L175.99,489.35L175.99,489.10L176.00,488.85L176.00,488.60L176.00,488.35L176.00,488.10Z" fill="#000"/>
<path d="M178.43,497.10L178.67,497.35L178.93,497.60L179.19,497.85L179.46,498.10L179.75,498.35L180.04,498.60L180.33,498.85L180.62,499.10L180.90,499.35L181.16,499.60L181.38,499.85L181.62,500.10L181.86,500.35L182.11,500.60L182.36,500.85L182.61,501.10L182.86,501.35L183.12,501.60L183.36,501.85L183.60,502.10L183.82,502.35L184.02,502.60L184.15,502.85L184.26,503.10L184.37,503.35L184.48,503.60L184.58,503.85L184.68,504.10L184.78,504.35L184.86,504.60L184.93,504.85L184.98,505.10L185.00,505.35L184.96,505.60L184.89,505.85L184.81,506.10L184.73,506.35L184.64,506.60L184.55,506.85L184.46,507.10L184.37,507.35L184.28,507.60L184.19,507.85L184.10,508.10L184.02,508.35L183.94,508.60L183.87,508.85L183.80,509.10L183.71,509.35L183.63,509.60L183.54,509.85L183.45,510.10L183.35,510.35L183.26,510.60L183.18,510.85L183.10,511.10L183.02,511.35L182.95,511.60L182.88,511.85L182.83,512.10L182.77,512.35L182.72,512.60L182.68,512.85L182.65,513.10L182.63,513.35L182.61,513.60L182.60,513.85L182.60,514.10L182.61,514.35L182.62,514.60L182.65,514.85L182.68,515.10L182.72,515.35L182.76,515.60L182.81,515.85L182.87,516.10L182.93,516.35L183.00,516.60L183.08,516.85L183.15,517.10L183.24,517.35L183.32,517.60L183.41,517.85L183.50,518.10L183.59,518.35L183.68,518.60L183.76,518.85L183.84,519.10L183.85,519.35L183.72,519.60L183.57,519.85L183.42,520.10L183.26,520.35L183.10,520.60L182.94,520.85L182.78,521.10L182.62,521.35L182.47,521.60L182.32,521.85L182.18,522.10L182.02,522.35L181.84,522.60L181.66,522.85L181.47,523.10L181.28,523.35L181.09,523.60L180.90,523.85L180.72,524.10L180.53,524.35L180.36,524.60L180.19,524.85L180.03,525.10L179.88,525.35L179.73,525.60L179.60,525.85L179.47,526.10L179.36,526.35L179.25,526.60L179.13,526.85L179.02,527.10L178.91,527.35L178.80,527.60L178.69,527.85L178.58,528.10L178.48,528.35L178.39,528.60L178.29,528.85L178.11,528.85L178.01,528.60L177.92,528.35L177.82,528.10L177.71,527.85L177.60,527.60L177.49,527.35L177.38,527.10L177.27,526.85L177.15,526.60L177.04,526.35L176.93,526.10L176.80,525.85L176.67,525.60L176.52,525.35L176.37,525.10L176.21,524.85L176.04,524.60L175.87,524.35L175.68,524.10L175.50,523.85L175.31,523.60L175.12,523.35L174.93,523.10L174.74,522.85L174.56,522.60L174.38,522.35L174.22,522.10L174.08,521.85L173.93,521.60L173.78,521.35L173.62,521.10L173.46,520.85L173.30,520.60L173.14,520.35L172.98,520.10L172.83,519.85L172.68,519.60L172.55,519.35L172.56,519.10L172.64,518.85L172.72,518.60L172.81,518.35L172.90,518.10L172.99,517.85L173.08,517.60L173.16,517.35L173.25,517.10L173.32,516.85L173.40,516.60L173.47,516.35L173.53,516.10L173.59,515.85L173.64,515.60L173.68,515.35L173.72,515.10L173.75,514.85L173.78,514.60L173.79,514.35L173.80,514.10L173.80,513.85L173.79,513.60L173.77,513.35L173.75,513.10L173.72,512.85L173.68,512.60L173.63,512.35L173.57,512.10L173.52,511.85L173.45,511.60L173.38,511.35L173.30,511.10L173.22,510.85L173.14,510.60L173.05,510.35L172.95,510.10L172.86,509.85L172.77,509.60L172.69,509.35L172.60,509.10L172.53,508.85L172.46,508.60L172.38,508.35L172.30,508.10L172.21,507.85L172.12,507.60L172.03,507.35L171.94,507.10L171.85,506.85L171.76,506.60L171.67,506.35L171.59,506.10L171.51,505.85L171.44,505.60L171.40,505.35L171.42,505.10L171.47,504.85L171.54,504.60L171.62,504.35L171.72,504.10L171.82,503.85L171.92,503.60L172.03,503.35L172.14,503.10L172.25,502.85L172.38,502.60L172.58,502.35L172.80,502.10L173.04,501.85L173.28,501.60L173.54,501.35L173.79,501.10L174.04,500.85L174.29,500.60L174.54,500.35L174.78,500.10L175.02,499.85L175.24,499.60L175.50,499.35L175.78,499.10L176.07,498.85L176.36,498.60L176.65,498.35L176.94,498.10L177.21,497.85L177.47,497.60L177.73,497.35L177.97,497.10Z" fill="#818181"/>
<path d="M178.26,540.35L178.33,540.60L178.40,540.85L178.47,541.10L178.53,541.35L178.58,541.60L178.60,541.85L178.57,542.10L178.53,542.35L178.48,542.60L178.41,542.85L178.35,543.10L178.28,543.35L178.12,543.35L178.05,543.10L177.99,542.85L177.92,542.60L177.87,542.35L177.83,542.10L177.80,541.85L177.82,541.60L177.87,541.35L177.93,541.10L178.00,540.85L178.07,540.60L178.14,540.35Z" fill="#818181"/>
<line x1="173.74" y1="515" x2="182.66" y2="515" stroke="#000" stroke-width="1.4" stroke-dasharray="4.6 3.2"/>
<line x1="171.56" y1="506" x2="184.84" y2="506" stroke="#000" stroke-width="1.3" stroke-dasharray="1.3 3.4" stroke-dashoffset="-1.5"/>
<line x1="174.85" y1="523" x2="181.55" y2="523" stroke="#000" stroke-width="1.3" stroke-dasharray="1.3 3.4" stroke-dashoffset="-1.5"/>
<path d="M522.5 138.7h0M540.7 133.0h0M519.9 123.9h0M579.2 128.0h0M594.9 124.5h0M561.1 135.0h0M570.3 106.1h0M529.7 107.0h0M516.2 105.3h0M559.0 121.6h0M565.1 113.2h0M555.9 135.0h0M520.5 141.4h0M509.1 130.0h0M544.5 110.8h0M518.9 125.5h0M527.5 143.7h0M538.9 119.9h0M524.9 115.0h0M581.6 118.7h0M529.1 134.7h0M545.0 119.6h0M589.3 126.8h0M553.9 125.5h0M533.0 123.8h0M561.2 108.2h0M521.5 89.3h0M516.0 94.2h0M510.7 109.5h0M553.6 126.8h0M552.8 125.3h0M553.9 124.6h0M554.1 101.4h0M546.6 167.1h0M583.1 117.0h0M537.8 157.2h0M517.3 122.8h0M524.9 98.4h0M534.4 138.4h0M549.0 158.0h0M531.3 98.7h0M536.2 94.7h0M527.4 113.6h0M558.9 100.0h0M570.4 133.3h0M530.1 101.0h0M565.7 93.6h0M521.8 111.0h0M589.8 116.0h0M531.2 99.0h0M553.1 101.7h0M548.2 132.7h0M514.6 97.4h0M546.9 107.9h0M511.6 118.2h0M539.5 98.2h0M543.2 104.9h0M584.9 109.4h0M520.9 132.1h0M511.8 106.1h0M550.2 138.5h0M528.4 124.9h0M544.2 149.9h0M525.2 154.0h0M555.6 113.0h0M517.4 124.3h0M541.4 119.7h0M562.9 110.8h0M576.0 115.9h0M529.5 138.7h0M544.0 119.5h0M585.1 121.8h0M518.2 132.3h0M568.8 122.6h0M559.3 126.1h0M587.7 130.4h0M539.7 127.3h0M537.5 117.4h0M543.8 85.3h0M531.5 137.1h0M512.7 112.1h0M545.5 145.4h0M533.3 93.3h0M540.9 127.1h0M556.4 118.0h0M533.5 99.0h0M519.6 104.6h0M568.9 144.0h0M583.5 112.4h0M524.0 126.9h0M548.9 109.9h0M532.5 119.4h0M556.6 108.3h0M512.4 116.1h0M579.6 123.5h0M571.5 102.6h0M518.2 151.1h0M551.4 127.3h0M529.6 139.9h0M522.5 125.4h0M570.7 127.5h0M561.2 122.6h0M546.2 128.8h0M549.6 128.0h0M573.2 146.5h0M530.3 123.1h0M540.0 115.9h0M523.7 133.7h0M537.3 133.4h0M520.2 134.6h0M530.5 91.8h0M551.5 117.1h0M526.5 115.6h0M552.3 125.1h0M565.4 128.2h0M550.4 134.7h0M538.4 94.0h0M533.3 152.8h0M513.9 116.5h0M562.4 120.6h0M585.5 124.6h0M524.4 151.5h0M556.1 140.2h0M548.2 103.9h0M567.0 131.4h0M554.9 105.9h0M521.7 110.5h0M518.0 112.1h0M530.0 108.5h0M521.1 145.0h0M548.2 128.2h0M515.0 110.0h0M554.3 140.8h0M564.3 94.0h0M511.0 131.0h0M575.4 122.2h0M567.8 136.6h0M511.2 114.4h0M544.0 133.4h0M509.2 124.6h0M538.9 141.8h0M514.5 100.4h0M546.1 148.2h0M514.2 113.9h0M515.1 118.1h0M588.8 113.7h0M566.6 136.5h0M554.0 103.3h0M564.5 105.1h0M522.8 119.8h0M516.0 117.0h0M529.1 125.4h0M561.9 110.0h0M561.4 133.3h0M558.0 111.3h0M535.0 114.6h0M541.1 145.9h0M560.0 162.2h0M547.0 122.4h0M523.2 125.7h0M538.5 99.8h0M581.9 120.2h0M586.6 128.2h0M514.3 146.9h0M517.0 124.4h0M512.7 132.1h0M540.9 140.6h0M576.8 123.2h0M541.6 102.6h0M529.8 120.8h0M574.6 137.3h0M524.4 116.7h0M544.1 139.7h0M575.1 145.5h0M573.5 113.4h0M517.8 132.9h0M528.1 102.2h0M534.4 116.3h0M563.0 133.0h0M555.2 116.6h0M543.2 98.5h0M532.5 125.6h0M527.1 142.2h0M546.6 131.6h0M566.1 133.2h0M530.9 143.8h0M526.9 146.5h0M505.7 113.1h0M516.4 102.4h0M517.7 129.4h0M536.0 107.6h0M563.3 105.8h0M534.2 91.6h0M518.7 126.2h0M520.0 129.2h0M585.0 114.3h0M549.6 118.6h0M527.6 117.1h0M570.4 100.6h0M584.0 127.4h0M543.9 117.1h0M537.3 139.2h0M533.1 125.0h0M532.3 134.4h0M572.6 132.7h0M557.5 123.7h0M578.5 128.3h0M510.0 113.9h0M517.8 108.0h0M542.3 147.0h0M547.0 103.6h0M535.8 161.8h0M541.8 116.8h0M577.2 110.5h0M545.1 131.8h0M525.6 127.0h0M540.5 135.0h0M527.7 106.3h0M550.5 172.5h0M547.0 136.7h0M557.1 151.5h0M589.6 117.4h0M540.4 98.3h0M510.6 99.3h0M540.2 109.5h0M541.1 116.8h0M564.8 132.4h0M580.8 102.6h0M519.6 111.3h0M575.2 134.2h0M520.3 146.2h0M547.2 130.9h0M504.0 102.7h0M570.4 101.3h0M534.7 92.8h0M522.9 137.0h0M583.8 126.4h0M514.9 97.0h0M530.9 118.3h0M538.2 107.9h0M525.7 147.0h0M531.3 129.0h0M570.3 121.0h0M521.7 129.2h0M544.6 127.8h0M522.7 152.7h0M549.6 93.2h0M524.9 120.0h0M528.7 149.1h0M542.4 102.2h0M525.0 121.4h0M559.1 108.6h0M523.4 126.1h0M569.6 132.8h0M556.5 132.3h0M517.6 116.2h0M542.0 107.3h0M513.4 112.6h0M520.2 110.6h0M528.6 100.3h0M557.1 115.3h0M549.5 103.3h0M542.8 101.4h0M520.9 116.9h0M527.7 123.6h0M555.2 126.8h0M539.9 142.1h0M529.2 150.4h0M513.6 97.4h0M511.5 120.7h0M580.3 129.1h0M534.9 92.8h0M576.0 105.7h0M524.5 120.9h0M547.2 102.8h0M525.2 125.5h0M574.8 114.9h0M523.3 88.5h0M543.8 101.8h0M587.8 123.9h0M559.1 108.3h0M544.5 99.6h0M531.7 123.4h0M542.7 127.3h0M503.8 89.0h0M517.7 127.1h0M526.6 145.8h0M511.6 117.3h0M524.2 79.4h0M535.3 109.1h0M571.9 104.7h0M579.6 153.1h0M508.0 128.1h0M537.8 98.1h0M555.0 125.0h0M561.1 97.4h0M519.5 111.8h0M504.9 111.6h0M524.9 89.6h0M528.7 129.5h0M521.2 129.0h0M523.2 118.4h0M553.1 114.5h0M523.2 151.5h0M521.3 97.7h0M526.1 116.1h0M537.5 122.2h0M521.8 108.9h0M540.2 125.9h0M582.3 100.5h0M567.9 117.4h0M561.0 106.5h0M583.2 132.4h0M579.9 123.5h0M544.4 112.1h0M555.7 133.3h0M531.0 131.9h0M543.3 119.5h0M579.8 102.3h0M541.1 105.5h0M535.3 103.2h0M552.8 113.1h0M538.1 103.1h0M515.5 92.0h0M532.6 116.8h0M518.0 112.4h0M578.9 110.6h0M560.1 150.2h0M536.4 121.3h0M513.7 112.0h0M516.6 106.7h0M525.6 126.4h0M542.3 101.9h0M516.2 132.3h0M531.6 123.3h0M520.8 89.7h0M516.1 145.4h0M517.1 122.1h0M517.1 123.4h0M568.9 120.3h0M520.7 130.6h0M516.5 108.9h0M568.9 135.7h0M586.6 139.2h0M559.5 110.9h0M513.9 141.9h0M518.0 114.1h0M518.6 120.6h0M515.7 133.5h0M539.2 126.0h0M512.5 121.6h0M565.2 111.9h0M534.6 131.8h0M521.6 125.1h0M515.3 147.3h0M545.6 124.0h0M563.6 149.3h0M546.6 120.0h0M524.2 129.8h0M566.0 86.5h0M541.6 97.5h0M546.8 121.9h0M578.0 106.0h0M554.3 114.7h0M516.8 142.8h0M555.9 158.6h0M527.3 101.5h0M564.7 113.4h0M545.1 153.2h0M543.4 109.1h0M518.4 105.2h0M509.1 131.7h0M589.8 107.6h0M509.6 150.5h0M512.1 124.6h0M537.7 120.3h0M582.3 108.6h0M543.5 113.4h0M595.5 115.0h0M557.8 110.7h0M567.8 130.3h0M567.7 96.9h0M583.3 125.7h0M588.4 107.8h0M529.5 122.0h0M557.1 123.7h0M541.1 110.4h0M590.9 112.8h0M547.3 97.4h0M533.9 102.1h0M510.1 130.2h0M559.0 111.7h0M506.4 118.0h0M552.0 132.8h0M525.8 142.5h0M554.3 115.6h0M595.3 126.7h0M530.7 147.1h0M544.7 121.9h0M544.6 116.5h0M519.7 120.5h0M559.8 139.1h0M556.7 129.2h0M562.9 98.1h0M523.2 136.5h0M513.5 127.3h0M533.5 80.0h0M516.9 116.0h0M526.5 131.6h0M507.3 153.4h0M534.0 116.1h0M531.5 147.2h0M529.4 122.6h0M533.0 137.5h0M510.9 150.7h0M536.2 91.8h0M552.4 121.7h0M529.2 105.5h0M545.4 107.9h0M565.9 131.7h0M542.3 119.3h0M580.7 126.6h0M562.9 104.8h0M544.7 113.2h0M514.7 128.6h0M538.4 91.8h0M510.2 111.2h0M585.6 113.6h0M511.5 135.1h0M522.4 115.2h0M520.9 149.6h0M572.3 113.7h0M578.0 135.7h0M558.7 117.2h0M571.4 125.1h0M525.5 118.5h0M576.4 115.8h0M515.9 123.7h0M528.4 123.6h0M572.0 144.0h0M555.6 151.0h0M581.7 101.8h0M570.8 111.9h0M522.6 149.9h0M535.1 87.5h0M594.2 130.2h0M556.7 111.9h0M565.1 113.6h0M514.6 120.2h0M585.2 111.4h0M544.2 144.4h0M519.1 123.4h0M545.9 124.9h0M579.1 120.1h0M543.7 125.6h0M595.9 128.6h0M580.8 132.4h0M540.3 105.7h0M587.9 133.4h0M562.5 114.4h0M525.2 116.3h0M515.7 124.4h0M509.2 112.7h0M542.0 111.6h0M561.4 128.7h0M517.7 116.6h0M522.0 87.8h0M589.6 136.7h0M566.4 125.2h0M529.2 136.5h0M533.0 197.7h0M510.4 73.4h0M524.7 77.9h0M525.8 82.0h0M543.1 74.9h0M544.2 81.0h0M552.3 73.8h0M556.4 73.8h0M557.4 78.9h0M556.4 83.0h0M561.5 91.2h0M573.4 86.1h0M601.4 76.9h0M605.5 95.7h0M596.3 100.4h0M547.2 86.1h0M539.0 90.2h0M549.3 96.3h0M520.7 90.2h0M515.5 92.2h0M568.7 166.8h0M539.0 163.3h0M545.2 163.8h0M555.4 156.6h0M560.5 153.5h0M520.7 159.7h0M525.8 157.6h0M594.2 152.5h0M588.1 145.4h0" stroke="#90bdf6" stroke-width="4.0" stroke-linecap="round" fill="none"/>
<path d="M546.2 90.6h0M578.3 97.3h0M575.8 102.4h0M583.6 110.6h0M552.3 111.6h0M561.5 113.3h0M593.2 124.9h0M599.3 134.7h0M590.1 139.2h0M593.2 142.3h0M594.2 145.4h0M571.7 147.4h0M562.6 149.0h0M551.3 142.3h0M573.8 130.0h0M566.0 142.3h0M581.0 111.6h0M588.1 128.0h0" stroke="#ffc38f" stroke-width="4.0" stroke-linecap="round" fill="none"/>
<path d="M571.1 55.0h0M571.7 81.0h0M568.7 87.7h0M590.1 91.2h0M592.2 106.9h0M599.3 114.7h0M604.4 122.9h0M587.1 119.8h0M586.0 125.0h0M595.9 126.6h0M589.1 131.7h0M575.8 145.0h0M581.4 144.3h0M571.3 159.3h0M555.8 112.7h0M569.7 93.2h0M567.3 145.0h0" stroke="#0000b4" stroke-width="4.0" stroke-linecap="round" fill="none"/>
<path d="M460.9 139.5h0M429.7 122.2h0M470.3 142.4h0M459.8 139.0h0M451.2 134.0h0M486.6 130.9h0M480.8 140.2h0M437.2 115.8h0M432.9 141.0h0M486.4 124.7h0M432.1 140.3h0M473.2 138.4h0M443.9 129.3h0M447.2 111.8h0M459.6 125.5h0M487.6 143.9h0M402.8 113.9h0M432.5 133.4h0M470.6 144.8h0M449.4 129.4h0M442.1 131.9h0M492.6 130.1h0M440.4 138.5h0M470.1 132.2h0M492.8 133.9h0M473.6 133.8h0M469.8 136.5h0M470.8 143.8h0M476.8 127.5h0M440.9 131.3h0M464.3 130.2h0M476.6 140.9h0M483.6 138.3h0M485.4 150.3h0M485.2 137.8h0M426.0 120.7h0M448.2 133.0h0M453.3 125.3h0M484.0 135.1h0M450.9 119.7h0M440.5 134.7h0M411.9 148.0h0M442.2 128.3h0M474.9 138.7h0M412.0 140.3h0M432.7 124.1h0M443.8 130.4h0M458.2 130.2h0M447.3 137.4h0M483.1 136.2h0M436.2 129.2h0M460.1 116.1h0M474.7 144.2h0M488.0 139.5h0M482.3 134.2h0M430.0 149.6h0M475.7 154.2h0M467.5 112.7h0M451.1 153.3h0M413.7 122.5h0M433.0 140.4h0M472.6 144.8h0M424.2 151.9h0M443.9 142.9h0M439.8 124.1h0M472.4 151.5h0M447.0 127.4h0M424.6 125.5h0M447.8 112.3h0M444.9 138.5h0M470.3 122.8h0M444.4 123.8h0M468.7 139.1h0M458.6 152.8h0M483.6 121.9h0M471.5 151.1h0M450.2 139.3h0M455.2 125.2h0M454.3 122.7h0M482.1 147.3h0M430.3 130.9h0M451.3 137.1h0M458.4 122.3h0M452.0 107.6h0M462.5 154.9h0M456.1 125.0h0M450.6 164.9h0M468.3 135.9h0M445.0 145.3h0M463.0 114.0h0M471.1 134.6h0M429.6 138.5h0M444.8 138.7h0M489.9 146.3h0M493.1 139.2h0M501.1 149.0h0M417.6 121.6h0M478.4 120.9h0M488.7 131.6h0M485.0 152.3h0M470.2 153.7h0M467.5 144.0h0M470.5 125.0h0M461.0 138.8h0M475.5 144.2h0M456.3 133.3h0M437.6 147.3h0M425.6 142.3h0M485.6 133.2h0M473.0 139.9h0M433.8 136.3h0M478.1 134.0h0M443.0 139.3h0M464.9 142.9h0M446.8 138.7h0M436.7 125.5h0M433.6 130.7h0M422.4 142.8h0M422.9 132.6h0M422.1 121.7h0M425.0 107.7h0M479.0 149.7h0M457.3 131.3h0M429.4 133.1h0M457.8 126.1h0M458.9 130.2h0M455.9 119.0h0M436.1 126.3h0M451.9 140.3h0M482.0 144.0h0M448.7 129.7h0M456.4 130.6h0M488.1 112.4h0M438.1 114.3h0M470.9 148.9h0M455.1 130.9h0M475.4 151.2h0M447.1 151.5h0M458.9 127.1h0M447.6 128.0h0M481.6 149.3h0M486.3 120.7h0M464.6 146.0h0M496.4 157.1h0M471.4 129.5h0M478.7 135.1h0M484.3 140.4h0M441.0 133.5h0M498.2 142.4h0M449.1 135.6h0M456.0 136.6h0M434.0 151.9h0M478.0 151.7h0M445.5 127.0h0M468.4 143.6h0M437.0 126.2h0M446.5 120.5h0M448.7 137.9h0M438.4 129.3h0M416.0 105.3h0M474.1 129.4h0M490.7 118.9h0M437.6 115.7h0M432.5 122.9h0M446.3 134.8h0M424.1 138.8h0M465.8 147.6h0M447.7 128.7h0M460.2 130.1h0M485.4 140.8h0M481.2 128.7h0M487.1 146.0h0M488.7 127.0h0M461.9 134.8h0M456.3 135.2h0M416.6 129.1h0M426.5 130.7h0M457.7 108.3h0M480.8 155.2h0M451.8 132.5h0M404.2 114.6h0M436.5 124.3h0M473.4 140.0h0M432.2 112.0h0M435.5 143.2h0M442.0 146.9h0M463.2 129.3h0M479.2 153.1h0M437.0 157.5h0M462.6 125.9h0M458.1 126.8h0M452.6 126.6h0M461.3 140.4h0M477.4 135.3h0M436.9 142.4h0M456.0 116.2h0M426.0 120.4h0M457.0 126.9h0M475.7 157.9h0M506.3 142.7h0M454.6 118.6h0M442.7 120.0h0M461.3 126.8h0M447.9 133.9h0M428.2 133.8h0M457.7 128.5h0M476.3 133.0h0M483.9 135.9h0M495.6 146.7h0M447.6 115.9h0M439.5 145.0h0M427.5 130.0h0M452.0 140.6h0M476.9 126.1h0M438.2 116.9h0M480.2 124.3h0M470.0 128.2h0M435.7 146.8h0M464.6 113.2h0M477.9 131.8h0M488.4 140.7h0M432.5 130.8h0M478.0 141.0h0M474.5 132.3h0M438.9 129.1h0M442.6 136.9h0M491.7 169.9h0M447.2 134.2h0M442.2 127.8h0M470.5 130.7h0M429.8 132.1h0M455.1 129.8h0M447.0 122.7h0M459.0 140.1h0M462.8 119.6h0M465.2 156.5h0M451.8 147.9h0M483.5 148.4h0M479.1 163.7h0M488.5 150.8h0M452.7 121.1h0M471.3 123.1h0M451.7 133.4h0M441.5 114.4h0M465.9 133.1h0M490.1 145.5h0M476.7 134.6h0M441.9 134.4h0M437.7 124.3h0M474.2 152.9h0M469.5 125.5h0M481.4 143.0h0M431.1 121.3h0M481.2 154.6h0M451.8 138.9h0M441.1 131.9h0M446.0 123.9h0M501.8 161.3h0M491.5 121.1h0M424.2 123.6h0M444.0 138.9h0M470.5 123.3h0M416.1 127.9h0M416.2 115.8h0M418.1 102.5h0M481.8 129.7h0M445.3 139.1h0M444.3 137.9h0M475.9 130.8h0M444.3 130.2h0M471.8 145.4h0M447.7 141.0h0M442.8 125.9h0M448.9 109.0h0M433.0 159.7h0M423.0 120.8h0M482.1 140.4h0M481.8 129.6h0M453.6 125.3h0M468.4 135.5h0M481.3 149.0h0M449.1 149.1h0M470.0 156.3h0M473.0 123.6h0M423.4 131.5h0M430.3 136.5h0M472.7 139.6h0M469.6 150.5h0M434.4 128.3h0M478.4 123.3h0M476.4 124.9h0M445.3 150.2h0M445.8 119.0h0M427.5 138.4h0M452.6 155.0h0M427.4 143.6h0M458.9 145.4h0M464.2 135.5h0M461.4 146.3h0M422.5 146.5h0M464.0 138.3h0M472.8 116.0h0M430.6 138.4h0M462.3 130.3h0M477.8 136.5h0M435.1 103.3h0M486.2 160.2h0M494.3 129.6h0M470.0 150.0h0M482.1 144.6h0M441.0 133.8h0M466.8 101.7h0M487.6 147.9h0M418.1 150.8h0M477.9 123.4h0M438.4 141.3h0M476.4 139.7h0M465.3 135.9h0M476.5 136.1h0M449.8 136.1h0M452.9 131.6h0M487.4 134.9h0M422.5 119.3h0M432.0 135.6h0M494.4 150.9h0M486.2 150.8h0M431.1 124.2h0M494.6 142.9h0M440.5 126.7h0M484.0 132.6h0M485.3 120.1h0M413.1 126.7h0M407.8 120.6h0M444.9 146.3h0M488.2 151.6h0M475.7 140.4h0M448.9 147.1h0M480.9 130.4h0M443.5 147.4h0M446.2 132.9h0M434.8 158.0h0M492.1 153.3h0M476.6 140.8h0M453.7 137.3h0M440.4 151.8h0M493.1 140.2h0M449.5 123.8h0M436.4 125.0h0M451.3 141.4h0M470.5 142.6h0M474.2 149.5h0M427.3 122.6h0M490.1 123.4h0M467.4 141.5h0M421.1 148.6h0M479.3 135.4h0M494.2 134.1h0M479.3 166.7h0M407.8 127.9h0M454.4 111.5h0M461.9 126.5h0M483.6 132.4h0M456.3 130.5h0M423.3 116.9h0M488.5 150.1h0M490.9 149.7h0M455.3 130.3h0M419.6 137.0h0M479.4 134.8h0M472.1 157.0h0M494.1 133.4h0M406.5 119.5h0M452.0 134.0h0M441.8 131.1h0M427.1 111.4h0M471.6 148.1h0M445.8 143.3h0M416.9 141.7h0M429.9 135.1h0M476.8 148.0h0M463.0 135.0h0M436.7 139.0h0M468.9 151.6h0M429.5 147.6h0M467.4 122.9h0M466.1 136.5h0M405.5 132.6h0M456.9 134.6h0M471.0 137.3h0M473.3 128.6h0M469.6 130.2h0M483.3 144.8h0M473.1 145.5h0M487.1 151.4h0M450.7 147.7h0M415.8 113.0h0M434.1 141.4h0M442.1 154.6h0M417.5 138.8h0M427.2 138.6h0M457.4 131.4h0M439.6 142.0h0M442.0 127.2h0M472.1 132.4h0M480.6 124.1h0M481.3 114.5h0M447.8 103.4h0M469.8 121.8h0M480.5 150.3h0M431.5 135.3h0M435.6 129.2h0M465.7 113.5h0M440.5 125.4h0M435.0 118.8h0M447.6 135.7h0M410.5 122.4h0M452.2 126.7h0M418.5 134.4h0M439.0 124.1h0M436.9 120.6h0M445.0 135.1h0M429.0 118.8h0M454.3 117.0h0M468.3 135.3h0M445.7 133.5h0M487.7 142.8h0M481.1 144.6h0M443.4 131.5h0M416.9 133.9h0M474.0 140.1h0M438.6 140.6h0M445.2 149.9h0M461.3 145.3h0M506.8 148.1h0M443.0 145.7h0M454.1 141.5h0M464.4 117.9h0M468.0 123.9h0M436.5 139.4h0M462.3 128.8h0M459.0 142.0h0M466.4 118.3h0M427.9 136.5h0M429.1 129.3h0M495.0 126.8h0M478.0 146.2h0M478.5 123.4h0M488.5 148.7h0M492.2 138.0h0M449.3 137.3h0M473.0 137.6h0M465.3 133.9h0M460.0 135.9h0M467.8 146.8h0M444.3 124.0h0M481.3 130.1h0M450.2 120.5h0M431.2 115.5h0M408.4 145.5h0M465.1 121.8h0M438.0 118.3h0M491.5 146.4h0M435.2 120.6h0M444.1 117.5h0M497.3 150.5h0M457.4 149.7h0M487.1 143.2h0M475.0 107.0h0M428.4 127.4h0M436.8 145.0h0M448.9 136.8h0M482.9 149.2h0M445.3 137.8h0M453.8 133.6h0M454.9 162.1h0M444.7 129.5h0M475.3 121.8h0M419.9 131.4h0M437.6 136.2h0M478.3 125.7h0M463.6 149.0h0M456.9 148.2h0M447.7 148.8h0M429.5 132.1h0M453.4 130.3h0M498.3 146.1h0M462.3 129.4h0M461.1 126.3h0M499.8 140.5h0M483.4 147.3h0M507.3 154.7h0M491.2 125.7h0M467.0 147.0h0M443.4 135.9h0M464.4 140.0h0M446.3 135.6h0M477.2 148.8h0M430.2 145.4h0M453.7 107.2h0M479.5 127.4h0M453.2 142.2h0M462.7 136.0h0M426.0 121.7h0M441.9 136.6h0M491.3 133.0h0M466.3 142.3h0M447.4 137.7h0M457.2 135.8h0M474.5 141.8h0M475.4 163.3h0M478.5 137.2h0M442.3 130.2h0M438.5 127.2h0M465.1 146.2h0M457.9 131.2h0M460.3 132.8h0M436.7 150.9h0M444.3 156.9h0M472.8 131.5h0M447.0 144.0h0M473.2 126.0h0M418.4 104.6h0M490.8 146.6h0M436.2 139.3h0M454.7 134.8h0M487.0 131.6h0M439.6 144.7h0M437.7 118.8h0M497.8 133.3h0M485.2 131.5h0M458.2 140.7h0M420.9 118.6h0M462.9 126.2h0M439.5 145.3h0M436.7 109.6h0M488.3 142.8h0M463.8 131.5h0M452.5 140.1h0M421.2 124.7h0M447.9 121.5h0M481.4 146.7h0M443.2 150.8h0M444.6 138.2h0M463.0 149.4h0M439.5 140.6h0M459.8 136.4h0M474.0 137.5h0M442.0 119.1h0M454.4 145.5h0M461.1 131.4h0M447.3 139.3h0M437.4 117.5h0M427.9 101.5h0M460.4 131.9h0M489.0 120.6h0M411.5 135.3h0M481.6 155.4h0M492.5 155.5h0M458.9 151.9h0M493.5 152.6h0M469.5 138.8h0M459.1 122.7h0M453.8 127.1h0M454.0 129.6h0M467.9 140.5h0M438.2 140.0h0M470.2 135.9h0M455.6 133.3h0M467.5 133.2h0M489.4 135.5h0M438.1 133.5h0M449.9 154.9h0M441.2 144.7h0M419.5 138.6h0M464.0 117.3h0M464.4 140.1h0M507.7 145.2h0M462.7 119.7h0M449.5 130.6h0M484.9 143.1h0M410.2 132.7h0M443.2 144.1h0M472.8 133.4h0M432.4 118.8h0M447.2 127.7h0M480.2 129.4h0M446.1 125.9h0M438.9 110.9h0M483.9 145.5h0M423.3 127.3h0M480.8 130.2h0M444.1 119.9h0M436.2 157.9h0M455.4 140.3h0M455.1 136.9h0M492.9 153.1h0M472.8 127.6h0M453.6 132.2h0M460.0 139.4h0M444.3 150.8h0M496.8 159.2h0M448.8 144.6h0M483.4 133.4h0M466.2 148.8h0M486.5 162.2h0M446.7 149.3h0M450.8 140.7h0M447.7 116.0h0M478.4 110.6h0M491.1 145.6h0M478.2 127.3h0M453.0 119.5h0M478.6 123.7h0M471.3 137.7h0M457.4 148.8h0M434.3 136.8h0M438.5 152.2h0M469.4 133.6h0M435.5 123.5h0M460.0 155.4h0M476.7 137.7h0M466.1 132.6h0M463.2 122.0h0M440.0 117.8h0M428.5 121.1h0M415.8 137.0h0M418.4 133.4h0M438.0 119.3h0M459.9 141.6h0M451.2 134.8h0M435.9 115.1h0M443.2 131.7h0M453.7 149.3h0M476.3 140.3h0M466.2 128.9h0M417.3 131.3h0M455.0 122.2h0M434.5 117.8h0M480.7 144.8h0M483.3 143.9h0M459.7 136.2h0M471.7 149.4h0M468.3 132.0h0M477.6 139.2h0M441.5 124.4h0M437.8 138.6h0M472.4 146.0h0M492.0 119.5h0M437.9 141.6h0M460.5 141.4h0M459.0 142.9h0M448.0 137.2h0M472.7 146.4h0M429.7 130.9h0M447.9 141.5h0M451.7 138.9h0M491.1 135.9h0M468.1 128.5h0M469.9 131.2h0M508.5 160.4h0M437.6 127.9h0M462.8 136.6h0M427.1 130.9h0M432.5 149.8h0M468.9 128.9h0M478.4 138.9h0M464.9 117.3h0M461.3 128.4h0M475.6 149.0h0M491.5 156.0h0M487.5 126.4h0M477.0 146.6h0M451.8 127.1h0M473.9 140.0h0M438.2 109.7h0M485.2 137.9h0M441.5 116.6h0M496.2 128.3h0M443.1 138.0h0M440.4 136.1h0M420.0 84.4h0M428.9 85.6h0M419.3 88.8h0M431.5 102.8h0M492.9 98.4h0M479.7 113.3h0M446.4 170.2h0M428.9 161.5h0M418.4 158.0h0M496.0 171.1h0M500.7 172.0h0M506.0 169.3h0M504.2 163.2h0M512.1 159.7h0M514.8 160.6h0M519.1 142.2h0M541.0 111.0h0M525.0 140.0h0M525.5 147.0h0" stroke="#ff0000" stroke-width="4.0" stroke-linecap="round" fill="none"/>
<path d="M390.0 97.8h0M414.2 91.9h0M367.5 88.9h0M414.0 106.2h0M379.1 93.5h0M385.5 91.2h0M405.9 83.3h0M384.7 96.8h0M391.8 89.0h0M357.7 98.5h0M402.0 93.7h0M391.2 83.5h0M380.2 88.8h0M403.8 98.8h0M378.6 84.9h0M387.1 83.7h0M366.7 79.2h0M384.4 73.6h0M371.9 83.6h0M375.9 90.4h0M401.8 94.5h0M377.1 86.8h0M388.7 88.4h0M417.5 100.1h0M415.2 97.3h0M400.5 105.1h0M391.4 84.1h0M376.9 90.5h0M368.8 93.6h0M416.1 94.3h0M390.2 80.2h0M365.3 80.3h0M395.4 90.2h0M403.2 100.7h0M394.9 70.7h0M411.5 90.6h0M359.0 91.6h0M390.8 95.4h0M387.4 88.2h0M361.0 95.2h0M396.3 90.5h0M407.3 98.9h0M393.9 82.1h0M375.8 78.5h0M406.5 114.8h0M389.9 89.2h0M389.9 101.1h0M402.0 85.7h0M367.8 83.2h0M405.4 90.9h0M398.4 100.0h0M403.7 81.2h0M371.0 69.6h0M404.5 102.1h0M371.0 82.2h0M362.6 88.7h0M407.4 95.8h0M407.8 104.9h0M408.7 82.4h0M388.0 96.0h0M376.7 88.4h0M354.9 79.9h0M396.5 96.4h0M400.3 94.8h0M406.3 99.2h0M377.2 87.3h0M372.7 94.3h0M396.2 94.8h0M404.7 96.0h0M415.4 101.3h0M368.0 84.1h0M388.5 91.3h0M409.9 91.0h0M385.4 90.7h0M393.8 91.8h0M357.3 87.9h0M397.9 96.0h0M411.6 106.7h0M405.8 91.3h0M409.3 104.7h0M397.3 97.3h0M374.8 82.9h0M402.8 91.0h0M372.4 88.3h0M406.1 109.6h0M361.0 80.1h0M405.7 93.1h0M369.0 95.5h0M382.8 82.0h0M379.4 92.1h0M398.8 100.6h0M370.1 84.1h0M384.0 89.3h0M354.7 81.9h0M375.9 98.2h0M385.4 75.1h0M364.6 88.5h0M395.9 102.5h0M383.1 83.2h0M400.6 95.7h0M397.0 89.6h0M385.9 91.0h0M408.1 96.3h0M395.9 89.8h0M404.9 100.0h0M380.9 82.1h0M391.5 93.4h0M371.4 91.7h0M420.4 100.9h0M374.6 82.2h0M375.6 87.6h0M361.9 90.1h0M375.6 81.1h0M402.5 106.4h0M399.2 100.0h0M366.3 83.9h0M382.9 97.8h0M385.3 88.1h0M397.5 92.5h0M387.2 82.3h0M393.6 97.3h0M406.5 99.8h0M400.6 90.8h0M382.3 105.8h0M386.8 66.2h0M382.4 92.8h0M364.9 89.6h0M371.8 78.6h0M377.3 86.6h0M379.2 100.1h0M379.2 82.0h0M393.1 84.5h0M416.3 102.7h0M403.1 96.0h0M403.9 90.8h0M402.3 100.2h0M394.1 87.8h0M411.5 95.7h0M398.8 97.3h0M389.4 99.4h0M362.2 85.2h0M388.8 95.5h0M372.5 77.6h0M366.6 83.2h0M389.7 83.9h0M403.6 93.2h0M378.1 84.5h0M402.8 99.5h0M390.6 85.0h0M367.9 70.8h0M397.8 132.2h0M401.5 131.0h0M411.2 137.5h0M398.6 130.6h0M408.0 138.8h0M388.6 124.0h0M396.8 130.8h0M401.1 133.5h0M402.6 134.9h0M393.4 132.2h0M397.1 131.5h0M410.7 135.7h0M403.3 134.9h0M401.7 131.3h0M388.9 132.8h0M388.5 126.1h0M440.5 139.5h0M417.8 117.7h0M443.3 120.2h0M444.5 135.5h0M419.8 117.9h0M435.7 127.0h0M420.5 109.4h0M422.1 123.5h0M431.0 117.7h0M432.0 134.9h0M430.5 128.0h0M432.7 128.0h0M421.0 113.0h0M441.9 123.9h0M423.3 130.6h0M449.4 124.3h0M431.7 119.9h0M424.3 125.2h0M419.7 125.0h0M430.7 128.2h0M426.8 140.2h0M435.6 126.3h0M431.2 124.5h0M413.2 128.0h0M444.6 122.9h0M414.1 132.5h0M444.3 134.4h0M443.6 133.6h0M450.2 112.8h0M437.1 142.5h0M419.2 117.6h0M429.2 117.5h0M429.1 122.5h0M435.9 117.5h0M427.0 134.1h0M437.6 148.7h0M420.7 116.2h0M426.0 135.5h0M432.7 130.1h0M428.6 136.3h0M417.7 113.1h0M453.9 123.2h0M438.2 134.9h0M444.6 121.5h0M426.2 123.8h0M465.2 135.1h0M472.9 133.7h0M481.4 123.0h0M459.1 143.2h0M466.1 120.3h0M474.7 136.3h0M477.8 140.0h0M497.2 144.9h0M583.0 131.5h0M581.6 134.7h0M508.4 154.6h0M350.6 61.7h0" stroke="#00c000" stroke-width="4.0" stroke-linecap="round" fill="none"/>
<line x1="350.60" y1="43.70" x2="350.60" y2="229.40" stroke="#000" stroke-width="2.2" stroke-linecap="butt"/>
<line x1="343.20" y1="222.20" x2="350.60" y2="222.20" stroke="#000" stroke-width="2.2" stroke-linecap="butt"/>
<text x="338.60" y="226.80" font-size="12.5" font-weight="bold" text-anchor="end" fill="#000" stroke="#000" stroke-width="0.25">3</text>
<line x1="343.20" y1="196.70" x2="350.60" y2="196.70" stroke="#000" stroke-width="2.2" stroke-linecap="butt"/>
<text x="338.60" y="201.30" font-size="12.5" font-weight="bold" text-anchor="end" fill="#000" stroke="#000" stroke-width="0.25">4</text>
<line x1="343.20" y1="171.20" x2="350.60" y2="171.20" stroke="#000" stroke-width="2.2" stroke-linecap="butt"/>
<text x="338.60" y="175.80" font-size="12.5" font-weight="bold" text-anchor="end" fill="#000" stroke="#000" stroke-width="0.25">5</text>
<line x1="343.20" y1="145.70" x2="350.60" y2="145.70" stroke="#000" stroke-width="2.2" stroke-linecap="butt"/>
<text x="338.60" y="150.30" font-size="12.5" font-weight="bold" text-anchor="end" fill="#000" stroke="#000" stroke-width="0.25">6</text>
<line x1="343.20" y1="120.20" x2="350.60" y2="120.20" stroke="#000" stroke-width="2.2" stroke-linecap="butt"/>
<text x="338.60" y="124.80" font-size="12.5" font-weight="bold" text-anchor="end" fill="#000" stroke="#000" stroke-width="0.25">7</text>
<line x1="343.20" y1="94.70" x2="350.60" y2="94.70" stroke="#000" stroke-width="2.2" stroke-linecap="butt"/>
<text x="338.60" y="99.30" font-size="12.5" font-weight="bold" text-anchor="end" fill="#000" stroke="#000" stroke-width="0.25">8</text>
<line x1="343.20" y1="69.20" x2="350.60" y2="69.20" stroke="#000" stroke-width="2.2" stroke-linecap="butt"/>
<text x="338.60" y="73.80" font-size="12.5" font-weight="bold" text-anchor="end" fill="#000" stroke="#000" stroke-width="0.25">9</text>
<line x1="343.20" y1="43.70" x2="350.60" y2="43.70" stroke="#000" stroke-width="2.2" stroke-linecap="butt"/>
<text x="338.60" y="48.30" font-size="12.5" font-weight="bold" text-anchor="end" fill="#000" stroke="#000" stroke-width="0.25">10</text>
<line x1="343.20" y1="222.20" x2="619.10" y2="222.20" stroke="#000" stroke-width="2.2" stroke-linecap="butt"/>
<line x1="350.60" y1="222.20" x2="350.60" y2="229.40" stroke="#000" stroke-width="2.2" stroke-linecap="butt"/>
<text x="350.60" y="246.20" font-size="12.5" font-weight="bold" text-anchor="middle" fill="#000" stroke="#000" stroke-width="0.25">0</text>
<line x1="359.52" y1="222.20" x2="359.52" y2="226.60" stroke="#000" stroke-width="2.0" stroke-linecap="butt"/>
<line x1="368.43" y1="222.20" x2="368.43" y2="226.60" stroke="#000" stroke-width="2.0" stroke-linecap="butt"/>
<line x1="377.35" y1="222.20" x2="377.35" y2="226.60" stroke="#000" stroke-width="2.0" stroke-linecap="butt"/>
<line x1="386.27" y1="222.20" x2="386.27" y2="226.60" stroke="#000" stroke-width="2.0" stroke-linecap="butt"/>
<line x1="395.18" y1="222.20" x2="395.18" y2="226.60" stroke="#000" stroke-width="2.0" stroke-linecap="butt"/>
<line x1="404.10" y1="222.20" x2="404.10" y2="226.60" stroke="#000" stroke-width="2.0" stroke-linecap="butt"/>
<line x1="413.02" y1="222.20" x2="413.02" y2="226.60" stroke="#000" stroke-width="2.0" stroke-linecap="butt"/>
<line x1="421.93" y1="222.20" x2="421.93" y2="226.60" stroke="#000" stroke-width="2.0" stroke-linecap="butt"/>
<line x1="430.85" y1="222.20" x2="430.85" y2="226.60" stroke="#000" stroke-width="2.0" stroke-linecap="butt"/>
<line x1="439.77" y1="222.20" x2="439.77" y2="229.40" stroke="#000" stroke-width="2.2" stroke-linecap="butt"/>
<text x="439.77" y="246.20" font-size="12.5" font-weight="bold" text-anchor="middle" fill="#000" stroke="#000" stroke-width="0.25">90</text>
<line x1="448.68" y1="222.20" x2="448.68" y2="226.60" stroke="#000" stroke-width="2.0" stroke-linecap="butt"/>
<line x1="457.60" y1="222.20" x2="457.60" y2="226.60" stroke="#000" stroke-width="2.0" stroke-linecap="butt"/>
<line x1="466.52" y1="222.20" x2="466.52" y2="226.60" stroke="#000" stroke-width="2.0" stroke-linecap="butt"/>
<line x1="475.43" y1="222.20" x2="475.43" y2="226.60" stroke="#000" stroke-width="2.0" stroke-linecap="butt"/>
<line x1="484.35" y1="222.20" x2="484.35" y2="226.60" stroke="#000" stroke-width="2.0" stroke-linecap="butt"/>
<line x1="493.27" y1="222.20" x2="493.27" y2="226.60" stroke="#000" stroke-width="2.0" stroke-linecap="butt"/>
<line x1="502.18" y1="222.20" x2="502.18" y2="226.60" stroke="#000" stroke-width="2.0" stroke-linecap="butt"/>
<line x1="511.10" y1="222.20" x2="511.10" y2="226.60" stroke="#000" stroke-width="2.0" stroke-linecap="butt"/>
<line x1="520.02" y1="222.20" x2="520.02" y2="226.60" stroke="#000" stroke-width="2.0" stroke-linecap="butt"/>
<line x1="528.93" y1="222.20" x2="528.93" y2="229.40" stroke="#000" stroke-width="2.2" stroke-linecap="butt"/>
<text x="528.93" y="246.20" font-size="12.5" font-weight="bold" text-anchor="middle" fill="#000" stroke="#000" stroke-width="0.25">180</text>
<line x1="537.85" y1="222.20" x2="537.85" y2="226.60" stroke="#000" stroke-width="2.0" stroke-linecap="butt"/>
<line x1="546.77" y1="222.20" x2="546.77" y2="226.60" stroke="#000" stroke-width="2.0" stroke-linecap="butt"/>
<line x1="555.68" y1="222.20" x2="555.68" y2="226.60" stroke="#000" stroke-width="2.0" stroke-linecap="butt"/>
<line x1="564.60" y1="222.20" x2="564.60" y2="226.60" stroke="#000" stroke-width="2.0" stroke-linecap="butt"/>
<line x1="573.52" y1="222.20" x2="573.52" y2="226.60" stroke="#000" stroke-width="2.0" stroke-linecap="butt"/>
<line x1="582.43" y1="222.20" x2="582.43" y2="226.60" stroke="#000" stroke-width="2.0" stroke-linecap="butt"/>
<line x1="591.35" y1="222.20" x2="591.35" y2="226.60" stroke="#000" stroke-width="2.0" stroke-linecap="butt"/>
<line x1="600.27" y1="222.20" x2="600.27" y2="226.60" stroke="#000" stroke-width="2.0" stroke-linecap="butt"/>
<line x1="609.18" y1="222.20" x2="609.18" y2="226.60" stroke="#000" stroke-width="2.0" stroke-linecap="butt"/>
<line x1="618.10" y1="222.20" x2="618.10" y2="229.40" stroke="#000" stroke-width="2.2" stroke-linecap="butt"/>
<text x="618.10" y="246.20" font-size="12.5" font-weight="bold" text-anchor="middle" fill="#000" stroke="#000" stroke-width="0.25">270</text>
<text x="484.35" y="265.80" font-size="12.7" font-weight="bold" text-anchor="middle" fill="#000" stroke="#000" stroke-width="0.25">Pseudotime</text>
<text x="296.40" y="133.60" font-size="12.5" font-weight="bold" text-anchor="middle" fill="#000" transform="rotate(-90 296.4 133.6)" stroke="#000" stroke-width="0.25">CFLAR</text>
<text x="311.80" y="133.55" font-size="13.65" font-weight="normal" text-anchor="middle" fill="#000" transform="rotate(-90 311.8 133.54999999999998)" stroke="#000" stroke-width="0.3">normalized expression</text>
<circle cx="633.8" cy="56.1" r="2" fill="#00c000"/>
<text x="641.80" y="60.60" font-size="12.5" font-weight="normal" text-anchor="start" fill="#000">Normal</text>
<circle cx="633.8" cy="79.9" r="2" fill="#ff0000"/>
<text x="641.80" y="84.40" font-size="12.5" font-weight="normal" text-anchor="start" fill="#000">Primary</text>
<circle cx="633.8" cy="103.6" r="2" fill="#90bdf6"/>
<text x="641.80" y="108.10" font-size="12.5" font-weight="normal" text-anchor="start" fill="#000">ARPC</text>
<circle cx="633.8" cy="127.0" r="2" fill="#ffc38f"/>
<text x="641.80" y="131.50" font-size="12.5" font-weight="normal" text-anchor="start" fill="#000">NEPC</text>
<circle cx="633.8" cy="150.8" r="2" fill="#0000b4"/>
<text x="641.80" y="155.30" font-size="12.5" font-weight="normal" text-anchor="start" fill="#000">DNPC</text>
<path d="M412.7 429.6h0M425.6 472.8h0M427.0 472.8h0M542.0 504.6h0M544.2 486.0h0M546.2 477.4h0M537.2 480.5h0M525.6 495.1h0M560.6 523.6h0M539.2 506.5h0M508.8 471.8h0M561.5 516.8h0M514.1 435.4h0M550.1 453.1h0M545.4 524.4h0M581.9 498.9h0M580.4 452.6h0M534.5 445.2h0M547.7 455.3h0M521.2 503.6h0M544.7 488.8h0M531.5 448.3h0M537.8 476.1h0M535.8 488.1h0M581.0 473.4h0M547.4 458.3h0M571.3 482.3h0M539.2 473.3h0M533.8 453.5h0M588.9 501.2h0M532.6 497.2h0M515.0 455.7h0M527.1 501.2h0M560.3 472.5h0M539.0 495.3h0M564.4 464.6h0M555.8 511.6h0M579.5 457.6h0M523.1 467.6h0M576.7 494.0h0M525.2 493.1h0M538.8 482.4h0M585.3 510.5h0M533.2 503.9h0M547.7 456.3h0M534.7 464.4h0M520.2 446.7h0M543.5 511.2h0M516.2 511.4h0M515.0 503.3h0M539.4 464.3h0M533.1 459.4h0M569.1 531.2h0M541.4 456.3h0M533.7 487.3h0M529.1 502.3h0M577.8 488.6h0M565.4 471.5h0M547.1 486.3h0M521.4 477.2h0M545.5 500.4h0M516.1 500.8h0M520.9 481.3h0M535.8 514.8h0M516.5 459.6h0M516.4 489.4h0M545.5 450.7h0M566.4 524.4h0M528.0 444.9h0M570.7 507.9h0M522.3 493.0h0M538.4 472.4h0M534.9 457.9h0M563.8 486.3h0M546.2 489.5h0M546.8 435.1h0M517.7 461.8h0M524.5 500.7h0M529.3 482.0h0M556.6 443.5h0M573.7 478.3h0M582.2 465.5h0M571.4 435.9h0M568.7 500.5h0M570.4 476.8h0M552.5 498.6h0M515.4 471.8h0M520.0 461.6h0M516.3 499.3h0M557.1 480.6h0M556.0 480.4h0M522.9 451.3h0M530.0 489.6h0M522.1 501.2h0M571.4 476.4h0M563.8 512.7h0M555.9 479.4h0M549.5 468.9h0M542.5 500.4h0M539.5 482.2h0M521.6 496.0h0M543.1 545.8h0M547.4 515.6h0M552.1 532.2h0M518.0 472.3h0M581.9 514.5h0M556.0 487.5h0M553.8 484.6h0M528.6 452.9h0M542.6 488.5h0M551.1 492.3h0M525.6 464.2h0M553.6 445.2h0M548.4 483.9h0M563.9 477.3h0M545.2 485.7h0M555.5 500.6h0M587.4 527.9h0M552.9 485.2h0M508.0 475.9h0M516.5 477.4h0M536.5 434.1h0M539.1 487.2h0M549.9 474.7h0M537.9 487.1h0M538.1 452.5h0M516.5 478.2h0M569.6 440.3h0M542.9 486.6h0M584.9 466.7h0M580.3 460.9h0M590.0 493.3h0M552.7 462.9h0M515.8 470.6h0M537.3 496.1h0M543.1 496.0h0M528.1 468.6h0M513.6 435.6h0M560.1 496.8h0M564.1 472.2h0M524.6 492.3h0M509.7 465.9h0M558.9 516.0h0M554.8 502.4h0M521.9 473.9h0M524.5 490.9h0M527.5 481.7h0M552.7 459.2h0M573.7 489.7h0M569.2 503.8h0M524.6 501.5h0M533.0 489.5h0M544.7 454.3h0M551.0 484.5h0M527.9 479.0h0M534.2 461.9h0M549.4 462.6h0M552.0 459.2h0M561.1 493.8h0M545.6 502.4h0M512.1 503.6h0M527.4 490.7h0M545.8 489.9h0M531.7 461.0h0M595.6 477.8h0M528.8 488.6h0M574.4 464.6h0M526.1 502.7h0M563.3 511.0h0M556.8 512.2h0M599.8 513.5h0M554.3 489.5h0M583.5 508.9h0M576.2 505.9h0M534.9 448.3h0M545.9 515.3h0M519.5 494.9h0M526.3 480.6h0M576.7 475.9h0M526.0 464.7h0M533.1 483.7h0M525.2 483.0h0M568.1 492.6h0M522.9 458.2h0M549.3 503.8h0M523.6 525.3h0M571.7 481.9h0M522.6 499.3h0M549.9 483.8h0M589.4 450.0h0M554.9 481.4h0M547.1 439.0h0M560.5 523.5h0M538.1 473.8h0M520.0 465.0h0M558.6 464.8h0M575.8 505.1h0M528.7 472.7h0M540.6 477.1h0M570.3 484.0h0M529.8 506.8h0M532.8 515.9h0M533.5 465.7h0M522.5 466.5h0M579.8 485.9h0M552.6 467.9h0M554.3 457.8h0M562.9 513.4h0M574.2 467.0h0M544.0 446.3h0M591.5 459.3h0M508.4 459.6h0M528.2 460.2h0M524.5 505.6h0M548.9 493.2h0M561.4 459.9h0M570.8 449.1h0M595.7 473.5h0M583.7 498.0h0M540.9 482.4h0M542.8 460.1h0M544.4 433.5h0M506.9 455.8h0M540.9 490.9h0M557.7 468.4h0M516.0 462.2h0M530.8 422.9h0M522.2 460.1h0M519.2 471.2h0M533.1 478.3h0M539.4 506.3h0M520.7 494.8h0M553.0 493.2h0M553.6 501.3h0M600.4 479.4h0M557.9 480.8h0M511.5 451.5h0M521.5 440.0h0M582.4 481.6h0M523.0 477.2h0M526.4 514.7h0M540.6 469.9h0M566.6 468.3h0M541.0 496.3h0M511.8 477.4h0M535.0 492.7h0M589.6 457.2h0M527.4 461.0h0M555.8 453.6h0M531.6 502.7h0M515.3 416.8h0M534.3 496.0h0M541.8 502.4h0M574.0 480.7h0M524.7 485.7h0M576.0 440.3h0M521.7 481.6h0M532.6 491.7h0M538.7 456.2h0M589.7 453.1h0M535.6 496.3h0M533.4 487.5h0M513.6 477.6h0M527.9 478.5h0M552.1 441.7h0M558.9 453.6h0M538.6 454.3h0M585.0 452.7h0M513.3 470.1h0M552.1 461.5h0M535.9 479.4h0M543.5 497.2h0M533.0 439.9h0M521.8 510.8h0M522.7 473.4h0M519.0 484.4h0M547.1 519.6h0M595.8 495.5h0M521.6 471.7h0M575.8 474.8h0M554.2 502.5h0M530.7 459.8h0M522.7 467.1h0M525.0 456.9h0M592.5 537.2h0M548.1 492.1h0M598.1 501.4h0M529.2 463.4h0M521.6 489.3h0M545.8 492.9h0M518.4 496.4h0M541.0 507.0h0M543.8 502.1h0M588.1 461.3h0M557.2 509.5h0M508.9 516.3h0M513.9 465.5h0M508.7 479.3h0M545.8 468.6h0M547.6 469.4h0M546.7 488.9h0M576.5 497.6h0M526.3 487.5h0M544.8 481.4h0M574.4 506.2h0M556.9 479.7h0M535.2 447.6h0M516.4 485.9h0M518.1 485.9h0M590.2 504.2h0M521.7 460.8h0M513.8 458.4h0M565.3 450.9h0M546.5 465.1h0M539.8 476.8h0M553.3 472.5h0M528.2 504.6h0M535.6 465.9h0M530.4 472.9h0M523.2 429.5h0M555.8 451.1h0M535.9 497.0h0M536.5 491.3h0M547.8 461.3h0M553.0 531.8h0M564.3 507.7h0M556.2 475.1h0M531.0 462.6h0M517.7 468.6h0M549.7 455.0h0M525.7 480.9h0M536.9 476.5h0M575.6 491.5h0M515.7 494.0h0M535.1 477.2h0M526.5 487.3h0M542.4 478.3h0M544.3 540.8h0M529.0 473.7h0M585.8 500.9h0M547.0 495.7h0M521.3 472.5h0M565.4 496.9h0M554.2 461.4h0M536.2 450.4h0M563.2 463.8h0M562.3 461.8h0M533.7 469.6h0M580.7 485.9h0M552.8 513.1h0M515.8 479.3h0M524.8 448.4h0M511.2 455.8h0M552.1 494.2h0M520.4 470.8h0M540.6 455.6h0M542.4 483.8h0M515.9 438.7h0M598.8 504.8h0M585.8 466.0h0M599.0 467.7h0M534.3 474.0h0M530.8 470.0h0M522.0 462.0h0M601.8 542.1h0M563.9 473.8h0M521.6 448.9h0M508.3 463.2h0M569.3 457.8h0M529.8 502.2h0M535.2 479.5h0M564.3 477.2h0M566.6 491.9h0M544.8 453.3h0M573.7 474.2h0M540.8 491.2h0M538.4 460.5h0M550.5 463.1h0M544.4 490.6h0M529.7 462.4h0M560.8 475.7h0M554.9 474.9h0M523.3 500.9h0M547.1 451.8h0M543.9 465.6h0M546.2 481.7h0M546.5 473.1h0M556.0 475.7h0M539.6 486.2h0M544.1 493.9h0M578.7 484.1h0M515.7 483.7h0M560.9 496.5h0M515.8 495.3h0M511.4 475.9h0M575.4 461.5h0M520.5 468.6h0M517.1 471.1h0M568.2 493.5h0M533.1 486.9h0M539.7 513.3h0M548.5 443.2h0M542.9 496.9h0M559.3 520.5h0M538.7 470.0h0M565.0 479.2h0M533.1 489.0h0M520.8 504.7h0M563.6 518.7h0M587.0 445.4h0M571.8 489.1h0M517.7 485.9h0M540.8 437.3h0M552.4 495.6h0M548.1 503.2h0M569.1 472.5h0M597.6 476.3h0M551.5 445.8h0M576.4 525.6h0M534.7 471.6h0M544.4 519.8h0M578.4 475.1h0M526.8 489.6h0M547.3 492.2h0M551.0 499.7h0M531.6 458.4h0M561.0 445.8h0M561.7 487.1h0M549.5 488.1h0M526.4 486.2h0M528.7 464.5h0M545.9 505.0h0M527.4 398.1h0M557.8 489.8h0M560.1 443.6h0M518.6 469.5h0M551.4 514.8h0M555.9 521.0h0M553.8 493.2h0M565.9 503.1h0M555.6 489.6h0M523.3 499.1h0M530.3 424.9h0M555.1 433.1h0M565.8 529.9h0M527.2 465.1h0M539.5 452.3h0M520.7 480.7h0M558.3 490.1h0M568.6 459.3h0M514.4 460.8h0M569.6 516.2h0M531.0 450.0h0M534.9 489.4h0M537.4 437.2h0M579.0 511.5h0M534.9 530.0h0M566.7 483.7h0M600.3 455.0h0M556.3 472.0h0M554.9 480.3h0M555.1 506.1h0M546.6 460.6h0M511.6 507.4h0M536.2 461.2h0M534.2 505.7h0M524.5 488.3h0M557.3 516.6h0M524.6 495.3h0M525.1 443.2h0M518.8 498.4h0M533.8 474.5h0M538.6 498.4h0M584.3 461.1h0M518.6 502.3h0M561.2 486.2h0M527.7 456.9h0M570.5 431.2h0M536.4 506.6h0M551.2 504.6h0M552.4 485.4h0M564.8 450.5h0M574.3 513.6h0M546.4 463.5h0M544.8 496.9h0M534.9 503.0h0M537.9 516.7h0M579.1 485.0h0M530.4 456.2h0M550.0 486.2h0M534.2 527.3h0M568.5 501.5h0M534.4 457.7h0M525.9 457.4h0M538.2 474.3h0M545.4 448.1h0M524.5 504.0h0M516.9 499.4h0M531.9 425.2h0M516.8 459.6h0M565.2 492.3h0M533.7 490.4h0M555.1 547.3h0M574.8 467.3h0M545.6 531.3h0M577.2 538.7h0M543.6 483.4h0M516.5 442.2h0M543.3 491.4h0M535.9 471.6h0M534.6 489.6h0M541.0 472.3h0M574.3 530.5h0M564.0 435.3h0M562.8 510.8h0M524.8 464.0h0M560.0 536.7h0M562.1 443.3h0M527.0 467.4h0M587.4 434.9h0M536.2 495.1h0M573.4 462.0h0M542.2 485.8h0" stroke="#90bdf6" stroke-width="4.0" stroke-linecap="round" fill="none"/>
<path d="M572.6 486.3h0M588.7 487.3h0M584.0 497.3h0M562.3 493.1h0M568.5 494.6h0M545.8 495.2h0M551.5 503.9h0M574.7 499.3h0M582.9 508.0h0M593.2 512.7h0M599.0 516.7h0M590.8 517.9h0M594.3 517.9h0M579.4 515.6h0M592.6 525.1h0M572.2 523.1h0M566.0 539.6h0M582.1 544.1h0M587.7 536.5h0M551.5 554.4h0M558.6 555.9h0M562.7 551.8h0" stroke="#ffc38f" stroke-width="4.0" stroke-linecap="round" fill="none"/>
<path d="M570.5 445.0h0M604.6 447.5h0M590.1 481.2h0M592.6 485.7h0M588.7 492.5h0M571.6 480.1h0M566.8 478.7h0M556.1 491.5h0M599.0 508.0h0M580.9 510.5h0M575.7 501.8h0M595.7 522.0h0M586.0 525.1h0M587.0 538.5h0" stroke="#0000b4" stroke-width="4.0" stroke-linecap="round" fill="none"/>
<path d="M442.0 418.8h0M445.8 434.7h0M460.8 477.0h0M429.4 450.1h0M433.9 448.5h0M472.1 442.5h0M467.2 428.1h0M451.1 435.9h0M440.6 468.5h0M465.6 441.8h0M451.9 442.7h0M442.5 439.5h0M480.9 431.2h0M435.1 456.0h0M474.0 433.8h0M460.7 462.5h0M462.5 444.3h0M464.9 440.9h0M469.5 420.4h0M481.7 456.4h0M487.1 471.1h0M438.9 436.6h0M432.2 451.5h0M483.6 428.8h0M435.3 451.8h0M436.6 453.5h0M474.1 432.2h0M495.7 451.0h0M477.7 435.3h0M454.7 459.2h0M446.4 426.2h0M502.6 462.8h0M468.7 436.5h0M461.4 455.6h0M412.1 465.2h0M434.7 447.0h0M412.9 444.7h0M485.1 428.7h0M437.6 440.2h0M432.8 436.5h0M458.5 437.2h0M435.2 410.5h0M456.4 452.9h0M492.1 434.0h0M479.7 449.3h0M438.2 441.2h0M486.4 456.0h0M447.8 431.4h0M455.0 457.4h0M443.3 458.0h0M509.1 459.3h0M442.2 456.3h0M468.7 437.8h0M460.8 434.6h0M465.3 453.4h0M426.9 436.0h0M455.8 451.1h0M506.9 456.3h0M457.4 444.1h0M434.8 423.9h0M421.0 445.5h0M443.6 453.6h0M469.4 455.8h0M416.1 432.5h0M420.5 464.5h0M463.2 450.0h0M481.8 452.5h0M450.2 470.1h0M461.1 449.7h0M439.0 433.2h0M440.0 441.4h0M452.3 453.5h0M436.4 436.6h0M451.1 438.3h0M430.9 422.3h0M487.6 459.0h0M462.6 449.1h0M425.9 444.3h0M434.5 445.7h0M476.2 445.9h0M446.2 445.0h0M439.2 451.4h0M415.8 465.0h0M464.4 451.2h0M457.8 459.3h0M477.3 459.5h0M432.7 450.3h0M469.8 440.1h0M476.1 436.9h0M475.8 459.0h0M469.4 442.4h0M450.4 435.4h0M420.3 446.3h0M462.4 462.8h0M416.3 471.4h0M425.1 436.2h0M448.4 434.3h0M428.5 441.7h0M450.9 455.4h0M478.4 430.2h0M433.0 431.3h0M473.5 447.2h0M507.2 459.3h0M418.6 468.5h0M449.3 436.1h0M466.6 463.3h0M468.3 438.3h0M440.5 436.3h0M474.4 445.8h0M446.1 427.2h0M435.1 447.9h0M454.7 437.8h0M460.4 436.2h0M477.1 444.4h0M463.7 449.8h0M424.8 431.5h0M458.1 440.0h0M444.5 446.2h0M466.4 447.4h0M419.9 444.5h0M463.2 420.3h0M472.9 445.3h0M419.1 448.8h0M413.5 459.5h0M483.0 463.5h0M483.5 472.0h0M433.2 442.0h0M487.4 449.3h0M448.3 455.2h0M454.8 460.1h0M452.0 447.7h0M443.9 449.8h0M482.1 464.7h0M460.2 441.6h0M489.0 448.4h0M461.0 445.5h0M487.7 439.9h0M454.6 451.2h0M452.3 429.6h0M457.8 455.5h0M409.8 441.2h0M471.0 439.1h0M430.2 447.6h0M491.0 446.3h0M419.8 460.6h0M466.7 462.2h0M471.1 448.5h0M456.1 452.2h0M426.1 438.5h0M474.6 446.6h0M443.1 437.6h0M441.0 440.8h0M465.6 443.3h0M497.1 451.9h0M426.1 449.2h0M450.0 449.2h0M464.3 423.1h0M440.3 463.1h0M487.8 452.3h0M459.8 434.0h0M423.9 440.7h0M431.5 429.4h0M430.5 438.8h0M451.2 457.8h0M485.5 453.3h0M427.7 460.4h0M431.2 434.0h0M435.9 428.9h0M458.0 449.4h0M449.7 438.4h0M449.0 448.7h0M430.7 460.6h0M475.8 452.5h0M452.5 461.3h0M479.9 454.9h0M417.3 444.2h0M451.3 436.5h0M446.0 430.5h0M477.4 451.5h0M465.6 443.1h0M454.9 439.9h0M432.0 438.8h0M464.9 476.8h0M483.6 458.4h0M471.7 437.6h0M495.9 468.8h0M459.1 442.2h0M442.6 435.5h0M436.5 465.1h0M473.6 449.1h0M474.7 444.4h0M461.8 445.2h0M472.2 464.0h0M452.9 440.7h0M478.4 454.6h0M465.7 436.8h0M438.0 440.0h0M458.8 450.9h0M463.1 443.6h0M435.2 452.3h0M489.5 460.2h0M474.1 465.4h0M430.7 447.7h0M436.4 436.1h0M407.5 446.7h0M490.2 451.6h0M433.1 452.0h0M476.7 454.0h0M454.4 436.8h0M421.6 463.1h0M435.8 422.7h0M439.0 445.5h0M470.8 422.6h0M445.9 432.3h0M430.4 450.0h0M491.4 442.1h0M454.5 442.2h0M422.9 441.1h0M497.5 442.9h0M464.4 452.1h0M450.3 451.6h0M430.7 450.1h0M465.6 461.4h0M426.2 448.8h0M490.1 448.7h0M469.8 444.2h0M467.0 444.5h0M471.2 451.7h0M479.7 439.4h0M451.9 467.1h0M474.6 452.6h0M427.5 449.6h0M466.1 436.8h0M469.8 439.7h0M435.8 436.9h0M427.6 445.9h0M486.5 438.6h0M483.0 462.2h0M427.5 445.4h0M458.9 468.8h0M433.6 427.2h0M435.4 428.5h0M488.4 459.5h0M463.6 455.8h0M470.3 470.8h0M440.6 461.9h0M471.7 446.4h0M464.0 448.4h0M444.6 461.3h0M453.5 450.8h0M438.4 452.7h0M459.2 441.0h0M434.0 438.1h0M450.8 447.8h0M478.8 447.7h0M463.3 446.6h0M459.7 468.7h0M427.7 444.2h0M475.6 449.2h0M460.8 438.1h0M491.8 477.7h0M489.2 441.9h0M488.9 460.2h0M455.7 442.7h0M471.2 434.0h0M426.7 462.5h0M419.9 462.2h0M472.5 436.5h0M464.3 459.1h0M491.6 465.7h0M442.0 438.9h0M453.4 447.6h0M472.5 439.0h0M460.1 442.8h0M478.1 449.2h0M447.6 434.8h0M477.8 422.8h0M479.5 450.3h0M484.5 431.6h0M447.8 433.2h0M485.2 449.0h0M442.3 440.5h0M459.2 456.0h0M499.5 464.2h0M462.4 443.3h0M459.1 446.4h0M445.5 431.4h0M454.5 459.3h0M453.2 448.5h0M464.6 453.5h0M456.0 447.1h0M442.9 432.9h0M434.3 458.8h0M502.1 444.0h0M460.8 452.5h0M433.0 449.3h0M444.1 434.6h0M462.8 449.4h0M437.7 438.2h0M483.5 448.4h0M456.0 447.3h0M464.8 450.5h0M463.6 465.3h0M432.1 453.9h0M488.9 449.4h0M477.9 446.3h0M430.7 462.1h0M457.7 434.8h0M455.3 439.1h0M442.3 459.2h0M446.4 456.4h0M439.1 439.8h0M461.5 465.2h0M449.6 453.1h0M426.6 446.6h0M437.0 446.7h0M431.2 446.3h0M461.4 441.7h0M456.8 454.0h0M447.4 450.3h0M456.4 423.2h0M461.4 461.2h0M436.2 450.2h0M421.4 445.4h0M494.7 462.5h0M433.9 432.2h0M438.0 444.4h0M466.4 438.1h0M501.5 493.0h0M428.8 432.7h0M448.0 432.7h0M478.9 457.7h0M425.0 431.5h0M438.5 442.2h0M460.4 435.6h0M476.3 426.8h0M426.8 444.7h0M448.8 455.8h0M459.1 445.6h0M456.4 458.9h0M455.7 453.7h0M504.6 467.3h0M500.9 465.4h0M435.8 432.5h0M438.9 435.9h0M447.9 454.5h0M426.6 433.2h0M430.8 463.7h0M457.5 452.2h0M502.0 457.4h0M441.3 432.0h0M434.9 437.2h0M460.6 440.5h0M441.6 430.8h0M412.9 439.2h0M425.9 430.4h0M481.3 458.3h0M427.4 464.0h0M462.2 450.1h0M449.0 435.7h0M471.2 443.8h0M454.2 435.1h0M437.2 437.1h0M435.8 439.3h0M437.5 435.9h0M437.4 452.5h0M438.6 432.9h0M441.7 455.4h0M459.5 446.4h0M455.3 459.8h0M423.1 440.2h0M449.1 461.2h0M488.6 432.2h0M490.2 469.1h0M443.0 441.8h0M431.5 446.6h0M441.3 454.0h0M429.6 431.5h0M439.1 449.2h0M487.7 431.3h0M481.2 461.1h0M451.0 453.2h0M456.6 466.3h0M466.1 439.9h0M466.2 435.9h0M465.7 443.4h0M468.7 448.0h0M459.0 455.0h0M429.6 419.4h0M465.2 437.7h0M464.0 465.9h0M432.1 448.4h0M434.6 473.2h0M461.9 428.2h0M447.0 423.3h0M474.6 430.4h0M440.3 445.1h0M463.8 452.1h0M460.5 460.5h0M427.6 439.4h0M440.4 452.5h0M445.1 448.5h0M441.8 451.4h0M425.6 448.8h0M437.5 435.0h0M455.8 426.5h0M436.9 443.0h0M461.8 445.1h0M448.8 456.4h0M451.2 457.7h0M435.5 456.3h0M472.5 436.7h0M424.1 442.8h0M491.1 438.3h0M458.9 440.4h0M491.0 456.8h0M456.5 458.1h0M444.9 448.4h0M446.1 459.8h0M488.4 424.2h0M454.9 441.5h0M447.5 448.4h0M431.6 423.1h0M431.2 449.1h0M448.8 438.4h0M451.0 446.2h0M474.0 442.9h0M428.6 449.1h0M451.1 439.1h0M429.6 429.3h0M438.8 458.1h0M453.3 468.3h0M481.2 431.7h0M429.6 443.1h0M433.1 435.2h0M466.5 449.0h0M455.3 427.7h0M425.3 424.9h0M464.8 458.5h0M493.9 442.9h0M468.8 452.9h0M506.5 479.5h0M469.1 449.5h0M443.5 438.3h0M473.7 462.9h0M457.6 458.8h0M425.6 431.6h0M445.6 444.2h0M491.4 446.1h0M463.1 458.2h0M446.1 451.6h0M466.7 444.7h0M464.9 443.8h0M431.8 443.6h0M451.5 427.5h0M474.1 445.5h0M428.1 462.5h0M456.4 454.5h0M428.3 446.2h0M440.1 431.1h0M470.9 454.8h0M445.3 449.2h0M475.6 448.3h0M467.9 454.5h0M461.8 455.0h0M431.1 448.2h0M451.0 434.3h0M481.4 443.2h0M461.6 449.2h0M423.1 441.9h0M453.8 459.1h0M451.8 434.4h0M453.0 437.2h0M448.7 442.0h0M474.8 467.1h0M455.6 423.3h0M479.1 484.4h0M492.9 466.8h0M483.5 461.3h0M471.2 439.5h0M415.3 465.5h0M407.2 445.9h0M432.8 447.4h0M454.7 448.4h0M441.7 436.0h0M429.6 430.1h0M488.0 446.0h0M449.6 448.2h0M434.9 470.5h0M454.4 429.3h0M500.1 459.8h0M467.7 467.5h0M487.7 449.0h0M428.1 429.8h0M469.0 448.5h0M444.1 457.8h0M445.5 420.7h0M451.2 438.5h0M451.6 441.4h0M472.9 435.9h0M441.5 468.6h0M451.5 445.8h0M449.8 446.9h0M461.0 420.9h0M457.1 451.5h0M420.3 453.2h0M478.7 465.4h0M462.3 455.0h0M431.3 447.8h0M453.5 442.1h0M484.1 452.1h0M481.9 424.3h0M448.1 439.6h0M437.7 438.1h0M492.5 433.6h0M468.6 439.6h0M463.6 451.8h0M448.4 461.7h0M479.9 444.3h0M434.5 454.4h0M476.1 432.4h0M473.7 456.4h0M455.0 469.1h0M445.7 444.5h0M465.1 434.3h0M447.2 447.2h0M448.7 442.9h0M439.8 443.2h0M472.3 427.5h0M431.4 442.1h0M453.4 445.4h0M450.4 451.6h0M501.6 479.3h0M427.5 430.0h0M457.5 432.7h0M436.6 455.6h0M492.2 444.0h0M429.0 442.0h0M486.4 455.3h0M462.5 449.4h0M434.3 437.0h0M448.7 458.1h0M440.2 450.6h0M452.4 445.8h0M475.8 448.1h0M452.6 447.3h0M501.3 452.3h0M485.7 443.2h0M436.2 455.0h0M429.6 444.7h0M465.0 452.1h0M445.4 428.6h0M439.5 460.3h0M487.8 453.9h0M458.3 437.7h0M439.7 448.1h0M457.4 448.9h0M456.6 451.1h0M473.6 443.9h0M448.6 457.6h0M454.0 445.8h0M431.3 446.6h0M478.2 466.0h0M486.9 446.8h0M407.5 454.2h0M470.1 443.3h0M497.5 441.7h0M479.2 444.3h0M473.6 461.1h0M436.1 441.5h0M503.5 479.0h0M446.3 453.0h0M479.1 428.0h0M471.9 446.9h0M460.0 428.2h0M495.4 455.7h0M493.7 452.4h0M450.5 456.7h0M452.1 434.4h0M484.5 451.7h0M450.9 437.8h0M480.3 443.0h0M436.9 438.9h0M438.7 441.0h0M447.1 444.9h0M442.3 444.5h0M451.0 451.9h0M436.6 467.8h0M432.2 439.4h0M446.7 421.8h0M433.3 432.8h0M444.4 418.9h0M447.7 439.0h0M490.6 463.9h0M448.9 454.9h0M459.0 436.5h0M487.6 445.2h0M450.5 445.9h0M440.2 436.0h0M457.6 453.9h0M428.9 419.9h0M450.9 422.2h0M437.3 413.0h0M440.8 419.4h0M474.2 404.6h0M471.2 421.9h0M470.0 420.2h0M456.3 404.1h0M469.3 417.5h0M459.3 410.3h0M453.2 421.7h0M431.2 408.8h0M489.6 412.3h0M452.7 406.4h0M487.5 408.8h0M490.8 409.4h0M454.8 413.0h0M473.7 411.2h0M463.7 407.3h0M484.7 415.3h0M498.3 409.3h0M425.2 419.9h0M489.4 405.5h0M442.4 410.5h0M440.6 419.5h0M477.3 418.0h0M442.7 415.9h0M461.8 421.0h0M525.1 453.3h0M540.6 537.9h0M497.2 505.9h0M493.5 399.5h0M494.5 401.0h0M468.0 400.5h0M418.6 512.5h0M459.5 497.3h0M433.3 482.1h0M433.3 489.1h0M466.5 484.5h0M470.0 478.6h0M465.3 491.5h0M471.1 490.3h0M485.2 479.8h0M452.5 474.0h0M456.7 472.8h0" stroke="#ff0000" stroke-width="4.0" stroke-linecap="round" fill="none"/>
<path d="M388.4 461.4h0M389.9 470.6h0M409.0 475.2h0M380.4 474.8h0M400.5 470.5h0M405.4 457.7h0M385.2 461.9h0M378.1 484.0h0M388.9 478.9h0M402.7 474.7h0M399.2 486.5h0M383.5 480.9h0M394.7 471.1h0M403.1 458.7h0M394.4 452.3h0M401.8 478.5h0M419.1 455.0h0M403.6 473.3h0M393.3 442.5h0M385.2 473.2h0M391.7 464.0h0M397.4 481.6h0M413.1 474.4h0M407.3 463.7h0M390.6 476.2h0M415.4 459.0h0M396.0 490.4h0M404.0 458.8h0M381.3 485.8h0M381.1 451.0h0M385.9 476.2h0M412.7 450.6h0M403.5 485.6h0M410.8 459.6h0M402.2 479.4h0M393.8 476.7h0M397.6 468.8h0M400.3 472.6h0M411.4 461.5h0M394.9 459.8h0M413.2 456.0h0M401.0 469.3h0M409.7 482.7h0M397.0 480.0h0M404.0 469.9h0M391.4 499.2h0M397.8 459.1h0M386.5 475.4h0M380.9 477.3h0M376.8 463.6h0M404.3 458.7h0M395.5 466.7h0M413.5 476.6h0M410.0 461.4h0M393.1 465.7h0M419.8 472.7h0M400.3 454.7h0M406.9 460.0h0M393.9 496.5h0M385.6 470.8h0M384.5 489.7h0M384.9 457.4h0M400.7 457.7h0M381.6 488.4h0M375.0 487.9h0M409.9 464.1h0M380.9 477.2h0M395.3 449.3h0M396.6 459.5h0M401.3 471.8h0M397.2 461.6h0M416.4 488.4h0M406.2 462.7h0M399.6 457.2h0M401.2 470.5h0M397.2 478.7h0M418.8 454.9h0M386.9 445.8h0M403.8 464.8h0M398.9 483.5h0M377.0 457.1h0M389.8 496.4h0M415.6 457.0h0M407.7 473.6h0M374.2 465.2h0M389.8 482.6h0M373.9 460.5h0M409.7 461.7h0M381.5 496.7h0M378.2 500.9h0M420.8 465.2h0M395.2 452.5h0M390.6 469.3h0M377.6 474.6h0M393.2 473.5h0M392.4 460.7h0M397.8 464.1h0M373.5 473.8h0M383.4 486.2h0M386.2 456.4h0M395.0 451.6h0M390.0 488.6h0M401.0 438.1h0M389.4 461.7h0M414.3 469.9h0M418.5 485.9h0M378.4 466.6h0M386.2 464.8h0M399.2 476.5h0M407.1 489.3h0M378.7 460.3h0M385.1 480.5h0M395.6 476.0h0M403.1 430.8h0M413.9 437.3h0M411.7 452.7h0M408.1 471.8h0M377.9 466.9h0M420.2 490.0h0M401.1 466.8h0M356.7 533.5h0M357.8 518.3h0M362.5 510.2h0M361.4 500.8h0M363.7 514.8h0M361.8 514.4h0M368.4 498.5h0M373.0 505.5h0M377.7 498.5h0M380.0 499.6h0M384.7 497.3h0M389.4 497.3h0M367.2 489.1h0M364.9 477.9h0M369.5 479.8h0M374.2 474.0h0M362.5 484.5h0M377.2 515.5h0M350.1 493.8h0M371.9 478.6h0M382.4 488.0h0M368.4 477.5h0M362.5 447.1h0M367.2 451.8h0M376.5 430.7h0M371.9 437.7h0M387.0 427.2h0M394.0 422.6h0M376.5 438.9h0M374.2 450.6h0M375.4 449.4h0M390.5 438.9h0M394.0 440.1h0M372.6 444.3h0M419.4 466.6h0M438.1 453.9h0M429.4 453.5h0M417.6 453.7h0M420.4 448.6h0M417.6 434.2h0M418.2 441.6h0M421.8 451.5h0M434.8 437.7h0M425.5 454.7h0M421.0 433.6h0M424.6 441.7h0M420.7 463.7h0M432.4 437.9h0M414.3 443.2h0M421.3 477.7h0M422.2 456.6h0M418.3 455.3h0M432.5 465.4h0M418.2 461.7h0M421.6 459.0h0M414.2 446.5h0M433.0 442.4h0M423.2 420.0h0M430.4 450.2h0M419.3 437.4h0M412.9 451.6h0M422.2 445.7h0M433.6 457.2h0M435.2 464.3h0M468.7 458.6h0M468.9 442.2h0M446.5 438.4h0M454.5 451.2h0M449.2 440.3h0M438.8 451.9h0M445.2 431.4h0M457.6 448.0h0M449.6 441.2h0M453.3 436.2h0M446.7 445.9h0M471.2 459.6h0M460.5 447.6h0M430.8 435.3h0M462.6 443.8h0M468.8 441.4h0M462.7 452.7h0M440.3 440.8h0M441.4 435.6h0M435.8 441.8h0M427.4 425.1h0M446.0 443.9h0M583.5 470.8h0M581.9 477.0h0M508.6 526.6h0" stroke="#00c000" stroke-width="4.0" stroke-linecap="round" fill="none"/>
<line x1="350.70" y1="381.40" x2="350.70" y2="567.10" stroke="#000" stroke-width="2.2" stroke-linecap="butt"/>
<line x1="343.30" y1="559.90" x2="350.70" y2="559.90" stroke="#000" stroke-width="2.2" stroke-linecap="butt"/>
<text x="338.70" y="564.50" font-size="12.5" font-weight="bold" text-anchor="end" fill="#000" stroke="#000" stroke-width="0.25">1</text>
<line x1="343.30" y1="542.05" x2="350.70" y2="542.05" stroke="#000" stroke-width="2.2" stroke-linecap="butt"/>
<text x="338.70" y="546.65" font-size="12.5" font-weight="bold" text-anchor="end" fill="#000" stroke="#000" stroke-width="0.25">2</text>
<line x1="343.30" y1="524.20" x2="350.70" y2="524.20" stroke="#000" stroke-width="2.2" stroke-linecap="butt"/>
<text x="338.70" y="528.80" font-size="12.5" font-weight="bold" text-anchor="end" fill="#000" stroke="#000" stroke-width="0.25">3</text>
<line x1="343.30" y1="506.35" x2="350.70" y2="506.35" stroke="#000" stroke-width="2.2" stroke-linecap="butt"/>
<text x="338.70" y="510.95" font-size="12.5" font-weight="bold" text-anchor="end" fill="#000" stroke="#000" stroke-width="0.25">4</text>
<line x1="343.30" y1="488.50" x2="350.70" y2="488.50" stroke="#000" stroke-width="2.2" stroke-linecap="butt"/>
<text x="338.70" y="493.10" font-size="12.5" font-weight="bold" text-anchor="end" fill="#000" stroke="#000" stroke-width="0.25">5</text>
<line x1="343.30" y1="470.65" x2="350.70" y2="470.65" stroke="#000" stroke-width="2.2" stroke-linecap="butt"/>
<text x="338.70" y="475.25" font-size="12.5" font-weight="bold" text-anchor="end" fill="#000" stroke="#000" stroke-width="0.25">6</text>
<line x1="343.30" y1="452.80" x2="350.70" y2="452.80" stroke="#000" stroke-width="2.2" stroke-linecap="butt"/>
<text x="338.70" y="457.40" font-size="12.5" font-weight="bold" text-anchor="end" fill="#000" stroke="#000" stroke-width="0.25">7</text>
<line x1="343.30" y1="434.95" x2="350.70" y2="434.95" stroke="#000" stroke-width="2.2" stroke-linecap="butt"/>
<text x="338.70" y="439.55" font-size="12.5" font-weight="bold" text-anchor="end" fill="#000" stroke="#000" stroke-width="0.25">8</text>
<line x1="343.30" y1="417.10" x2="350.70" y2="417.10" stroke="#000" stroke-width="2.2" stroke-linecap="butt"/>
<text x="338.70" y="421.70" font-size="12.5" font-weight="bold" text-anchor="end" fill="#000" stroke="#000" stroke-width="0.25">9</text>
<line x1="343.30" y1="399.25" x2="350.70" y2="399.25" stroke="#000" stroke-width="2.2" stroke-linecap="butt"/>
<text x="338.70" y="403.85" font-size="12.5" font-weight="bold" text-anchor="end" fill="#000" stroke="#000" stroke-width="0.25">10</text>
<line x1="343.30" y1="381.40" x2="350.70" y2="381.40" stroke="#000" stroke-width="2.2" stroke-linecap="butt"/>
<text x="338.70" y="386.00" font-size="12.5" font-weight="bold" text-anchor="end" fill="#000" stroke="#000" stroke-width="0.25">11</text>
<line x1="343.30" y1="559.90" x2="619.10" y2="559.90" stroke="#000" stroke-width="2.2" stroke-linecap="butt"/>
<line x1="350.70" y1="559.90" x2="350.70" y2="567.10" stroke="#000" stroke-width="2.2" stroke-linecap="butt"/>
<text x="350.70" y="583.90" font-size="12.5" font-weight="bold" text-anchor="middle" fill="#000" stroke="#000" stroke-width="0.25">0</text>
<line x1="359.61" y1="559.90" x2="359.61" y2="564.30" stroke="#000" stroke-width="2.0" stroke-linecap="butt"/>
<line x1="368.53" y1="559.90" x2="368.53" y2="564.30" stroke="#000" stroke-width="2.0" stroke-linecap="butt"/>
<line x1="377.44" y1="559.90" x2="377.44" y2="564.30" stroke="#000" stroke-width="2.0" stroke-linecap="butt"/>
<line x1="386.35" y1="559.90" x2="386.35" y2="564.30" stroke="#000" stroke-width="2.0" stroke-linecap="butt"/>
<line x1="395.27" y1="559.90" x2="395.27" y2="564.30" stroke="#000" stroke-width="2.0" stroke-linecap="butt"/>
<line x1="404.18" y1="559.90" x2="404.18" y2="564.30" stroke="#000" stroke-width="2.0" stroke-linecap="butt"/>
<line x1="413.09" y1="559.90" x2="413.09" y2="564.30" stroke="#000" stroke-width="2.0" stroke-linecap="butt"/>
<line x1="422.01" y1="559.90" x2="422.01" y2="564.30" stroke="#000" stroke-width="2.0" stroke-linecap="butt"/>
<line x1="430.92" y1="559.90" x2="430.92" y2="564.30" stroke="#000" stroke-width="2.0" stroke-linecap="butt"/>
<line x1="439.83" y1="559.90" x2="439.83" y2="567.10" stroke="#000" stroke-width="2.2" stroke-linecap="butt"/>
<text x="439.83" y="583.90" font-size="12.5" font-weight="bold" text-anchor="middle" fill="#000" stroke="#000" stroke-width="0.25">90</text>
<line x1="448.75" y1="559.90" x2="448.75" y2="564.30" stroke="#000" stroke-width="2.0" stroke-linecap="butt"/>
<line x1="457.66" y1="559.90" x2="457.66" y2="564.30" stroke="#000" stroke-width="2.0" stroke-linecap="butt"/>
<line x1="466.57" y1="559.90" x2="466.57" y2="564.30" stroke="#000" stroke-width="2.0" stroke-linecap="butt"/>
<line x1="475.49" y1="559.90" x2="475.49" y2="564.30" stroke="#000" stroke-width="2.0" stroke-linecap="butt"/>
<line x1="484.40" y1="559.90" x2="484.40" y2="564.30" stroke="#000" stroke-width="2.0" stroke-linecap="butt"/>
<line x1="493.31" y1="559.90" x2="493.31" y2="564.30" stroke="#000" stroke-width="2.0" stroke-linecap="butt"/>
<line x1="502.23" y1="559.90" x2="502.23" y2="564.30" stroke="#000" stroke-width="2.0" stroke-linecap="butt"/>
<line x1="511.14" y1="559.90" x2="511.14" y2="564.30" stroke="#000" stroke-width="2.0" stroke-linecap="butt"/>
<line x1="520.05" y1="559.90" x2="520.05" y2="564.30" stroke="#000" stroke-width="2.0" stroke-linecap="butt"/>
<line x1="528.97" y1="559.90" x2="528.97" y2="567.10" stroke="#000" stroke-width="2.2" stroke-linecap="butt"/>
<text x="528.97" y="583.90" font-size="12.5" font-weight="bold" text-anchor="middle" fill="#000" stroke="#000" stroke-width="0.25">180</text>
<line x1="537.88" y1="559.90" x2="537.88" y2="564.30" stroke="#000" stroke-width="2.0" stroke-linecap="butt"/>
<line x1="546.79" y1="559.90" x2="546.79" y2="564.30" stroke="#000" stroke-width="2.0" stroke-linecap="butt"/>
<line x1="555.71" y1="559.90" x2="555.71" y2="564.30" stroke="#000" stroke-width="2.0" stroke-linecap="butt"/>
<line x1="564.62" y1="559.90" x2="564.62" y2="564.30" stroke="#000" stroke-width="2.0" stroke-linecap="butt"/>
<line x1="573.53" y1="559.90" x2="573.53" y2="564.30" stroke="#000" stroke-width="2.0" stroke-linecap="butt"/>
<line x1="582.45" y1="559.90" x2="582.45" y2="564.30" stroke="#000" stroke-width="2.0" stroke-linecap="butt"/>
<line x1="591.36" y1="559.90" x2="591.36" y2="564.30" stroke="#000" stroke-width="2.0" stroke-linecap="butt"/>
<line x1="600.27" y1="559.90" x2="600.27" y2="564.30" stroke="#000" stroke-width="2.0" stroke-linecap="butt"/>
<line x1="609.19" y1="559.90" x2="609.19" y2="564.30" stroke="#000" stroke-width="2.0" stroke-linecap="butt"/>
<line x1="618.10" y1="559.90" x2="618.10" y2="567.10" stroke="#000" stroke-width="2.2" stroke-linecap="butt"/>
<text x="618.10" y="583.90" font-size="12.5" font-weight="bold" text-anchor="middle" fill="#000" stroke="#000" stroke-width="0.25">270</text>
<text x="484.40" y="603.50" font-size="12.7" font-weight="bold" text-anchor="middle" fill="#000" stroke="#000" stroke-width="0.25">Pseudotime</text>
<text x="296.40" y="471.30" font-size="12.5" font-weight="bold" text-anchor="middle" fill="#000" transform="rotate(-90 296.4 471.29999999999995)" stroke="#000" stroke-width="0.25">TNFSF10</text>
<text x="311.60" y="471.25" font-size="13.65" font-weight="normal" text-anchor="middle" fill="#000" transform="rotate(-90 311.6 471.25)" stroke="#000" stroke-width="0.3">normalized expression</text>
<circle cx="633.8" cy="393.5" r="2" fill="#00c000"/>
<text x="641.80" y="398.00" font-size="12.5" font-weight="normal" text-anchor="start" fill="#000">Normal</text>
<circle cx="633.8" cy="417.2" r="2" fill="#ff0000"/>
<text x="641.80" y="421.70" font-size="12.5" font-weight="normal" text-anchor="start" fill="#000">Primary</text>
<circle cx="633.8" cy="440.8" r="2" fill="#90bdf6"/>
<text x="641.80" y="445.30" font-size="12.5" font-weight="normal" text-anchor="start" fill="#000">ARPC</text>
<circle cx="633.8" cy="464.6" r="2" fill="#ffc38f"/>
<text x="641.80" y="469.10" font-size="12.5" font-weight="normal" text-anchor="start" fill="#000">NEPC</text>
<circle cx="633.8" cy="488.7" r="2" fill="#0000b4"/>
<text x="641.80" y="493.20" font-size="12.5" font-weight="normal" text-anchor="start" fill="#000">DNPC</text>
<path d="M433.2 792.3h0M402.7 787.8h0M392.2 801.7h0M449.6 809.1h0M394.9 792.2h0M391.7 795.9h0M382.5 792.8h0M405.5 786.6h0M432.8 793.5h0M407.3 782.1h0M430.9 792.1h0M395.0 791.2h0M418.9 784.9h0M384.9 788.6h0M403.3 792.4h0M394.0 791.2h0M393.5 798.1h0M424.9 796.7h0M387.9 791.9h0M406.3 785.1h0M397.5 795.2h0M438.1 784.7h0M388.7 777.7h0M396.5 775.0h0M420.8 791.3h0M393.2 783.9h0M422.6 786.5h0M454.5 786.8h0M397.4 785.1h0M408.5 787.3h0M369.6 789.2h0M428.8 789.9h0M398.2 793.6h0M413.4 789.4h0M387.1 788.9h0M417.6 781.4h0M405.9 788.5h0M458.4 788.3h0M447.8 780.5h0M410.7 799.0h0M384.6 794.8h0M392.7 787.8h0M408.8 791.2h0M428.8 799.7h0M438.8 783.3h0M437.3 792.0h0M426.7 799.6h0M403.2 776.3h0M410.8 801.8h0M390.6 792.4h0M409.8 796.9h0M398.2 790.6h0M409.5 786.9h0M371.9 800.0h0M378.2 794.4h0M416.7 792.5h0M401.5 799.4h0M388.3 783.6h0M451.8 791.1h0M369.1 796.4h0M446.0 797.1h0M433.2 794.2h0M363.7 793.7h0M436.7 795.3h0M421.4 781.3h0M388.1 812.1h0M418.9 809.0h0M445.8 793.8h0M375.3 806.9h0M393.3 792.6h0M381.3 798.2h0M436.2 786.8h0M381.1 790.3h0M379.0 784.2h0M378.3 787.1h0M432.4 781.3h0M386.6 788.7h0M451.7 784.1h0M371.8 791.2h0M403.3 796.2h0M381.5 802.6h0M385.3 802.1h0M385.4 789.2h0M410.0 810.8h0M388.0 791.2h0M396.1 797.6h0M435.3 785.5h0M412.9 789.9h0M366.4 799.3h0M391.2 792.2h0M413.4 810.1h0M394.4 789.8h0M378.1 790.4h0M379.0 806.9h0M397.0 785.0h0M414.1 792.5h0M404.2 790.1h0M389.3 803.4h0M383.2 788.5h0M393.7 787.5h0M437.4 791.6h0M376.9 800.8h0M376.1 788.6h0M377.6 784.9h0M409.7 788.2h0M370.4 787.9h0M393.9 796.5h0M393.7 790.7h0M401.1 788.4h0M401.7 790.2h0M432.7 768.3h0M393.6 788.6h0M383.9 797.1h0M427.4 784.5h0M388.3 800.7h0M382.3 790.2h0M369.4 789.4h0M449.6 795.8h0M417.3 793.8h0M414.7 798.8h0M377.9 792.5h0M432.1 796.7h0M374.9 781.8h0M419.6 785.8h0M431.8 792.9h0M403.6 802.4h0M385.9 776.9h0M453.4 782.2h0M372.8 790.8h0M391.6 790.3h0M413.7 789.6h0M414.9 794.8h0M385.9 778.0h0M391.4 790.2h0M399.9 802.4h0M454.0 797.3h0M458.3 811.3h0M378.8 788.5h0M434.3 784.8h0M399.6 777.1h0M390.2 775.8h0M402.0 797.2h0M374.1 790.8h0M422.1 782.9h0M420.0 784.6h0M390.0 795.9h0M371.2 788.9h0M423.6 787.0h0M454.1 781.9h0M381.5 793.1h0M455.5 794.4h0M409.7 795.2h0M389.0 795.0h0M425.5 797.4h0M425.6 793.9h0M396.9 787.4h0M410.9 787.4h0M387.9 782.2h0M411.9 782.3h0M386.4 787.7h0M397.4 800.4h0M427.9 786.5h0M428.2 781.7h0M417.3 801.8h0M441.0 800.3h0M426.5 799.0h0M412.7 799.7h0M417.6 793.6h0M381.5 800.0h0M372.9 791.6h0M389.8 801.6h0M425.0 792.4h0M456.2 796.7h0M387.9 799.9h0M454.4 784.8h0M430.8 791.2h0M384.0 788.8h0M408.5 794.1h0M391.0 786.8h0M423.9 786.4h0M397.0 792.8h0M399.4 805.4h0M410.6 784.8h0M393.2 786.6h0M427.9 789.9h0M413.4 789.4h0M374.0 793.3h0M410.4 789.8h0M402.1 799.4h0M444.7 791.9h0M448.9 789.5h0M374.8 798.3h0M425.7 799.3h0M414.0 776.2h0M406.1 786.5h0M379.9 795.6h0M439.3 795.4h0M415.8 812.9h0M414.8 803.0h0M450.3 794.1h0M380.5 783.9h0M398.8 807.6h0M371.6 799.1h0M392.3 777.3h0M461.0 789.9h0M398.6 788.2h0M431.2 781.6h0M435.3 792.4h0M408.6 792.8h0M431.8 785.5h0M387.7 786.0h0M376.6 801.3h0M387.0 780.9h0M378.5 806.1h0M378.6 798.5h0M373.3 773.4h0M376.1 797.5h0M379.8 788.6h0M409.2 799.4h0M393.6 794.4h0M457.9 798.5h0M414.7 794.6h0M445.6 786.2h0M422.7 777.1h0M439.8 784.2h0M446.9 779.2h0M399.1 795.3h0M389.1 781.1h0M377.0 789.8h0M450.9 781.5h0M389.4 795.5h0M454.9 794.5h0M422.2 780.2h0M430.1 786.4h0M371.8 793.7h0M441.8 797.0h0M377.2 794.5h0M429.5 787.5h0M371.7 789.7h0M448.1 796.4h0M374.5 796.5h0M383.7 789.8h0M403.0 800.3h0M384.8 785.8h0M379.9 793.6h0M397.6 792.8h0M374.5 810.9h0M411.3 804.6h0M423.1 800.2h0M406.0 796.4h0M410.4 800.7h0M390.0 789.8h0M404.1 790.8h0M414.5 794.0h0M445.2 808.5h0M407.5 780.6h0M455.2 795.4h0M399.7 787.2h0M413.1 797.3h0M422.5 791.9h0M379.2 788.9h0M432.0 790.0h0M431.8 784.0h0M380.4 795.1h0M416.8 775.6h0M400.6 806.8h0M385.3 797.4h0M387.8 785.5h0M382.1 795.5h0M444.4 795.6h0M431.0 806.4h0M423.1 782.2h0M385.3 807.7h0M422.7 787.8h0M391.3 791.2h0M406.6 784.9h0M369.7 785.5h0M442.0 797.7h0M396.4 798.5h0M419.5 794.6h0M380.5 806.5h0M386.4 787.0h0M424.9 795.3h0M420.2 790.7h0M413.2 801.2h0M399.2 792.0h0M415.2 797.1h0M441.0 792.7h0M431.1 801.0h0M427.7 783.8h0M402.7 797.3h0M402.9 812.4h0M440.0 786.9h0M391.9 795.1h0M408.2 799.3h0M387.8 774.1h0M402.6 792.6h0M389.3 803.4h0M437.4 797.2h0M440.7 789.1h0M397.4 794.1h0M427.8 782.1h0M428.7 783.5h0M437.1 798.7h0M423.1 791.9h0M388.3 788.3h0M415.3 795.6h0M391.2 796.5h0M404.5 785.2h0M374.4 791.7h0M369.2 804.2h0M442.0 796.7h0M403.5 795.5h0M405.6 793.1h0M415.0 798.1h0M371.2 786.3h0M416.3 800.1h0M421.9 801.1h0M374.7 793.3h0M430.3 810.6h0M406.6 800.5h0M407.0 787.2h0M394.3 802.9h0M374.4 800.6h0M387.0 785.1h0M386.4 789.9h0M427.9 791.7h0M414.3 790.2h0M447.3 798.0h0M385.7 791.1h0M427.4 793.8h0M418.2 771.7h0M403.5 787.8h0M421.4 794.9h0M384.6 793.9h0M423.1 791.7h0M391.4 803.4h0M408.3 798.7h0M417.3 779.6h0M388.4 803.8h0M451.4 797.5h0M380.6 786.4h0M439.8 779.7h0M452.3 801.0h0M429.8 780.1h0M402.8 794.9h0M427.7 778.5h0M414.9 787.9h0M455.9 795.6h0M419.8 786.1h0M380.9 789.7h0M409.0 798.2h0M376.8 779.2h0M407.6 794.7h0M380.4 785.5h0M405.1 795.8h0M428.2 806.9h0M370.6 802.4h0M396.7 793.0h0M375.2 789.8h0M394.7 778.7h0M398.2 791.4h0M368.4 796.8h0M394.6 801.9h0M418.0 792.3h0M403.7 789.6h0M380.8 810.1h0M400.1 781.7h0M369.3 787.6h0M382.6 776.6h0M401.5 799.2h0M383.7 793.2h0M409.2 791.9h0M380.7 803.6h0M426.1 798.9h0M432.2 800.0h0M431.6 787.8h0M424.9 788.5h0M412.9 781.0h0M435.7 795.3h0M380.5 804.1h0M373.1 791.8h0M395.7 789.4h0M452.8 788.0h0M403.9 782.1h0M409.9 796.8h0M390.8 786.7h0M409.8 800.1h0M425.3 790.8h0M410.4 786.4h0M372.6 795.7h0M397.1 790.5h0M399.5 803.0h0M380.4 798.7h0M372.0 794.0h0M420.3 801.9h0M368.2 800.5h0M392.6 773.8h0M413.5 790.0h0M427.6 798.8h0M391.4 800.8h0M376.4 784.8h0M443.1 815.0h0M417.8 795.2h0M425.2 787.4h0M418.0 797.2h0M420.1 788.4h0M376.1 802.4h0M381.3 794.6h0M438.5 792.4h0M393.3 793.2h0M413.8 791.6h0M420.8 792.5h0M407.2 783.8h0M374.9 797.1h0M411.1 797.6h0M404.1 795.1h0M393.2 795.8h0M402.8 805.0h0M410.9 808.4h0M372.1 804.7h0M398.7 790.7h0M387.0 799.1h0M406.2 796.2h0M385.0 772.5h0M401.7 784.0h0M403.7 794.6h0M383.8 799.1h0M389.7 783.2h0M410.8 799.3h0M414.0 782.9h0M443.3 788.2h0M414.6 781.6h0M410.2 798.8h0M454.9 787.3h0M453.9 808.0h0M407.4 794.3h0M404.9 784.3h0M446.9 787.7h0M397.3 807.4h0M430.9 787.4h0M385.7 790.7h0M385.0 794.8h0M392.8 799.1h0M406.3 795.2h0M397.9 797.5h0M387.5 786.8h0M378.0 791.7h0M375.9 787.8h0M440.4 787.4h0M428.0 803.5h0M427.6 791.9h0M415.1 775.5h0M410.4 802.0h0M403.6 790.7h0M419.2 799.4h0M401.6 800.0h0M436.8 791.3h0M389.4 786.8h0M403.4 786.9h0M426.4 789.2h0M410.9 785.3h0M424.5 806.3h0M423.2 786.3h0M398.3 789.8h0M401.2 794.4h0M374.6 795.5h0M398.8 799.7h0M447.2 784.1h0M375.9 800.6h0M443.1 805.1h0M435.4 793.1h0M426.5 797.8h0M383.9 795.0h0M433.1 780.7h0M453.9 795.2h0M395.2 792.4h0M382.1 777.7h0M383.7 805.0h0M391.2 790.9h0M398.5 778.2h0M391.0 759.7h0M433.9 761.4h0M430.1 759.3h0M439.9 775.6h0M402.7 754.0h0M430.7 769.2h0M388.8 761.8h0M399.7 773.1h0M401.9 778.8h0M395.9 778.2h0M389.4 764.3h0M438.4 755.3h0M406.2 761.4h0M424.3 778.4h0M390.2 779.3h0M423.2 753.1h0M423.2 768.3h0M437.4 755.6h0M394.0 759.2h0M440.5 759.9h0M433.8 757.0h0M386.1 769.6h0M403.2 771.4h0M401.5 778.3h0M443.9 753.1h0M422.1 777.3h0M385.4 756.2h0M409.0 777.7h0M427.8 763.3h0M379.5 714.6h0M380.0 720.7h0M381.5 720.7h0M384.7 741.5h0M379.9 748.5h0M382.5 748.5h0M400.9 748.5h0M406.2 747.9h0M418.7 742.4h0M421.0 747.9h0M423.1 752.9h0M372.9 757.3h0M380.0 755.0h0M387.4 752.9h0M390.2 757.3h0M385.8 761.6h0M411.7 756.8h0M427.0 758.8h0M457.0 775.9h0M460.9 790.1h0" stroke="#90bdf6" stroke-width="4.0" stroke-linecap="round" fill="none"/>
<path d="M413.9 670.4h0M406.6 686.8h0M418.0 706.5h0M437.7 728.8h0M443.4 740.9h0M420.9 742.0h0M448.2 765.0h0M435.1 766.0h0M427.4 770.0h0M438.8 771.0h0M432.9 773.7h0M430.7 776.5h0M449.3 773.2h0M446.0 771.5h0M455.2 771.5h0M443.9 781.4h0M417.6 781.4h0M401.2 774.8h0M406.6 773.7h0M426.3 788.6h0M443.9 787.5h0" stroke="#ffc38f" stroke-width="4.0" stroke-linecap="round" fill="none"/>
<path d="M442.8 732.7h0M442.1 758.8h0M451.7 762.7h0M424.2 774.1h0M436.6 779.8h0M448.2 784.2h0M445.0 786.8h0M424.6 789.0h0M460.5 799.7h0M431.2 785.7h0M454.8 772.6h0" stroke="#0000b4" stroke-width="4.0" stroke-linecap="round" fill="none"/>
<path d="M284.7 800.1h0M306.5 804.3h0M323.3 806.3h0M267.9 790.4h0M342.8 801.0h0M307.7 805.7h0M293.6 805.7h0M291.5 798.2h0M326.4 805.2h0M271.5 801.2h0M293.5 800.9h0M298.6 800.5h0M294.7 800.2h0M333.1 801.1h0M321.7 795.8h0M350.2 794.9h0M330.5 808.7h0M297.8 789.4h0M300.3 800.4h0M281.5 793.9h0M293.3 803.8h0M322.6 800.1h0M333.1 800.6h0M298.0 800.3h0M301.9 797.4h0M339.7 798.8h0M358.2 806.1h0M276.9 799.6h0M275.1 795.6h0M335.6 798.6h0M314.0 802.8h0M308.4 802.5h0M324.9 802.2h0M335.7 806.2h0M274.9 804.7h0M358.8 796.0h0M358.1 803.7h0M307.7 800.8h0M311.9 804.6h0M295.9 794.9h0M321.3 793.8h0M289.8 801.2h0M317.1 799.2h0M350.2 804.9h0M314.8 793.6h0M342.0 797.6h0M287.3 803.8h0M347.8 796.5h0M281.5 797.9h0M290.6 798.4h0M332.2 800.0h0M298.5 803.8h0M281.1 801.9h0M277.2 796.3h0M338.8 801.7h0M265.8 802.4h0M272.8 789.5h0M356.0 802.9h0M337.7 803.9h0M304.0 804.3h0M288.6 797.0h0M346.0 797.6h0M338.2 800.5h0M327.8 797.7h0M316.7 808.0h0M316.3 803.1h0M362.2 804.0h0M316.1 801.4h0M276.8 796.9h0M275.6 808.2h0M321.9 787.8h0M333.3 805.3h0M324.5 800.0h0M334.2 798.0h0M297.8 797.1h0M304.1 800.2h0M295.3 813.6h0M304.2 806.1h0M295.4 797.3h0M342.6 805.5h0M284.2 804.6h0M290.1 810.9h0M331.7 796.4h0M306.2 799.1h0M301.7 805.2h0M361.4 802.8h0M349.0 802.3h0M291.1 805.5h0M284.9 801.3h0M313.7 800.4h0M320.2 799.2h0M302.1 795.8h0M321.6 801.6h0M328.6 803.7h0M340.8 800.0h0M293.3 803.5h0M325.9 807.2h0M273.1 793.8h0M274.1 800.8h0M272.7 798.4h0M280.8 796.8h0M337.7 806.5h0M304.1 798.6h0M313.7 799.6h0M310.4 802.0h0M290.0 798.7h0M271.1 802.2h0M287.6 810.2h0M345.0 803.0h0M301.5 805.3h0M308.0 797.7h0M295.2 799.7h0M334.0 804.0h0M330.7 801.5h0M305.1 795.6h0M314.8 796.7h0M306.0 799.9h0M320.1 799.8h0M321.8 802.9h0M320.5 802.3h0M349.9 799.6h0M356.8 802.8h0M272.0 797.5h0M304.8 806.4h0M270.1 806.2h0M304.4 808.9h0M339.7 803.6h0M328.7 796.0h0M319.7 796.5h0M277.1 803.9h0M340.5 808.4h0M323.3 798.3h0M298.5 799.1h0M338.0 807.6h0M269.9 793.9h0M288.1 799.6h0M338.4 796.1h0M271.1 797.2h0M282.5 795.9h0M314.4 800.2h0M331.3 805.9h0M321.4 802.8h0M269.5 801.7h0M296.1 797.3h0M331.0 806.1h0M302.3 808.1h0M288.8 797.3h0M259.5 792.8h0M295.1 794.5h0M353.8 797.8h0M271.7 805.7h0M318.5 804.8h0M350.9 804.3h0M330.5 801.9h0M296.7 810.5h0M326.2 801.8h0M281.1 798.5h0M314.2 805.8h0M295.1 800.4h0M346.9 797.0h0M345.8 801.7h0M335.9 797.2h0M304.4 797.1h0M339.1 800.0h0M362.7 800.9h0M303.9 803.1h0M316.3 796.2h0M285.7 802.3h0M279.8 802.8h0M332.2 798.7h0M273.5 802.3h0M322.4 799.9h0M280.5 794.9h0M327.8 801.4h0M335.1 801.3h0M355.3 798.6h0M305.6 798.2h0M305.5 808.3h0M306.3 807.3h0M331.0 796.0h0M338.2 800.1h0M280.7 809.2h0M300.4 807.2h0M272.7 798.8h0M292.6 805.0h0M333.4 799.7h0M354.6 801.9h0M362.8 800.5h0M274.6 804.4h0M306.5 798.8h0M346.5 793.7h0M314.7 805.1h0M302.4 795.6h0M337.7 797.5h0M345.7 799.1h0M284.0 800.3h0M315.7 806.7h0M284.1 804.0h0M287.4 796.8h0M316.8 797.3h0M294.2 795.3h0M339.9 797.6h0M303.6 797.5h0M287.5 802.2h0M324.6 807.0h0M295.0 799.9h0M274.4 796.8h0M369.8 802.0h0M287.8 807.1h0M282.4 802.2h0M312.8 808.0h0M260.5 797.3h0M338.4 806.2h0M275.6 799.9h0M270.0 797.2h0M359.6 801.8h0M315.6 795.6h0M353.5 806.6h0M349.4 810.9h0M333.4 797.6h0M268.1 792.1h0M325.8 795.5h0M274.2 797.7h0M263.2 795.7h0M343.6 801.2h0M298.9 806.8h0M334.6 804.2h0M316.7 799.4h0M337.9 804.2h0M325.4 793.4h0M361.0 808.3h0M312.3 803.4h0M344.5 797.1h0M341.4 804.3h0M321.2 806.6h0M314.8 807.5h0M308.8 804.7h0M326.0 795.1h0M288.9 798.5h0M309.5 799.2h0M326.0 804.0h0M298.9 797.4h0M290.9 800.0h0M279.6 803.7h0M339.8 803.6h0M346.9 801.0h0M342.6 796.7h0M331.0 801.9h0M322.6 799.5h0M273.1 789.7h0M347.5 805.2h0M312.2 806.9h0M329.3 797.4h0M281.3 797.7h0M334.4 802.1h0M284.1 798.8h0M358.2 803.6h0M331.4 799.4h0M316.8 803.0h0M326.6 798.2h0M292.1 805.8h0M314.2 805.1h0M277.1 798.8h0M296.6 803.0h0M297.1 797.8h0M285.9 800.3h0M307.7 803.8h0M273.9 798.0h0M267.2 800.7h0M301.0 808.1h0M366.1 806.5h0M332.8 805.1h0M308.6 803.5h0M289.3 799.9h0M281.4 795.6h0M307.7 799.0h0M326.6 793.9h0M341.9 796.2h0M311.3 802.3h0M344.4 794.7h0M340.4 796.6h0M344.2 803.6h0M300.9 799.8h0M311.7 796.7h0M285.4 798.9h0M321.0 797.1h0M270.5 796.8h0M311.9 798.4h0M285.8 801.5h0M312.5 799.8h0M287.5 801.8h0M259.0 794.7h0M308.1 808.8h0M308.6 799.9h0M317.6 796.1h0M281.7 797.1h0M314.2 801.6h0M298.3 798.6h0M276.5 803.0h0M307.2 805.0h0M327.7 803.2h0M298.5 801.6h0M331.6 797.5h0M338.3 805.4h0M264.3 793.6h0M290.8 807.4h0M296.9 804.3h0M321.7 801.8h0M313.3 796.4h0M319.7 804.3h0M275.4 808.8h0M297.2 799.0h0M285.5 800.1h0M334.5 806.3h0M329.1 806.1h0M298.7 804.1h0M346.9 801.4h0M282.9 796.8h0M265.3 804.8h0M304.3 791.3h0M327.8 801.8h0M356.1 803.6h0M315.0 798.6h0M283.0 799.3h0M322.1 791.4h0M265.1 793.2h0M341.1 803.2h0M300.2 802.8h0M279.1 801.7h0M284.3 801.5h0M342.1 798.8h0M350.5 804.6h0M287.8 792.9h0M369.1 802.6h0M345.2 802.3h0M300.7 797.0h0M272.0 807.7h0M284.5 804.2h0M309.3 798.8h0M289.9 800.3h0M287.6 800.2h0M296.0 799.0h0M347.1 804.3h0M269.4 799.3h0M352.6 807.5h0M310.3 809.7h0M333.8 796.2h0M315.3 805.6h0M356.0 805.0h0M287.5 793.9h0M294.4 796.0h0M315.0 803.8h0M314.9 803.9h0M300.9 801.5h0M298.7 805.2h0M277.5 796.8h0M314.5 800.9h0M342.3 801.1h0M345.9 798.6h0M307.5 798.3h0M362.6 795.2h0M359.8 796.4h0M299.9 808.7h0M280.8 795.6h0M342.8 806.4h0M355.2 807.8h0M326.2 798.6h0M359.3 805.0h0M312.5 802.9h0M316.2 796.9h0M275.5 802.1h0M304.0 805.3h0M352.9 800.7h0M279.2 793.9h0M283.1 797.5h0M268.8 805.5h0M314.0 804.4h0M322.5 802.3h0M316.9 793.1h0M347.3 798.1h0M328.8 798.0h0M325.2 796.4h0M322.5 803.0h0M314.8 799.4h0M275.5 796.9h0M278.5 803.8h0M325.8 801.7h0M290.5 797.9h0M307.6 806.2h0M326.1 798.1h0M322.2 798.3h0M293.4 796.0h0M295.5 804.2h0M283.4 799.4h0M327.3 795.3h0M332.1 798.2h0M282.5 803.4h0M295.8 799.8h0M284.2 793.5h0M323.2 802.0h0M298.0 799.3h0M346.3 791.1h0M295.4 801.0h0M325.8 802.1h0M325.1 806.1h0M355.4 804.8h0M332.4 795.3h0M354.1 802.7h0M321.0 806.8h0M260.2 802.1h0M300.5 801.2h0M334.0 798.4h0M301.8 804.6h0M326.9 798.6h0M280.9 801.9h0M326.0 800.1h0M305.2 799.2h0M356.1 799.8h0M275.1 801.1h0M303.2 802.2h0M336.4 799.6h0M305.8 807.1h0M311.3 800.8h0M301.1 799.1h0M278.5 794.8h0M300.0 801.4h0M347.0 802.7h0M336.4 801.2h0M299.1 804.4h0M327.8 802.7h0M338.8 800.1h0M339.1 800.6h0M272.7 803.7h0M285.8 801.7h0M357.8 810.7h0M296.6 797.5h0M337.4 804.1h0M324.7 800.8h0M346.5 806.5h0M276.0 799.7h0M354.2 800.5h0M346.9 797.9h0M292.9 806.9h0M331.4 798.2h0M261.5 798.9h0M345.8 805.2h0M307.5 799.6h0M334.0 803.2h0M338.9 803.2h0M267.4 801.7h0M347.6 801.1h0M279.4 799.6h0M284.9 801.0h0M310.9 805.9h0M294.3 803.2h0M326.1 800.2h0M288.4 794.8h0M324.1 802.0h0M335.9 795.9h0M359.1 802.5h0M306.3 806.4h0M297.1 798.4h0M320.5 806.1h0M326.4 800.2h0M352.7 798.0h0M321.1 803.2h0M309.4 802.1h0M298.1 790.4h0M332.6 800.9h0M325.3 800.8h0M275.1 795.8h0M298.2 801.7h0M286.1 800.7h0M314.0 800.1h0M304.9 812.1h0M285.3 793.9h0M316.7 806.5h0M327.0 806.6h0M301.7 799.1h0M342.7 801.8h0M279.0 805.4h0M273.0 798.2h0M331.1 806.8h0M319.3 804.9h0M335.0 808.3h0M354.3 805.6h0M315.2 800.0h0M341.0 801.4h0M326.1 800.6h0M315.4 797.8h0M314.6 802.0h0M366.3 805.0h0M302.1 802.8h0M308.3 794.5h0M312.3 801.6h0M325.4 800.5h0M273.6 799.6h0M326.4 800.8h0M269.8 796.8h0M304.7 801.7h0M309.7 802.4h0M319.6 805.3h0M320.0 805.6h0M322.5 800.1h0M267.0 795.2h0M300.7 797.4h0M333.8 801.7h0M307.7 805.3h0M341.9 799.2h0M317.8 799.1h0M319.8 808.4h0M328.5 798.4h0M363.5 800.3h0M260.5 790.6h0M281.0 805.0h0M277.4 805.3h0M289.9 797.1h0M266.1 806.6h0M364.9 805.2h0M284.4 805.1h0M312.3 806.2h0M347.6 809.9h0M312.3 802.8h0M293.7 796.6h0M297.6 799.2h0M308.1 799.7h0M298.9 802.9h0M312.0 795.4h0M307.4 799.3h0M276.5 794.7h0M346.7 808.4h0M360.2 801.1h0M319.3 806.8h0M278.2 798.0h0M350.8 801.4h0M303.4 806.5h0M304.9 800.8h0M294.4 795.8h0M353.5 800.2h0M329.8 799.3h0M298.4 805.0h0M303.9 804.5h0M308.2 806.5h0M304.8 801.0h0M328.1 796.7h0M356.6 800.6h0M270.6 798.8h0M344.0 806.6h0M344.1 800.0h0M291.1 801.7h0M362.3 809.7h0M346.9 809.1h0M332.4 803.3h0M279.7 803.7h0M310.1 794.4h0M335.5 801.7h0M318.6 806.3h0M273.2 801.2h0M336.1 795.0h0M307.2 805.7h0M291.3 797.2h0M302.2 799.5h0M279.3 793.0h0M303.3 799.2h0M264.7 800.1h0M369.4 800.5h0M283.0 799.7h0M301.5 797.1h0M298.4 801.4h0M311.1 793.0h0M301.5 801.8h0M348.2 800.2h0M288.1 803.3h0M368.6 801.9h0M305.8 801.4h0M363.4 801.7h0M301.2 797.4h0M276.4 801.7h0M342.6 805.3h0M285.2 795.2h0M334.2 803.0h0M347.4 804.7h0M291.0 795.4h0M299.8 797.8h0M319.4 813.2h0M346.2 803.5h0M344.7 798.5h0M313.2 798.0h0M319.6 803.9h0M339.7 795.1h0M284.9 803.7h0M353.9 803.1h0M345.6 801.3h0M292.5 800.7h0M324.6 798.2h0M333.2 797.4h0M326.1 801.9h0M275.2 792.9h0M273.7 802.1h0M291.5 801.5h0M279.4 791.8h0M313.1 801.1h0M333.7 797.2h0M320.4 803.5h0M350.4 803.1h0M313.6 802.0h0M310.3 800.8h0M282.0 801.3h0M357.3 802.2h0M328.1 798.8h0M362.8 797.7h0M354.3 801.7h0M277.0 796.4h0M322.5 797.7h0M313.3 806.2h0M335.2 808.4h0M270.9 791.4h0M327.0 796.0h0M323.1 801.4h0M304.3 799.9h0M395.3 728.8h0M351.2 779.6h0M350.8 787.9h0M372.7 800.0h0M379.9 802.6h0" stroke="#ff0000" stroke-width="4.0" stroke-linecap="round" fill="none"/>
<path d="M230.4 790.8h0M240.8 790.9h0M273.6 798.6h0M260.2 793.4h0M231.1 779.5h0M252.0 792.3h0M254.5 791.5h0M235.8 781.8h0M269.2 791.3h0M232.6 774.5h0M249.6 800.1h0M256.6 787.2h0M251.8 792.6h0M260.4 791.3h0M269.4 790.5h0M288.2 795.6h0M243.5 783.7h0M264.0 792.1h0M266.8 786.5h0M244.0 790.5h0M220.9 782.8h0M291.1 797.1h0M244.3 791.9h0M245.2 778.4h0M280.8 793.3h0M260.3 782.2h0M254.1 790.8h0M271.7 796.3h0M225.6 782.2h0M267.5 790.4h0M248.7 792.7h0M230.8 782.7h0M264.7 793.0h0M285.0 792.5h0M238.9 791.5h0M262.9 787.9h0M244.3 792.4h0M269.7 798.3h0M268.4 796.9h0M239.6 794.6h0M275.7 795.2h0M264.5 788.4h0M266.0 792.6h0M274.9 793.0h0M251.7 782.5h0M270.8 793.3h0M279.6 796.2h0M231.7 787.5h0M277.2 802.7h0M249.8 786.3h0M254.5 798.9h0M234.9 782.4h0M267.0 793.6h0M244.0 783.4h0M279.0 797.0h0M243.0 793.1h0M259.0 790.0h0M250.1 792.8h0M261.9 793.1h0M238.3 787.3h0M237.2 788.1h0M270.0 795.0h0M270.4 797.9h0M259.3 792.5h0M283.8 806.3h0M238.8 788.6h0M277.3 801.1h0M236.5 780.2h0M289.5 795.2h0M262.5 801.1h0M261.6 791.6h0M290.5 800.2h0M272.6 799.3h0M272.8 792.7h0M227.8 787.9h0M248.4 798.4h0M230.4 787.1h0M238.1 788.4h0M239.3 787.3h0M277.9 801.4h0M233.5 782.1h0M244.3 785.4h0M255.3 796.2h0M277.2 798.9h0M289.6 800.0h0M267.6 796.1h0M239.3 778.1h0M258.1 790.4h0M267.4 798.0h0M227.6 790.3h0M265.8 793.5h0M248.3 778.5h0M260.6 792.8h0M265.2 792.5h0M265.2 790.8h0M256.9 791.3h0M258.6 781.2h0M238.4 790.7h0M255.4 787.5h0M233.4 785.1h0M254.6 787.9h0M257.6 796.6h0M271.8 787.1h0M249.8 790.6h0M224.3 782.7h0M257.2 795.4h0M238.8 791.9h0M269.7 791.7h0M249.5 785.2h0M249.0 786.2h0M282.5 793.2h0M249.7 786.5h0M247.2 789.5h0M247.2 785.4h0M254.6 788.0h0M231.0 786.1h0M258.2 788.1h0M283.8 793.3h0M259.1 790.5h0M269.8 795.7h0M286.9 796.5h0M276.6 788.3h0M269.8 795.1h0M274.4 795.8h0M274.9 796.1h0M241.8 782.2h0M254.7 799.3h0M246.9 787.7h0M242.2 782.6h0M259.6 795.4h0M245.5 781.8h0M262.2 790.0h0M260.2 794.3h0M231.9 784.3h0M252.5 797.7h0M249.5 792.7h0M267.5 785.7h0M230.6 791.6h0M236.5 775.8h0M256.3 791.4h0M250.4 785.3h0M265.0 792.8h0M246.3 800.6h0M238.3 790.9h0M285.0 797.8h0M241.2 794.6h0M235.0 795.1h0M243.3 787.1h0M246.7 792.7h0M240.0 797.5h0M257.6 794.4h0M285.6 795.5h0M233.5 789.2h0M251.0 785.7h0M265.1 786.4h0M280.2 797.0h0M297.9 804.3h0M234.7 794.8h0M257.7 791.4h0M279.8 793.5h0M295.7 752.5h0M362.8 769.3h0M437.3 793.8h0M439.5 795.1h0M202.2 768.0h0M209.2 726.3h0M209.2 752.5h0M214.7 753.6h0M212.5 764.6h0M216.9 763.5h0M228.9 756.5h0M224.6 762.8h0M220.2 767.2h0M228.9 770.1h0M232.2 767.9h0M213.6 774.4h0M236.6 773.4h0M242.1 772.3h0M214.7 794.2h0M219.1 792.0h0M216.9 783.2h0M222.4 782.1h0M219.1 777.7h0M225.0 788.0h0M229.0 785.0h0M233.0 790.0h0M227.0 779.0h0M238.0 783.0h0" stroke="#00c000" stroke-width="4.0" stroke-linecap="round" fill="none"/>
<line x1="202.20" y1="646.90" x2="202.20" y2="835.30" stroke="#000" stroke-width="2.2" stroke-linecap="butt"/>
<line x1="194.80" y1="828.10" x2="202.20" y2="828.10" stroke="#000" stroke-width="2.2" stroke-linecap="butt"/>
<text x="190.20" y="832.70" font-size="12.5" font-weight="bold" text-anchor="end" fill="#000" stroke="#000" stroke-width="0.25">0</text>
<line x1="194.80" y1="767.70" x2="202.20" y2="767.70" stroke="#000" stroke-width="2.2" stroke-linecap="butt"/>
<text x="190.20" y="772.30" font-size="12.5" font-weight="bold" text-anchor="end" fill="#000" stroke="#000" stroke-width="0.25">2</text>
<line x1="194.80" y1="707.30" x2="202.20" y2="707.30" stroke="#000" stroke-width="2.2" stroke-linecap="butt"/>
<text x="190.20" y="711.90" font-size="12.5" font-weight="bold" text-anchor="end" fill="#000" stroke="#000" stroke-width="0.25">4</text>
<line x1="194.80" y1="646.90" x2="202.20" y2="646.90" stroke="#000" stroke-width="2.2" stroke-linecap="butt"/>
<text x="190.20" y="651.50" font-size="12.5" font-weight="bold" text-anchor="end" fill="#000" stroke="#000" stroke-width="0.25">6</text>
<line x1="194.80" y1="828.10" x2="475.30" y2="828.10" stroke="#000" stroke-width="2.2" stroke-linecap="butt"/>
<line x1="202.20" y1="828.10" x2="202.20" y2="835.30" stroke="#000" stroke-width="2.2" stroke-linecap="butt"/>
<text x="202.20" y="852.10" font-size="12.5" font-weight="bold" text-anchor="middle" fill="#000" stroke="#000" stroke-width="0.25">0</text>
<line x1="211.27" y1="828.10" x2="211.27" y2="832.50" stroke="#000" stroke-width="2.0" stroke-linecap="butt"/>
<line x1="220.34" y1="828.10" x2="220.34" y2="832.50" stroke="#000" stroke-width="2.0" stroke-linecap="butt"/>
<line x1="229.41" y1="828.10" x2="229.41" y2="832.50" stroke="#000" stroke-width="2.0" stroke-linecap="butt"/>
<line x1="238.48" y1="828.10" x2="238.48" y2="832.50" stroke="#000" stroke-width="2.0" stroke-linecap="butt"/>
<line x1="247.55" y1="828.10" x2="247.55" y2="832.50" stroke="#000" stroke-width="2.0" stroke-linecap="butt"/>
<line x1="256.62" y1="828.10" x2="256.62" y2="832.50" stroke="#000" stroke-width="2.0" stroke-linecap="butt"/>
<line x1="265.69" y1="828.10" x2="265.69" y2="832.50" stroke="#000" stroke-width="2.0" stroke-linecap="butt"/>
<line x1="274.76" y1="828.10" x2="274.76" y2="832.50" stroke="#000" stroke-width="2.0" stroke-linecap="butt"/>
<line x1="283.83" y1="828.10" x2="283.83" y2="832.50" stroke="#000" stroke-width="2.0" stroke-linecap="butt"/>
<line x1="292.90" y1="828.10" x2="292.90" y2="835.30" stroke="#000" stroke-width="2.2" stroke-linecap="butt"/>
<text x="292.90" y="852.10" font-size="12.5" font-weight="bold" text-anchor="middle" fill="#000" stroke="#000" stroke-width="0.25">90</text>
<line x1="301.97" y1="828.10" x2="301.97" y2="832.50" stroke="#000" stroke-width="2.0" stroke-linecap="butt"/>
<line x1="311.04" y1="828.10" x2="311.04" y2="832.50" stroke="#000" stroke-width="2.0" stroke-linecap="butt"/>
<line x1="320.11" y1="828.10" x2="320.11" y2="832.50" stroke="#000" stroke-width="2.0" stroke-linecap="butt"/>
<line x1="329.18" y1="828.10" x2="329.18" y2="832.50" stroke="#000" stroke-width="2.0" stroke-linecap="butt"/>
<line x1="338.25" y1="828.10" x2="338.25" y2="832.50" stroke="#000" stroke-width="2.0" stroke-linecap="butt"/>
<line x1="347.32" y1="828.10" x2="347.32" y2="832.50" stroke="#000" stroke-width="2.0" stroke-linecap="butt"/>
<line x1="356.39" y1="828.10" x2="356.39" y2="832.50" stroke="#000" stroke-width="2.0" stroke-linecap="butt"/>
<line x1="365.46" y1="828.10" x2="365.46" y2="832.50" stroke="#000" stroke-width="2.0" stroke-linecap="butt"/>
<line x1="374.53" y1="828.10" x2="374.53" y2="832.50" stroke="#000" stroke-width="2.0" stroke-linecap="butt"/>
<line x1="383.60" y1="828.10" x2="383.60" y2="835.30" stroke="#000" stroke-width="2.2" stroke-linecap="butt"/>
<text x="383.60" y="852.10" font-size="12.5" font-weight="bold" text-anchor="middle" fill="#000" stroke="#000" stroke-width="0.25">180</text>
<line x1="392.67" y1="828.10" x2="392.67" y2="832.50" stroke="#000" stroke-width="2.0" stroke-linecap="butt"/>
<line x1="401.74" y1="828.10" x2="401.74" y2="832.50" stroke="#000" stroke-width="2.0" stroke-linecap="butt"/>
<line x1="410.81" y1="828.10" x2="410.81" y2="832.50" stroke="#000" stroke-width="2.0" stroke-linecap="butt"/>
<line x1="419.88" y1="828.10" x2="419.88" y2="832.50" stroke="#000" stroke-width="2.0" stroke-linecap="butt"/>
<line x1="428.95" y1="828.10" x2="428.95" y2="832.50" stroke="#000" stroke-width="2.0" stroke-linecap="butt"/>
<line x1="438.02" y1="828.10" x2="438.02" y2="832.50" stroke="#000" stroke-width="2.0" stroke-linecap="butt"/>
<line x1="447.09" y1="828.10" x2="447.09" y2="832.50" stroke="#000" stroke-width="2.0" stroke-linecap="butt"/>
<line x1="456.16" y1="828.10" x2="456.16" y2="832.50" stroke="#000" stroke-width="2.0" stroke-linecap="butt"/>
<line x1="465.23" y1="828.10" x2="465.23" y2="832.50" stroke="#000" stroke-width="2.0" stroke-linecap="butt"/>
<line x1="474.30" y1="828.10" x2="474.30" y2="835.30" stroke="#000" stroke-width="2.2" stroke-linecap="butt"/>
<text x="474.30" y="852.10" font-size="12.5" font-weight="bold" text-anchor="middle" fill="#000" stroke="#000" stroke-width="0.25">270</text>
<text x="338.25" y="871.70" font-size="12.7" font-weight="bold" text-anchor="middle" fill="#000" stroke="#000" stroke-width="0.25">Pseudotime</text>
<text x="153.80" y="738.15" font-size="12.5" font-weight="bold" text-anchor="middle" fill="#000" transform="rotate(-90 153.8 738.15)" stroke="#000" stroke-width="0.25">CFLAR:TNFSF10</text>
<text x="169.30" y="738.10" font-size="13.8" font-weight="normal" text-anchor="middle" fill="#000" transform="rotate(-90 169.3 738.1)" stroke="#000" stroke-width="0.3">expression ratio</text>
<circle cx="490.1" cy="659.3" r="2" fill="#00c000"/>
<text x="498.10" y="663.80" font-size="12.5" font-weight="normal" text-anchor="start" fill="#000">Normal</text>
<circle cx="490.1" cy="683.3" r="2" fill="#ff0000"/>
<text x="498.10" y="687.80" font-size="12.5" font-weight="normal" text-anchor="start" fill="#000">Primary</text>
<circle cx="490.1" cy="707.7" r="2" fill="#90bdf6"/>
<text x="498.10" y="712.20" font-size="12.5" font-weight="normal" text-anchor="start" fill="#000">ARPC</text>
<circle cx="490.1" cy="731.8" r="2" fill="#ffc38f"/>
<text x="498.10" y="736.30" font-size="12.5" font-weight="normal" text-anchor="start" fill="#000">NEPC</text>
<circle cx="490.1" cy="755.6" r="2" fill="#0000b4"/>
<text x="498.10" y="760.10" font-size="12.5" font-weight="normal" text-anchor="start" fill="#000">DNPC</text>
<path d="M211.10,459.10L211.10,459.35L211.10,459.60L211.10,459.85L211.11,460.10L211.11,460.35L211.11,460.60L211.12,460.85L211.13,461.10L211.13,461.35L211.14,461.60L211.15,461.85L211.16,462.10L211.17,462.35L211.18,462.60L211.19,462.85L211.20,463.10L211.22,463.35L211.23,463.60L211.25,463.85L211.26,464.10L211.28,464.35L211.30,464.60L211.31,464.85L211.33,465.10L211.35,465.35L211.37,465.60L211.39,465.85L211.41,466.10L211.44,466.35L211.46,466.60L211.48,466.85L211.51,467.10L211.53,467.35L211.56,467.60L211.58,467.85L211.61,468.10L211.66,468.35L211.73,468.60L211.81,468.85L211.91,469.10L212.03,469.35L212.15,469.60L212.27,469.85L212.40,470.10L212.53,470.35L212.66,470.60L212.78,470.85L212.90,471.10L213.00,471.35L213.09,471.60L213.17,471.85L213.22,472.10L213.27,472.35L213.32,472.60L213.38,472.85L213.42,473.10L213.47,473.35L213.52,473.60L213.56,473.85L213.59,474.10L213.63,474.35L213.65,474.60L213.68,474.85L213.69,475.10L213.70,475.35L213.70,475.60L213.69,475.85L213.67,476.10L213.65,476.35L213.61,476.60L213.58,476.85L213.53,477.10L213.48,477.35L213.43,477.60L213.38,477.85L213.33,478.10L213.28,478.35L213.22,478.60L213.17,478.85L213.13,479.10L213.08,479.35L213.05,479.60L213.02,479.85L212.99,480.10L212.97,480.35L212.94,480.60L212.92,480.85L212.89,481.10L212.87,481.35L212.85,481.60L212.83,481.85L212.81,482.10L212.79,482.35L212.77,482.60L212.75,482.85L212.74,483.10L212.73,483.35L212.71,483.60L212.71,483.85L212.70,484.10L212.70,484.35L212.71,484.60L212.73,484.85L212.76,485.10L212.81,485.35L212.88,485.60L212.95,485.85L213.03,486.10L213.13,486.35L213.23,486.60L213.33,486.85L213.45,487.10L213.56,487.35L213.68,487.60L213.80,487.85L213.92,488.10L214.04,488.35L214.15,488.60L214.27,488.85L214.37,489.10L214.47,489.35L214.57,489.60L214.65,489.85L214.73,490.10L214.80,490.35L214.87,490.60L214.94,490.85L215.01,491.10L215.08,491.35L215.15,491.60L215.21,491.85L215.28,492.10L215.34,492.35L215.41,492.60L215.47,492.85L215.53,493.10L215.59,493.35L215.65,493.60L215.71,493.85L215.77,494.10L215.83,494.35L215.89,494.60L215.95,494.85L216.01,495.10L216.07,495.35L216.12,495.60L216.18,495.85L216.24,496.10L216.30,496.35L216.36,496.60L216.42,496.85L216.48,497.10L216.54,497.35L216.60,497.60L216.66,497.85L216.73,498.10L216.79,498.35L216.85,498.60L216.92,498.85L216.99,499.10L217.06,499.35L217.13,499.60L217.20,499.85L217.27,500.10L217.34,500.35L217.41,500.60L217.48,500.85L217.55,501.10L217.62,501.35L217.69,501.60L217.76,501.85L217.83,502.10L217.90,502.35L217.96,502.60L218.03,502.85L218.09,503.10L218.16,503.35L218.22,503.60L218.28,503.85L218.34,504.10L218.39,504.35L218.45,504.60L218.50,504.85L218.55,505.10L218.59,505.35L218.64,505.60L218.68,505.85L218.71,506.10L218.75,506.35L218.79,506.60L218.83,506.85L218.87,507.10L218.90,507.35L218.94,507.60L218.98,507.85L219.02,508.10L219.05,508.35L219.09,508.60L219.12,508.85L219.16,509.10L219.19,509.35L219.22,509.60L219.25,509.85L219.28,510.10L219.31,510.35L219.34,510.60L219.36,510.85L219.38,511.10L219.41,511.35L219.43,511.60L219.44,511.85L219.46,512.10L219.47,512.35L219.48,512.60L219.49,512.85L219.50,513.10L219.50,513.35L219.50,513.60L219.49,513.85L219.47,514.10L219.44,514.35L219.41,514.60L219.36,514.85L219.31,515.10L219.25,515.35L219.19,515.60L219.12,515.85L219.05,516.10L218.97,516.35L218.88,516.60L218.80,516.85L218.71,517.10L218.62,517.35L218.53,517.60L218.44,517.85L218.34,518.10L218.25,518.35L218.16,518.60L218.07,518.85L217.99,519.10L217.90,519.35L217.82,519.60L217.74,519.85L217.67,520.10L217.60,520.35L217.53,520.60L217.45,520.85L217.38,521.10L217.31,521.35L217.24,521.60L217.16,521.85L217.09,522.10L217.01,522.35L216.94,522.60L216.87,522.85L216.79,523.10L216.72,523.35L216.64,523.60L216.57,523.85L216.49,524.10L216.42,524.35L216.34,524.60L216.27,524.85L216.19,525.10L216.12,525.35L216.04,525.60L215.97,525.85L215.89,526.10L215.81,526.35L215.74,526.60L215.66,526.85L215.59,527.10L215.51,527.35L215.43,527.60L215.36,527.85L215.28,528.10L215.20,528.35L215.13,528.60L215.05,528.85L214.97,529.10L214.90,529.35L214.82,529.60L214.75,529.85L214.67,530.10L214.59,530.35L214.51,530.60L214.43,530.85L214.34,531.10L214.25,531.35L214.16,531.60L214.07,531.85L213.98,532.10L213.88,532.35L213.79,532.60L213.69,532.85L213.60,533.10L213.50,533.35L213.40,533.60L213.31,533.85L213.21,534.10L213.11,534.35L213.02,534.60L212.92,534.85L212.83,535.10L212.74,535.35L212.65,535.60L212.56,535.85L212.47,536.10L212.39,536.35L212.31,536.60L212.23,536.85L212.15,537.10L212.08,537.35L212.01,537.60L211.94,537.85L211.87,538.10L211.81,538.35L211.76,538.60L211.71,538.85L211.66,539.10L211.62,539.35L211.58,539.60L211.55,539.85L211.52,540.10L211.50,540.35L211.48,540.60L211.46,540.85L211.44,541.10L211.42,541.35L211.40,541.60L211.38,541.85L211.36,542.10L211.34,542.35L211.33,542.60L211.31,542.85L211.29,543.10L211.28,543.35L211.26,543.60L211.25,543.85L211.23,544.10L211.22,544.35L211.21,544.60L211.19,544.85L211.18,545.10L211.17,545.35L211.16,545.60L211.15,545.85L211.14,546.10L211.13,546.35L211.13,546.60L211.12,546.85L211.11,547.10L211.11,547.35L211.11,547.60L211.10,547.85L211.10,548.10L211.10,548.35L211.10,548.50L207.30,548.50L207.30,548.35L207.30,548.10L207.30,547.85L207.29,547.60L207.29,547.35L207.29,547.10L207.28,546.85L207.27,546.60L207.27,546.35L207.26,546.10L207.25,545.85L207.24,545.60L207.23,545.35L207.22,545.10L207.21,544.85L207.19,544.60L207.18,544.35L207.17,544.10L207.15,543.85L207.14,543.60L207.12,543.35L207.11,543.10L207.09,542.85L207.07,542.60L207.06,542.35L207.04,542.10L207.02,541.85L207.00,541.60L206.98,541.35L206.96,541.10L206.94,540.85L206.92,540.60L206.90,540.35L206.88,540.10L206.85,539.85L206.82,539.60L206.78,539.35L206.74,539.10L206.69,538.85L206.64,538.60L206.59,538.35L206.53,538.10L206.46,537.85L206.39,537.60L206.32,537.35L206.25,537.10L206.17,536.85L206.09,536.60L206.01,536.35L205.93,536.10L205.84,535.85L205.75,535.60L205.66,535.35L205.57,535.10L205.48,534.85L205.38,534.60L205.29,534.35L205.19,534.10L205.09,533.85L205.00,533.60L204.90,533.35L204.80,533.10L204.71,532.85L204.61,532.60L204.52,532.35L204.42,532.10L204.33,531.85L204.24,531.60L204.15,531.35L204.06,531.10L203.97,530.85L203.89,530.60L203.81,530.35L203.73,530.10L203.65,529.85L203.58,529.60L203.50,529.35L203.43,529.10L203.35,528.85L203.27,528.60L203.20,528.35L203.12,528.10L203.04,527.85L202.97,527.60L202.89,527.35L202.81,527.10L202.74,526.85L202.66,526.60L202.59,526.35L202.51,526.10L202.43,525.85L202.36,525.60L202.28,525.35L202.21,525.10L202.13,524.85L202.06,524.60L201.98,524.35L201.91,524.10L201.83,523.85L201.76,523.60L201.68,523.35L201.61,523.10L201.53,522.85L201.46,522.60L201.39,522.35L201.31,522.10L201.24,521.85L201.16,521.60L201.09,521.35L201.02,521.10L200.95,520.85L200.87,520.60L200.80,520.35L200.73,520.10L200.66,519.85L200.58,519.60L200.50,519.35L200.41,519.10L200.33,518.85L200.24,518.60L200.15,518.35L200.06,518.10L199.96,517.85L199.87,517.60L199.78,517.35L199.69,517.10L199.60,516.85L199.52,516.60L199.43,516.35L199.35,516.10L199.28,515.85L199.21,515.60L199.15,515.35L199.09,515.10L199.04,514.85L198.99,514.60L198.96,514.35L198.93,514.10L198.91,513.85L198.90,513.60L198.90,513.35L198.90,513.10L198.91,512.85L198.92,512.60L198.93,512.35L198.94,512.10L198.96,511.85L198.97,511.60L198.99,511.35L199.02,511.10L199.04,510.85L199.06,510.60L199.09,510.35L199.12,510.10L199.15,509.85L199.18,509.60L199.21,509.35L199.24,509.10L199.28,508.85L199.31,508.60L199.35,508.35L199.38,508.10L199.42,507.85L199.46,507.60L199.50,507.35L199.53,507.10L199.57,506.85L199.61,506.60L199.65,506.35L199.69,506.10L199.72,505.85L199.76,505.60L199.81,505.35L199.85,505.10L199.90,504.85L199.95,504.60L200.01,504.35L200.06,504.10L200.12,503.85L200.18,503.60L200.24,503.35L200.31,503.10L200.37,502.85L200.44,502.60L200.50,502.35L200.57,502.10L200.64,501.85L200.71,501.60L200.78,501.35L200.85,501.10L200.92,500.85L200.99,500.60L201.06,500.35L201.13,500.10L201.20,499.85L201.27,499.60L201.34,499.35L201.41,499.10L201.48,498.85L201.55,498.60L201.61,498.35L201.67,498.10L201.74,497.85L201.80,497.60L201.86,497.35L201.92,497.10L201.98,496.85L202.04,496.60L202.10,496.35L202.16,496.10L202.22,495.85L202.28,495.60L202.33,495.35L202.39,495.10L202.45,494.85L202.51,494.60L202.57,494.35L202.63,494.10L202.69,493.85L202.75,493.60L202.81,493.35L202.87,493.10L202.93,492.85L202.99,492.60L203.06,492.35L203.12,492.10L203.19,491.85L203.25,491.60L203.32,491.35L203.39,491.10L203.46,490.85L203.53,490.60L203.60,490.35L203.67,490.10L203.75,489.85L203.83,489.60L203.93,489.35L204.03,489.10L204.13,488.85L204.25,488.60L204.36,488.35L204.48,488.10L204.60,487.85L204.72,487.60L204.84,487.35L204.95,487.10L205.07,486.85L205.17,486.60L205.27,486.35L205.37,486.10L205.45,485.85L205.52,485.60L205.59,485.35L205.64,485.10L205.67,484.85L205.69,484.60L205.70,484.35L205.70,484.10L205.69,483.85L205.69,483.60L205.67,483.35L205.66,483.10L205.65,482.85L205.63,482.60L205.61,482.35L205.59,482.10L205.57,481.85L205.55,481.60L205.53,481.35L205.51,481.10L205.48,480.85L205.46,480.60L205.43,480.35L205.41,480.10L205.38,479.85L205.35,479.60L205.32,479.35L205.27,479.10L205.23,478.85L205.18,478.60L205.12,478.35L205.07,478.10L205.02,477.85L204.97,477.60L204.92,477.35L204.87,477.10L204.82,476.85L204.79,476.60L204.75,476.35L204.73,476.10L204.71,475.85L204.70,475.60L204.70,475.35L204.71,475.10L204.72,474.85L204.75,474.60L204.77,474.35L204.81,474.10L204.84,473.85L204.88,473.60L204.93,473.35L204.98,473.10L205.02,472.85L205.08,472.60L205.13,472.35L205.18,472.10L205.23,471.85L205.31,471.60L205.40,471.35L205.50,471.10L205.62,470.85L205.74,470.60L205.87,470.35L206.00,470.10L206.13,469.85L206.25,469.60L206.37,469.35L206.49,469.10L206.59,468.85L206.67,468.60L206.74,468.35L206.79,468.10L206.82,467.85L206.84,467.60L206.87,467.35L206.89,467.10L206.92,466.85L206.94,466.60L206.96,466.35L206.99,466.10L207.01,465.85L207.03,465.60L207.05,465.35L207.07,465.10L207.09,464.85L207.10,464.60L207.12,464.35L207.14,464.10L207.15,463.85L207.17,463.60L207.18,463.35L207.20,463.10L207.21,462.85L207.22,462.60L207.23,462.35L207.24,462.10L207.25,461.85L207.26,461.60L207.27,461.35L207.27,461.10L207.28,460.85L207.29,460.60L207.29,460.35L207.29,460.10L207.30,459.85L207.30,459.60L207.30,459.35L207.30,459.10Z" fill="#000"/>
<path d="M209.29,472.85L209.34,473.10L209.40,473.35L209.45,473.60L209.50,473.85L209.54,474.10L209.59,474.35L209.63,474.60L209.66,474.85L209.68,475.10L209.70,475.35L209.70,475.60L209.68,475.85L209.65,476.10L209.60,476.35L209.56,476.60L209.51,476.85L209.45,477.10L209.40,477.35L209.35,477.60L209.29,477.85L209.11,477.85L209.05,477.60L209.00,477.35L208.95,477.10L208.89,476.85L208.84,476.60L208.80,476.35L208.75,476.10L208.72,475.85L208.70,475.60L208.70,475.35L208.72,475.10L208.74,474.85L208.77,474.60L208.81,474.35L208.86,474.10L208.90,473.85L208.95,473.60L209.00,473.35L209.06,473.10L209.11,472.85Z" fill="#818181"/>
<path d="M209.33,487.60L209.42,487.85L209.52,488.10L209.63,488.35L209.74,488.60L209.85,488.85L209.96,489.10L210.08,489.35L210.20,489.60L210.32,489.85L210.44,490.10L210.56,490.35L210.67,490.60L210.77,490.85L210.85,491.10L210.93,491.35L211.00,491.60L211.07,491.85L211.14,492.10L211.21,492.35L211.28,492.60L211.34,492.85L211.41,493.10L211.47,493.35L211.53,493.60L211.60,493.85L211.66,494.10L211.72,494.35L211.78,494.60L211.84,494.85L211.90,495.10L211.96,495.35L212.02,495.60L212.08,495.85L212.13,496.10L212.19,496.35L212.25,496.60L212.31,496.85L212.37,497.10L212.43,497.35L212.49,497.60L212.55,497.85L212.61,498.10L212.67,498.35L212.73,498.60L212.79,498.85L212.85,499.10L212.92,499.35L212.98,499.60L213.05,499.85L213.12,500.10L213.18,500.35L213.25,500.60L213.32,500.85L213.39,501.10L213.46,501.35L213.53,501.60L213.61,501.85L213.68,502.10L213.75,502.35L213.82,502.60L213.89,502.85L213.96,503.10L214.02,503.35L214.09,503.60L214.16,503.85L214.22,504.10L214.28,504.35L214.35,504.60L214.41,504.85L214.46,505.10L214.52,505.35L214.57,505.60L214.62,505.85L214.66,506.10L214.71,506.35L214.75,506.60L214.78,506.85L214.82,507.10L214.86,507.35L214.90,507.60L214.93,507.85L214.97,508.10L215.01,508.35L215.05,508.60L215.08,508.85L215.12,509.10L215.15,509.35L215.19,509.60L215.22,509.85L215.25,510.10L215.28,510.35L215.31,510.60L215.34,510.85L215.37,511.10L215.39,511.35L215.41,511.60L215.43,511.85L215.45,512.10L215.47,512.35L215.48,512.60L215.49,512.85L215.50,513.10L215.50,513.35L215.50,513.60L215.47,513.85L215.43,514.10L215.38,514.35L215.32,514.60L215.25,514.85L215.17,515.10L215.08,515.35L215.00,515.60L214.91,515.85L214.82,516.10L214.73,516.35L214.64,516.60L214.54,516.85L214.45,517.10L214.36,517.35L214.27,517.60L214.19,517.85L214.10,518.10L214.02,518.35L213.94,518.60L213.87,518.85L213.80,519.10L213.73,519.35L213.65,519.60L213.58,519.85L213.51,520.10L213.44,520.35L213.36,520.60L213.29,520.85L213.22,521.10L213.14,521.35L213.07,521.60L212.99,521.85L212.92,522.10L212.84,522.35L212.77,522.60L212.69,522.85L212.62,523.10L212.54,523.35L212.47,523.60L212.39,523.85L212.32,524.10L212.24,524.35L212.17,524.60L212.09,524.85L212.01,525.10L211.94,525.35L211.86,525.60L211.79,525.85L211.71,526.10L211.63,526.35L211.56,526.60L211.48,526.85L211.40,527.10L211.33,527.35L211.25,527.60L211.18,527.85L211.10,528.10L211.02,528.35L210.95,528.60L210.87,528.85L210.79,529.10L210.71,529.35L210.63,529.60L210.54,529.85L210.45,530.10L210.36,530.35L210.27,530.60L210.17,530.85L210.08,531.10L209.98,531.35L209.89,531.60L209.79,531.85L209.69,532.10L209.60,532.35L209.50,532.60L209.41,532.85L209.31,533.10L209.09,533.10L208.99,532.85L208.90,532.60L208.80,532.35L208.71,532.10L208.61,531.85L208.51,531.60L208.42,531.35L208.32,531.10L208.23,530.85L208.13,530.60L208.04,530.35L207.95,530.10L207.86,529.85L207.77,529.60L207.69,529.35L207.61,529.10L207.53,528.85L207.45,528.60L207.38,528.35L207.30,528.10L207.22,527.85L207.15,527.60L207.07,527.35L207.00,527.10L206.92,526.85L206.84,526.60L206.77,526.35L206.69,526.10L206.61,525.85L206.54,525.60L206.46,525.35L206.39,525.10L206.31,524.85L206.23,524.60L206.16,524.35L206.08,524.10L206.01,523.85L205.93,523.60L205.86,523.35L205.78,523.10L205.71,522.85L205.63,522.60L205.56,522.35L205.48,522.10L205.41,521.85L205.33,521.60L205.26,521.35L205.18,521.10L205.11,520.85L205.04,520.60L204.96,520.35L204.89,520.10L204.82,519.85L204.75,519.60L204.67,519.35L204.60,519.10L204.53,518.85L204.46,518.60L204.38,518.35L204.30,518.10L204.21,517.85L204.13,517.60L204.04,517.35L203.95,517.10L203.86,516.85L203.76,516.60L203.67,516.35L203.58,516.10L203.49,515.85L203.40,515.60L203.32,515.35L203.23,515.10L203.15,514.85L203.08,514.60L203.02,514.35L202.97,514.10L202.93,513.85L202.90,513.60L202.90,513.35L202.90,513.10L202.91,512.85L202.92,512.60L202.93,512.35L202.95,512.10L202.97,511.85L202.99,511.60L203.01,511.35L203.03,511.10L203.06,510.85L203.09,510.60L203.12,510.35L203.15,510.10L203.18,509.85L203.21,509.60L203.25,509.35L203.28,509.10L203.32,508.85L203.35,508.60L203.39,508.35L203.43,508.10L203.47,507.85L203.50,507.60L203.54,507.35L203.58,507.10L203.62,506.85L203.65,506.60L203.69,506.35L203.74,506.10L203.78,505.85L203.83,505.60L203.88,505.35L203.94,505.10L203.99,504.85L204.05,504.60L204.12,504.35L204.18,504.10L204.24,503.85L204.31,503.60L204.38,503.35L204.44,503.10L204.51,502.85L204.58,502.60L204.65,502.35L204.72,502.10L204.79,501.85L204.87,501.60L204.94,501.35L205.01,501.10L205.08,500.85L205.15,500.60L205.22,500.35L205.28,500.10L205.35,499.85L205.42,499.60L205.48,499.35L205.55,499.10L205.61,498.85L205.67,498.60L205.73,498.35L205.79,498.10L205.85,497.85L205.91,497.60L205.97,497.35L206.03,497.10L206.09,496.85L206.15,496.60L206.21,496.35L206.27,496.10L206.32,495.85L206.38,495.60L206.44,495.35L206.50,495.10L206.56,494.85L206.62,494.60L206.68,494.35L206.74,494.10L206.80,493.85L206.87,493.60L206.93,493.35L206.99,493.10L207.06,492.85L207.12,492.60L207.19,492.35L207.26,492.10L207.33,491.85L207.40,491.60L207.47,491.35L207.55,491.10L207.63,490.85L207.73,490.60L207.84,490.35L207.96,490.10L208.08,489.85L208.20,489.60L208.32,489.35L208.44,489.10L208.55,488.85L208.66,488.60L208.77,488.35L208.88,488.10L208.98,487.85L209.07,487.60Z" fill="#818181"/>
<line x1="202.96" y1="512" x2="215.44" y2="512" stroke="#000" stroke-width="1.4" stroke-dasharray="4.6 3.2"/>
<line x1="206.06" y1="497" x2="212.34" y2="497" stroke="#000" stroke-width="1.3" stroke-dasharray="1.3 3.4" stroke-dashoffset="-1.5"/>
<line x1="205.75" y1="523" x2="212.65" y2="523" stroke="#000" stroke-width="1.3" stroke-dasharray="1.3 3.4" stroke-dashoffset="-1.5"/>
</svg></body></html>
